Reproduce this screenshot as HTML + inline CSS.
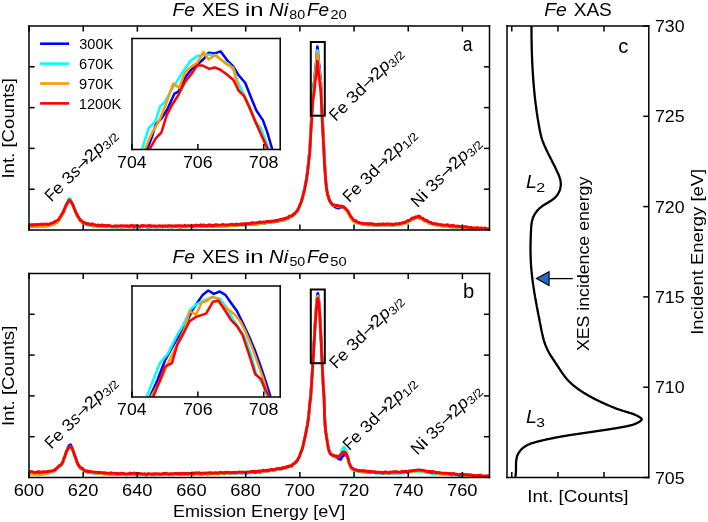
<!DOCTYPE html>
<html><head><meta charset="utf-8"><title>Fe XES / XAS</title>
<style>html,body{margin:0;padding:0;background:#fff;width:708px;height:522px;overflow:hidden}
svg{display:block;font-family:"Liberation Sans",sans-serif;will-change:transform}</style></head>
<body>
<svg width="708" height="522" viewBox="0 0 708 522"><rect width="708" height="522" fill="#fff"/><defs>
<clipPath id="ca"><rect x="29.00" y="26.00" width="460.50" height="204.00"/></clipPath>
<clipPath id="cb"><rect x="29.00" y="273.50" width="460.50" height="204.00"/></clipPath>
<clipPath id="cia"><rect x="132.00" y="38.50" width="148.20" height="111.00"/></clipPath>
<clipPath id="cib"><rect x="132.00" y="286.00" width="148.20" height="111.00"/></clipPath>
<clipPath id="cc"><rect x="507.00" y="26.00" width="141.80" height="451.50"/></clipPath>
</defs>
<polyline points="29.0,226.3 29.4,226.5 29.7,226.7 30.1,226.8 30.4,226.8 30.8,226.5 31.1,226.4 31.5,226.2 31.8,226.0 32.2,226.1 32.5,226.3 32.9,226.2 33.2,226.4 33.6,226.7 33.9,226.7 34.3,226.6 34.6,226.6 35.0,226.3 35.0,226.2 35.3,226.3 35.7,226.3 36.0,226.3 36.4,226.5 36.7,226.5 37.1,226.5 37.4,226.5 37.8,226.4 38.1,226.3 38.5,226.2 38.8,226.2 39.2,226.4 39.5,226.4 39.9,226.5 40.0,226.4 40.2,226.0 40.6,226.1 40.9,226.4 41.3,226.6 41.6,226.7 42.0,226.5 42.3,226.4 42.7,226.3 43.0,226.2 43.4,226.3 43.7,226.3 44.1,226.3 44.4,226.4 44.8,226.6 45.1,226.4 45.5,226.0 45.8,226.0 46.0,226.0 46.2,225.7 46.5,225.3 46.9,225.5 47.2,225.8 47.6,225.7 47.9,225.6 48.3,225.6 48.6,225.6 49.0,225.8 49.3,225.5 49.7,225.4 50.0,225.4 50.4,225.0 50.5,224.8 50.7,224.8 51.1,224.6 51.4,224.7 51.8,224.8 52.1,224.6 52.5,224.5 52.8,224.7 53.2,224.8 53.5,224.3 53.9,223.7 54.2,223.8 54.4,223.9 54.6,223.6 54.9,223.2 55.3,223.0 55.6,222.8 56.0,222.6 56.3,222.7 56.7,222.6 57.0,222.1 57.4,221.7 57.7,221.7 58.1,221.6 58.4,221.1 58.4,221.1 58.8,220.9 59.1,220.5 59.5,219.7 59.8,218.8 60.2,218.3 60.5,217.6 60.9,216.6 61.2,216.1 61.2,216.1 61.6,215.5 61.9,214.9 62.3,214.4 62.6,213.9 63.0,213.4 63.3,212.5 63.7,211.5 64.0,210.9 64.0,211.2 64.4,210.2 64.7,209.2 65.1,208.3 65.4,207.6 65.8,206.9 66.1,206.0 66.4,205.3 66.5,205.2 66.8,204.4 67.2,203.6 67.5,202.9 67.9,202.4 68.1,202.1 68.2,201.9 68.6,201.5 68.9,200.9 69.3,200.2 69.5,199.9 69.6,199.9 70.0,200.3 70.3,200.9 70.7,201.6 71.0,202.3 71.2,202.6 71.4,202.2 71.7,202.3 72.1,202.9 72.4,203.7 72.8,204.8 73.1,206.0 73.3,206.6 73.5,206.7 73.8,207.5 74.2,208.5 74.5,209.4 74.9,210.5 75.2,211.6 75.3,211.7 75.6,212.2 75.9,213.1 76.3,214.1 76.6,214.9 77.0,215.3 77.3,215.9 77.4,216.2 77.7,216.8 78.0,217.5 78.4,217.7 78.7,218.1 79.1,218.8 79.4,219.4 79.8,220.0 80.1,220.7 80.2,221.0 80.5,221.0 80.8,221.1 81.2,221.6 81.5,222.1 81.9,222.3 82.2,222.4 82.6,222.6 82.9,222.7 83.3,223.0 83.3,223.3 83.6,223.3 84.0,223.3 84.3,223.6 84.7,223.8 85.0,223.9 85.4,224.1 85.7,224.1 86.1,223.8 86.4,224.1 86.8,224.4 87.1,224.3 87.5,224.0 87.5,224.1 87.8,224.6 88.2,224.8 88.5,224.4 88.9,224.5 89.2,224.9 89.6,225.1 89.9,225.2 90.3,225.4 90.6,225.2 91.0,224.9 91.3,224.9 91.7,225.0 92.0,225.4 92.0,225.7 92.4,226.0 92.7,226.1 93.1,226.1 93.4,226.0 93.8,225.8 94.1,225.6 94.5,225.6 94.8,225.9 95.2,226.0 95.5,225.9 95.9,225.6 96.2,225.4 96.6,225.7 96.9,226.2 97.3,226.2 97.6,226.1 98.0,226.1 98.0,226.0 98.3,225.9 98.7,226.0 99.0,226.2 99.4,226.2 99.7,226.0 100.1,226.1 100.4,226.1 100.8,226.2 101.1,226.5 101.5,226.6 101.8,226.2 102.2,226.4 102.5,226.7 102.9,226.5 103.2,226.2 103.6,226.4 103.9,226.4 104.3,226.4 104.6,226.5 104.7,226.4 105.0,226.6 105.3,226.7 105.7,226.4 106.0,226.5 106.4,226.8 106.7,226.8 107.1,226.7 107.4,226.7 107.8,226.6 108.1,226.6 108.5,226.7 108.8,226.6 109.2,226.5 109.5,226.7 109.9,226.8 110.2,226.5 110.6,226.3 110.9,226.5 111.3,226.7 111.6,226.8 112.0,226.7 112.3,226.6 112.7,226.7 113.0,226.9 113.4,226.8 113.7,226.5 114.1,226.3 114.4,226.6 114.8,227.0 115.1,226.9 115.5,226.7 115.8,226.9 116.2,227.0 116.5,226.8 116.9,226.8 117.0,227.1 117.2,227.2 117.6,227.0 117.9,226.8 118.3,226.6 118.6,226.4 119.0,226.5 119.3,226.7 119.7,226.8 120.0,227.0 120.4,226.9 120.7,226.9 121.1,227.2 121.4,227.2 121.8,227.0 122.1,226.9 122.5,226.7 122.8,226.5 123.2,226.7 123.5,226.9 123.9,226.8 124.2,226.8 124.6,226.8 124.9,226.8 125.3,226.7 125.6,226.7 126.0,226.7 126.3,226.5 126.7,226.6 127.0,226.8 127.4,226.9 127.7,226.5 128.1,226.4 128.4,226.9 128.8,227.0 129.1,226.7 129.5,226.8 129.8,226.9 130.2,226.8 130.5,226.8 130.9,226.9 131.2,227.1 131.6,227.2 131.9,226.9 132.3,226.8 132.6,226.7 133.0,226.5 133.3,226.6 133.7,227.1 134.0,227.5 134.4,227.4 134.7,227.0 135.0,226.8 135.1,226.9 135.4,226.8 135.8,226.6 136.1,226.6 136.5,226.5 136.8,226.3 137.2,226.3 137.5,226.8 137.9,226.8 138.2,226.6 138.6,226.5 138.9,226.5 139.3,226.8 139.6,227.2 140.0,227.0 140.3,226.8 140.7,226.8 141.0,226.8 141.4,226.7 141.7,226.7 142.1,226.8 142.4,226.9 142.8,226.8 143.1,226.7 143.5,226.5 143.8,226.2 144.2,226.3 144.5,226.7 144.9,226.7 145.2,226.7 145.6,226.6 145.9,226.7 146.3,226.7 146.6,226.5 147.0,226.7 147.3,227.2 147.7,227.4 148.0,227.1 148.4,226.8 148.7,226.6 149.1,226.6 149.4,227.0 149.8,227.2 150.1,227.1 150.5,226.9 150.8,226.8 151.2,227.0 151.5,226.9 151.9,226.8 152.2,226.9 152.6,226.7 152.9,226.5 153.3,226.6 153.6,226.5 154.0,226.6 154.3,226.8 154.7,226.8 155.0,226.8 155.0,226.9 155.4,227.0 155.7,227.0 156.1,227.1 156.4,226.9 156.8,226.7 157.1,226.9 157.5,226.9 157.8,226.9 158.2,226.9 158.5,226.9 158.9,226.8 159.2,226.7 159.6,226.8 159.9,226.6 160.3,226.5 160.6,226.6 161.0,226.6 161.3,226.6 161.7,226.6 162.0,226.5 162.4,226.8 162.7,227.2 163.1,226.9 163.4,226.7 163.8,226.7 164.1,226.6 164.5,226.4 164.8,226.3 165.2,226.5 165.5,226.8 165.9,226.6 166.2,226.5 166.6,226.7 166.9,226.7 167.3,226.8 167.6,227.0 168.0,226.9 168.3,226.6 168.7,226.6 169.0,226.8 169.4,226.6 169.7,226.6 170.1,226.8 170.4,226.7 170.8,226.5 171.1,226.6 171.5,226.7 171.8,226.9 172.2,227.2 172.5,227.0 172.9,226.7 173.2,226.8 173.6,226.8 173.9,226.6 174.3,226.5 174.6,226.6 175.0,226.6 175.0,226.3 175.3,226.0 175.7,226.2 176.0,226.6 176.4,226.7 176.7,226.5 177.1,226.5 177.4,226.6 177.8,226.8 178.1,227.1 178.5,227.3 178.8,227.0 179.2,226.5 179.5,226.4 179.9,226.5 180.2,226.5 180.6,227.0 180.9,227.3 181.3,226.8 181.6,226.7 182.0,226.8 182.3,226.7 182.7,226.4 183.0,226.2 183.4,226.2 183.7,226.2 184.1,226.2 184.4,226.4 184.8,226.5 185.1,226.5 185.5,226.6 185.8,226.7 186.2,226.7 186.5,226.6 186.9,226.7 187.2,227.0 187.6,227.0 187.9,226.8 188.3,226.6 188.6,226.6 189.0,226.6 189.3,226.5 189.7,226.7 190.0,226.9 190.4,226.7 190.7,226.4 191.1,226.3 191.4,226.5 191.8,226.6 192.1,226.6 192.5,226.6 192.8,226.5 193.2,226.6 193.5,226.8 193.9,226.8 194.2,226.8 194.6,226.9 194.9,226.7 195.0,226.6 195.3,226.9 195.6,227.0 196.0,226.6 196.3,226.4 196.7,226.4 197.0,226.2 197.4,226.3 197.7,226.6 198.1,226.8 198.4,226.7 198.8,226.5 199.1,226.5 199.5,226.6 199.8,226.5 200.2,226.4 200.5,226.3 200.9,226.2 201.2,226.2 201.6,226.3 201.9,226.4 202.3,226.4 202.6,226.3 203.0,226.2 203.3,226.4 203.7,226.5 204.0,226.4 204.4,226.2 204.7,226.2 205.1,226.3 205.4,226.3 205.8,226.1 206.1,225.9 206.5,225.9 206.8,226.0 207.2,226.1 207.5,226.4 207.9,226.5 208.2,226.3 208.6,226.2 208.9,226.2 209.3,226.2 209.6,226.1 210.0,226.3 210.3,226.4 210.7,226.2 211.0,226.2 211.4,226.4 211.7,226.5 212.1,226.4 212.4,225.8 212.8,225.7 213.1,226.4 213.5,226.5 213.8,226.0 214.2,225.8 214.5,225.8 214.9,226.0 215.0,226.4 215.2,226.3 215.6,225.9 215.9,226.0 216.3,226.1 216.6,226.1 217.0,225.8 217.3,225.5 217.7,225.6 218.0,226.0 218.4,226.4 218.7,226.6 219.1,226.5 219.4,226.2 219.8,226.1 220.1,226.1 220.5,226.2 220.8,226.2 221.2,226.0 221.5,226.0 221.9,226.0 222.2,226.2 222.6,226.3 222.9,226.2 223.3,226.1 223.6,226.0 224.0,226.1 224.3,226.1 224.7,225.9 225.0,225.8 225.4,226.0 225.7,226.0 226.1,225.8 226.4,225.6 226.8,225.5 227.1,225.6 227.5,225.7 227.8,225.9 228.2,225.6 228.5,225.3 228.9,225.5 229.2,225.8 229.6,225.7 229.9,225.6 230.3,225.7 230.6,225.6 231.0,225.4 231.3,225.6 231.7,225.6 232.0,225.4 232.4,225.2 232.7,225.0 233.1,225.4 233.4,225.7 233.8,225.5 234.1,225.3 234.5,225.6 234.8,225.7 235.2,225.4 235.5,225.1 235.9,224.9 236.2,225.0 236.6,225.2 236.9,225.1 237.3,224.9 237.6,225.1 237.6,225.4 238.0,225.3 238.3,225.0 238.7,225.0 239.0,225.3 239.4,225.2 239.7,224.9 240.1,224.9 240.4,224.9 240.8,224.8 241.1,224.8 241.5,224.9 241.8,224.8 242.2,224.6 242.5,224.6 242.9,224.7 243.2,224.9 243.6,224.8 243.9,224.7 244.3,224.9 244.6,224.9 245.0,224.6 245.3,224.4 245.7,224.4 246.0,224.6 246.4,224.7 246.7,224.6 247.1,224.4 247.4,224.2 247.8,224.0 248.1,224.1 248.5,224.1 248.8,224.0 249.2,224.2 249.5,224.5 249.9,224.3 250.2,223.9 250.6,223.8 250.9,223.9 251.3,224.1 251.6,224.2 252.0,224.0 252.3,223.8 252.7,223.8 253.0,223.8 253.4,224.0 253.7,224.2 254.1,224.3 254.4,224.0 254.8,224.0 255.1,224.4 255.5,224.5 255.8,224.0 256.2,223.6 256.5,223.6 256.9,223.7 257.2,223.8 257.6,223.9 257.9,223.8 258.3,223.5 258.6,223.4 259.0,223.4 259.3,223.6 259.7,223.8 260.0,223.6 260.2,223.5 260.4,223.6 260.7,223.4 261.1,223.2 261.4,223.2 261.8,223.1 262.1,223.0 262.5,222.9 262.8,223.0 263.2,223.3 263.5,223.2 263.9,223.1 264.2,223.1 264.6,223.1 264.9,223.3 265.3,223.3 265.6,222.9 266.0,222.6 266.3,222.7 266.7,222.5 267.0,222.4 267.4,222.5 267.7,222.5 268.1,222.3 268.4,222.3 268.8,222.3 269.1,222.0 269.5,222.0 269.8,222.1 270.0,222.1 270.2,222.2 270.5,222.4 270.9,222.1 271.2,221.8 271.6,221.8 271.9,222.0 272.3,221.8 272.6,221.5 273.0,221.6 273.3,221.6 273.7,221.5 274.0,221.6 274.4,221.5 274.7,221.5 275.1,221.5 275.4,221.4 275.8,221.3 276.1,221.0 276.5,220.7 276.8,220.9 277.1,221.2 277.2,221.1 277.5,220.9 277.9,221.3 278.2,221.3 278.6,221.0 278.9,221.0 279.3,220.9 279.6,220.9 280.0,221.1 280.3,220.6 280.7,220.1 281.0,220.0 281.4,220.0 281.7,220.0 282.1,220.0 282.4,220.0 282.8,220.1 283.0,219.9 283.1,219.8 283.5,219.7 283.8,219.8 284.2,220.1 284.5,220.1 284.9,219.5 285.2,219.1 285.6,218.9 285.9,218.8 286.3,218.8 286.6,218.5 287.0,218.4 287.3,218.6 287.7,218.7 288.0,218.4 288.4,218.2 288.4,218.1 288.7,217.8 289.1,217.8 289.4,217.6 289.8,217.4 290.1,217.5 290.5,217.4 290.8,217.2 291.2,216.9 291.5,216.4 291.5,216.4 291.9,216.3 292.2,216.1 292.6,215.7 292.9,215.5 293.3,215.1 293.6,214.9 294.0,214.5 294.1,213.9 294.3,213.7 294.7,213.9 295.0,213.8 295.4,213.5 295.7,213.0 296.1,212.5 296.2,212.2 296.4,212.0 296.8,211.8 297.1,211.5 297.5,210.6 297.8,209.9 298.2,209.4 298.5,208.3 298.9,207.4 299.2,206.9 299.4,206.5 299.6,205.8 299.9,204.9 300.3,204.1 300.6,203.2 301.0,202.1 301.3,200.8 301.7,199.8 302.0,199.0 302.4,197.8 302.5,197.2 302.7,196.5 303.1,194.8 303.4,193.4 303.8,192.5 304.1,191.0 304.5,188.9 304.8,187.1 305.0,186.0 305.2,185.1 305.5,183.2 305.9,181.6 306.2,179.9 306.6,177.7 306.9,175.0 307.2,172.7 307.3,172.4 307.6,169.7 308.0,166.8 308.3,163.6 308.7,159.8 308.7,159.2 309.0,156.4 309.4,152.5 309.7,148.4 309.8,147.3 310.1,143.2 310.4,135.7 310.6,131.5 310.8,128.8 311.1,122.7 311.5,116.8 311.5,116.3 311.8,110.4 312.2,103.0 312.5,96.8 312.6,95.2 312.9,92.1 313.2,89.0 313.6,86.4 313.9,83.7 314.2,81.4 314.3,81.2 314.6,77.1 315.0,73.2 315.0,72.7 315.3,69.9 315.7,67.2 316.0,64.3 316.1,63.0 316.4,60.0 316.7,55.4 316.8,54.0 317.1,50.0 317.4,46.5 317.4,46.9 317.8,50.0 318.1,54.6 318.1,54.6 318.5,58.6 318.8,62.4 318.9,63.4 319.2,65.5 319.5,68.4 319.9,71.4 319.9,71.7 320.2,74.6 320.6,78.4 320.8,81.5 320.9,82.8 321.3,91.0 321.4,95.0 321.6,99.9 322.0,108.2 322.3,116.1 322.3,115.9 322.7,122.6 323.0,129.1 323.1,131.0 323.4,136.4 323.7,143.9 323.8,145.8 324.1,151.2 324.4,158.5 324.4,158.4 324.8,164.6 325.1,170.3 325.2,172.1 325.5,176.1 325.8,180.5 326.2,184.2 326.3,185.7 326.5,187.3 326.9,189.9 327.2,191.9 327.3,192.2 327.6,193.3 327.9,194.6 328.3,195.8 328.4,196.5 328.6,197.2 329.0,198.4 329.3,199.6 329.7,200.5 330.0,201.2 330.0,201.1 330.4,201.8 330.7,202.5 331.1,203.2 331.4,203.7 331.8,204.2 332.1,204.7 332.4,205.0 332.5,205.3 332.8,205.7 333.2,205.8 333.5,205.8 333.9,206.0 334.2,206.3 334.6,206.6 334.9,206.7 335.3,207.0 335.6,207.1 335.7,207.3 336.0,207.6 336.3,207.6 336.7,207.6 337.0,207.8 337.4,207.9 337.7,207.5 338.1,207.5 338.4,207.9 338.8,208.2 339.1,208.2 339.1,208.1 339.5,207.8 339.8,207.8 340.2,207.9 340.5,207.6 340.9,207.1 341.2,207.3 341.6,207.6 341.9,207.7 342.3,207.8 342.4,207.7 342.6,207.4 343.0,207.3 343.3,207.5 343.7,207.8 344.0,208.0 344.4,208.1 344.7,208.2 345.1,208.5 345.1,208.8 345.4,209.2 345.8,209.6 346.1,210.1 346.5,210.3 346.8,210.2 347.1,210.4 347.2,210.8 347.5,211.4 347.9,211.8 348.2,212.5 348.6,213.2 348.9,213.9 349.2,214.5 349.3,214.3 349.6,214.8 350.0,215.4 350.3,215.9 350.7,216.6 351.0,217.4 351.2,217.9 351.4,217.9 351.7,218.4 352.1,219.1 352.4,219.7 352.8,220.1 353.1,220.6 353.2,220.7 353.5,220.8 353.8,220.8 354.2,221.3 354.5,221.6 354.9,221.5 355.2,221.6 355.6,221.9 355.9,222.3 356.3,222.4 356.5,222.3 356.6,222.4 357.0,222.6 357.3,222.6 357.7,222.7 358.0,222.8 358.4,223.1 358.7,223.4 359.1,223.4 359.4,223.2 359.8,223.2 360.0,223.4 360.1,223.5 360.5,223.5 360.8,223.5 361.2,223.6 361.5,223.8 361.9,224.1 362.2,224.2 362.6,224.0 362.9,224.1 363.3,224.2 363.6,224.6 364.0,224.6 364.3,224.0 364.7,223.6 365.0,223.9 365.4,224.6 365.7,224.8 366.1,224.5 366.4,224.4 366.8,224.4 367.1,224.2 367.5,224.0 367.6,224.2 367.8,224.5 368.2,224.7 368.5,224.6 368.9,224.6 369.2,224.8 369.6,224.7 369.9,224.7 370.3,224.8 370.6,224.7 371.0,224.7 371.3,224.7 371.7,224.5 372.0,224.6 372.4,224.8 372.7,224.9 373.1,225.3 373.4,225.4 373.8,225.2 374.1,225.0 374.5,225.1 374.8,225.2 375.2,225.2 375.5,225.2 375.9,225.0 376.2,224.7 376.6,224.8 376.9,224.9 377.3,224.7 377.6,224.6 378.0,224.7 378.3,224.8 378.7,224.8 378.9,224.7 379.0,225.2 379.4,225.5 379.7,225.5 380.1,225.2 380.4,225.0 380.8,225.2 381.1,225.3 381.5,225.1 381.8,225.0 382.2,224.6 382.5,224.5 382.9,224.7 383.2,224.5 383.6,224.5 383.9,225.1 384.3,225.4 384.6,225.2 385.0,224.8 385.3,224.7 385.7,225.1 386.0,225.6 386.4,225.6 386.7,225.2 387.1,224.9 387.4,224.9 387.8,225.2 388.1,225.2 388.5,225.1 388.8,224.8 389.2,224.6 389.5,224.8 389.9,225.1 390.2,225.5 390.2,225.5 390.6,225.2 390.9,224.8 391.3,224.6 391.6,224.8 392.0,225.3 392.3,225.4 392.7,225.2 393.0,225.2 393.4,225.3 393.7,225.3 394.1,225.1 394.4,224.7 394.8,224.5 395.1,224.7 395.5,224.8 395.8,224.9 396.0,225.0 396.2,224.9 396.5,224.5 396.9,224.6 397.2,224.7 397.6,224.6 397.9,224.5 398.3,224.4 398.6,224.2 399.0,224.4 399.3,224.9 399.7,224.9 400.0,224.7 400.4,224.3 400.7,224.2 401.1,224.3 401.4,224.0 401.5,223.9 401.8,223.7 402.1,223.4 402.5,223.3 402.8,223.3 403.2,223.3 403.5,223.5 403.9,223.7 404.2,223.2 404.6,223.0 404.9,223.2 405.3,223.2 405.5,223.2 405.6,223.1 406.0,222.6 406.3,222.3 406.7,222.3 407.0,222.2 407.4,221.7 407.7,221.4 408.1,221.6 408.4,221.8 408.5,221.7 408.8,221.5 409.1,221.0 409.5,220.7 409.8,220.8 410.2,220.7 410.5,220.4 410.9,219.8 411.2,219.7 411.6,219.7 411.9,219.3 412.3,219.1 412.6,219.3 412.8,219.5 413.0,219.5 413.3,219.1 413.7,218.8 414.0,218.5 414.4,218.1 414.7,218.0 415.1,217.9 415.4,217.8 415.5,217.7 415.8,217.6 416.1,217.9 416.5,217.8 416.8,217.3 417.2,217.1 417.5,217.1 417.5,217.2 417.9,217.3 418.2,217.4 418.6,217.4 418.9,217.6 419.3,218.1 419.6,218.5 420.0,218.4 420.0,218.0 420.3,218.0 420.7,218.2 421.0,218.2 421.4,218.3 421.7,218.5 422.1,218.8 422.4,219.0 422.5,219.0 422.8,219.5 423.1,219.8 423.5,220.1 423.8,220.5 424.2,220.8 424.5,220.8 424.9,220.7 425.2,221.0 425.6,221.2 425.6,221.1 425.9,221.1 426.3,221.3 426.6,221.6 427.0,221.9 427.3,221.9 427.7,221.6 428.0,221.8 428.4,222.3 428.7,222.8 429.1,223.1 429.4,223.2 429.8,223.4 430.1,223.5 430.5,223.6 430.5,223.3 430.8,223.5 431.2,224.0 431.5,224.0 431.9,224.0 432.2,224.2 432.6,224.2 432.9,224.1 433.3,224.3 433.6,224.7 434.0,224.7 434.3,224.4 434.7,224.1 435.0,224.3 435.4,224.9 435.7,225.0 436.1,224.9 436.2,225.1 436.4,225.0 436.8,224.8 437.1,225.0 437.5,225.1 437.8,225.1 438.2,225.4 438.5,225.7 438.9,225.5 439.2,225.5 439.6,225.5 439.9,225.4 440.3,225.3 440.6,225.2 441.0,225.3 441.3,225.7 441.7,225.9 442.0,225.8 442.4,225.9 442.7,226.0 443.1,225.9 443.4,225.8 443.8,226.0 444.1,225.9 444.5,225.9 444.8,226.1 445.2,226.1 445.5,226.0 445.9,226.2 446.2,226.1 446.6,225.8 446.8,226.0 446.9,226.1 447.3,226.1 447.6,226.3 448.0,226.5 448.3,226.5 448.7,226.4 449.0,226.6 449.4,226.5 449.7,226.4 450.1,226.4 450.4,226.3 450.8,226.2 451.1,226.4 451.5,226.8 451.8,226.9 452.2,226.6 452.5,226.4 452.9,226.7 453.2,226.9 453.6,226.8 453.9,226.7 454.3,226.8 454.6,226.9 455.0,226.6 455.3,226.5 455.7,226.7 456.0,226.9 456.4,227.3 456.7,227.3 457.1,226.8 457.4,226.7 457.8,226.7 458.1,226.8 458.5,226.8 458.8,226.8 459.2,227.0 459.5,227.4 459.5,227.5 459.9,227.5 460.2,227.4 460.6,227.2 460.9,227.2 461.3,227.5 461.6,227.4 462.0,227.3 462.3,227.6 462.7,227.7 463.0,227.5 463.4,227.6 463.7,227.8 464.1,227.6 464.4,227.5 464.8,227.7 465.1,227.9 465.5,227.9 465.8,227.7 466.2,228.1 466.5,228.5 466.9,228.3 467.2,228.2 467.6,228.2 467.9,228.0 468.0,228.1 468.3,228.0 468.6,227.7 469.0,227.9 469.3,228.3 469.7,228.4 470.0,228.2 470.4,228.1 470.7,228.4 471.1,228.4 471.4,228.6 471.8,228.6 472.1,228.4 472.5,228.3 472.8,228.3 473.2,228.4 473.5,228.5 473.9,228.4 474.2,228.7 474.6,229.1 474.9,229.2 475.3,229.1 475.6,229.0 476.0,228.9 476.3,228.8 476.7,228.8 477.0,228.9 477.4,229.0 477.7,229.2 478.1,229.0 478.4,228.6 478.6,228.9 478.8,229.3 479.1,229.0 479.5,228.9 479.8,229.1 480.2,229.5 480.5,229.6 480.9,229.5 481.2,229.4 481.6,229.1 481.9,228.8 482.3,229.2 482.6,229.6 483.0,229.8 483.3,229.9 483.7,229.6 484.0,229.1 484.4,229.0 484.7,229.5 485.1,229.7 485.4,229.7 485.8,229.8 486.1,229.7 486.5,229.5 486.8,229.8 487.2,229.9 487.5,229.7 487.9,229.4 488.2,229.1 488.6,229.5 488.9,229.8 489.3,229.7 489.5,229.7" fill="none" stroke="#0000ff" stroke-width="2.70" stroke-linejoin="round" stroke-linecap="butt" clip-path="url(#ca)"/>
<polyline points="29.0,226.8 29.4,226.9 29.7,226.7 30.1,226.5 30.4,226.6 30.8,226.6 31.1,226.6 31.5,226.7 31.8,226.5 32.2,226.2 32.5,226.3 32.9,226.1 33.2,226.1 33.6,226.4 33.9,226.5 34.3,226.2 34.6,226.5 35.0,226.7 35.0,226.6 35.3,226.4 35.7,226.4 36.0,226.6 36.4,226.6 36.7,226.5 37.1,226.7 37.4,226.6 37.8,226.3 38.1,226.3 38.5,226.3 38.8,226.3 39.2,226.5 39.5,226.7 39.9,226.7 40.0,226.6 40.2,226.4 40.6,226.6 40.9,226.7 41.3,226.5 41.6,226.5 42.0,226.6 42.3,226.3 42.7,226.1 43.0,226.3 43.4,226.4 43.7,226.5 44.1,226.7 44.4,226.6 44.8,226.3 45.1,226.4 45.5,226.4 45.8,226.3 46.0,226.3 46.2,226.3 46.5,226.3 46.9,226.1 47.2,225.9 47.6,225.9 47.9,225.9 48.3,225.6 48.6,225.6 49.0,225.9 49.3,225.6 49.7,225.3 50.0,225.3 50.4,225.5 50.5,225.3 50.7,224.9 51.1,224.9 51.4,224.8 51.8,224.6 52.1,224.4 52.5,224.3 52.8,224.2 53.2,224.1 53.5,224.5 53.9,224.7 54.2,224.2 54.4,223.7 54.6,223.4 54.9,223.3 55.3,223.0 55.6,222.8 56.0,222.8 56.3,222.7 56.7,222.2 57.0,221.9 57.4,222.0 57.7,222.0 58.1,221.5 58.4,221.0 58.4,221.0 58.8,220.3 59.1,219.8 59.5,220.0 59.8,219.6 60.2,218.7 60.5,218.1 60.9,217.6 61.2,216.7 61.2,216.7 61.6,216.5 61.9,215.8 62.3,214.7 62.6,213.8 63.0,213.2 63.3,212.6 63.7,212.0 64.0,211.0 64.0,211.0 64.4,210.2 64.7,209.0 65.1,208.0 65.4,207.3 65.8,206.4 66.1,205.4 66.4,204.5 66.5,204.1 66.8,203.1 67.2,202.4 67.5,201.7 67.9,200.6 68.1,199.7 68.2,199.7 68.6,199.3 68.9,198.9 69.3,198.5 69.5,198.4 69.6,198.5 70.0,198.6 70.3,198.9 70.7,199.5 71.0,200.3 71.2,200.9 71.4,201.0 71.7,201.6 72.1,202.7 72.4,204.0 72.8,205.0 73.1,205.7 73.3,206.3 73.5,207.0 73.8,207.8 74.2,208.5 74.5,209.8 74.9,210.8 75.2,211.4 75.3,211.4 75.6,211.9 75.9,212.7 76.3,213.6 76.6,214.2 77.0,215.1 77.3,216.5 77.4,216.9 77.7,217.1 78.0,217.5 78.4,217.9 78.7,218.5 79.1,219.0 79.4,219.5 79.8,220.1 80.1,220.5 80.2,220.6 80.5,220.9 80.8,221.4 81.2,221.8 81.5,221.9 81.9,222.0 82.2,222.6 82.6,223.2 82.9,223.6 83.3,223.4 83.3,223.0 83.6,222.9 84.0,223.1 84.3,223.5 84.7,223.7 85.0,223.9 85.4,224.3 85.7,224.4 86.1,224.4 86.4,224.3 86.8,224.2 87.1,224.4 87.5,224.9 87.5,225.2 87.8,225.3 88.2,225.0 88.5,224.8 88.9,224.9 89.2,225.0 89.6,225.0 89.9,225.1 90.3,225.3 90.6,225.1 91.0,224.9 91.3,225.2 91.7,225.3 92.0,225.5 92.0,225.5 92.4,225.1 92.7,224.9 93.1,225.3 93.4,225.8 93.8,226.2 94.1,226.1 94.5,225.8 94.8,225.8 95.2,225.8 95.5,225.7 95.9,225.8 96.2,226.0 96.6,226.1 96.9,226.2 97.3,226.5 97.6,226.4 98.0,226.1 98.0,225.8 98.3,226.0 98.7,226.3 99.0,226.5 99.4,226.7 99.7,226.7 100.1,226.3 100.4,226.0 100.8,226.2 101.1,226.2 101.5,226.2 101.8,226.4 102.2,226.5 102.5,226.5 102.9,226.4 103.2,226.4 103.6,226.5 103.9,226.5 104.3,226.6 104.6,226.8 104.7,226.6 105.0,226.7 105.3,226.9 105.7,226.8 106.0,226.8 106.4,227.0 106.7,226.9 107.1,226.8 107.4,226.6 107.8,226.1 108.1,225.9 108.5,226.4 108.8,226.7 109.2,226.6 109.5,226.7 109.9,226.9 110.2,227.1 110.6,227.0 110.9,226.9 111.3,226.9 111.6,226.9 112.0,227.0 112.3,227.4 112.7,227.4 113.0,226.8 113.4,226.5 113.7,226.5 114.1,226.7 114.4,227.4 114.8,227.8 115.1,227.4 115.5,226.8 115.8,226.4 116.2,226.6 116.5,227.2 116.9,227.3 117.0,227.2 117.2,227.3 117.6,227.4 117.9,227.3 118.3,227.2 118.6,227.1 119.0,226.9 119.3,227.1 119.7,227.3 120.0,227.1 120.4,227.1 120.7,227.1 121.1,226.9 121.4,226.7 121.8,226.7 122.1,227.1 122.5,227.5 122.8,227.1 123.2,227.0 123.5,227.0 123.9,226.5 124.2,226.5 124.6,226.8 124.9,226.9 125.3,226.9 125.6,226.8 126.0,226.8 126.3,226.8 126.7,226.8 127.0,226.9 127.4,227.0 127.7,226.9 128.1,227.1 128.4,227.3 128.8,227.2 129.1,227.0 129.5,226.9 129.8,227.1 130.2,227.2 130.5,227.2 130.9,227.3 131.2,227.4 131.6,227.4 131.9,227.4 132.3,227.2 132.6,227.1 133.0,226.9 133.3,226.7 133.7,226.4 134.0,226.3 134.4,226.9 134.7,227.1 135.0,226.7 135.1,226.6 135.4,226.7 135.8,226.9 136.1,227.1 136.5,227.1 136.8,227.5 137.2,227.5 137.5,227.2 137.9,227.3 138.2,227.2 138.6,226.9 138.9,227.1 139.3,227.2 139.6,227.1 140.0,226.9 140.3,226.8 140.7,226.9 141.0,227.0 141.4,227.0 141.7,226.8 142.1,226.8 142.4,226.8 142.8,226.7 143.1,226.8 143.5,226.9 143.8,226.9 144.2,226.9 144.5,226.9 144.9,227.0 145.2,227.0 145.6,227.1 145.9,227.3 146.3,227.2 146.6,226.9 147.0,226.9 147.3,227.2 147.7,227.0 148.0,226.7 148.4,226.6 148.7,226.5 149.1,226.5 149.4,226.7 149.8,226.9 150.1,227.1 150.5,227.4 150.8,227.4 151.2,227.2 151.5,226.8 151.9,226.4 152.2,226.6 152.6,226.8 152.9,226.7 153.3,226.8 153.6,227.0 154.0,227.0 154.3,226.8 154.7,226.8 155.0,226.9 155.0,226.7 155.4,226.8 155.7,226.9 156.1,226.8 156.4,226.9 156.8,227.2 157.1,227.3 157.5,227.4 157.8,227.2 158.2,227.0 158.5,227.0 158.9,227.2 159.2,227.4 159.6,227.3 159.9,226.9 160.3,226.8 160.6,226.9 161.0,227.0 161.3,226.7 161.7,226.5 162.0,226.9 162.4,227.2 162.7,227.0 163.1,226.9 163.4,227.1 163.8,227.1 164.1,227.0 164.5,226.7 164.8,226.3 165.2,226.3 165.5,226.6 165.9,226.8 166.2,226.9 166.6,226.7 166.9,226.2 167.3,226.2 167.6,226.7 168.0,227.1 168.3,227.3 168.7,227.1 169.0,226.6 169.4,226.3 169.7,226.5 170.1,227.0 170.4,227.1 170.8,227.0 171.1,227.1 171.5,226.9 171.8,226.8 172.2,226.9 172.5,226.7 172.9,226.8 173.2,226.8 173.6,226.7 173.9,226.7 174.3,226.8 174.6,227.0 175.0,226.8 175.0,226.3 175.3,226.5 175.7,226.7 176.0,226.6 176.4,226.5 176.7,226.7 177.1,226.9 177.4,227.1 177.8,227.0 178.1,227.0 178.5,227.0 178.8,227.1 179.2,226.9 179.5,226.8 179.9,227.0 180.2,226.9 180.6,226.8 180.9,227.0 181.3,227.0 181.6,226.6 182.0,226.5 182.3,226.6 182.7,226.7 183.0,226.6 183.4,226.6 183.7,226.7 184.1,226.8 184.4,226.9 184.8,226.7 185.1,226.4 185.5,226.5 185.8,226.6 186.2,226.6 186.5,226.7 186.9,226.9 187.2,226.6 187.6,226.1 187.9,226.3 188.3,226.4 188.6,226.4 189.0,226.6 189.3,226.6 189.7,226.5 190.0,226.6 190.4,226.7 190.7,226.7 191.1,226.5 191.4,226.4 191.8,226.5 192.1,226.4 192.5,226.8 192.8,227.1 193.2,226.9 193.5,226.7 193.9,226.5 194.2,226.4 194.6,226.4 194.9,226.5 195.0,226.6 195.3,226.6 195.6,226.7 196.0,226.7 196.3,226.7 196.7,226.6 197.0,226.7 197.4,227.0 197.7,226.9 198.1,226.7 198.4,226.6 198.8,226.5 199.1,226.5 199.5,226.4 199.8,226.5 200.2,226.6 200.5,226.7 200.9,226.9 201.2,226.7 201.6,226.6 201.9,226.8 202.3,226.6 202.6,226.3 203.0,226.3 203.3,226.4 203.7,226.4 204.0,226.5 204.4,226.6 204.7,226.5 205.1,226.2 205.4,226.0 205.8,226.1 206.1,226.3 206.5,226.3 206.8,226.4 207.2,226.3 207.5,226.3 207.9,226.3 208.2,226.3 208.6,226.3 208.9,226.4 209.3,226.3 209.6,226.4 210.0,226.6 210.3,226.7 210.7,226.5 211.0,226.3 211.4,226.3 211.7,226.3 212.1,226.4 212.4,226.3 212.8,226.3 213.1,226.2 213.5,226.0 213.8,226.0 214.2,226.5 214.5,226.5 214.9,226.1 215.0,226.2 215.2,226.5 215.6,226.3 215.9,226.3 216.3,226.5 216.6,226.5 217.0,226.2 217.3,226.0 217.7,226.2 218.0,226.3 218.4,226.2 218.7,226.1 219.1,226.1 219.4,226.0 219.8,226.1 220.1,226.2 220.5,226.3 220.8,226.2 221.2,225.8 221.5,225.7 221.9,225.9 222.2,226.0 222.6,226.1 222.9,226.2 223.3,225.9 223.6,225.6 224.0,225.9 224.3,226.2 224.7,226.4 225.0,226.2 225.4,225.8 225.7,225.7 226.1,225.8 226.4,225.7 226.8,225.6 227.1,225.8 227.5,225.9 227.8,225.9 228.2,225.9 228.5,226.0 228.9,225.8 229.2,225.4 229.6,225.3 229.9,225.6 230.3,226.0 230.6,225.9 231.0,225.5 231.3,225.4 231.7,225.7 232.0,225.7 232.4,225.6 232.7,225.5 233.1,225.6 233.4,225.5 233.8,225.4 234.1,225.4 234.5,225.5 234.8,225.7 235.2,225.7 235.5,225.8 235.9,225.9 236.2,225.6 236.6,225.1 236.9,224.6 237.3,224.6 237.6,225.0 237.6,224.9 238.0,224.9 238.3,225.0 238.7,225.1 239.0,225.1 239.4,225.3 239.7,225.7 240.1,225.6 240.4,225.1 240.8,224.8 241.1,225.0 241.5,225.1 241.8,224.7 242.2,224.3 242.5,224.8 242.9,225.4 243.2,225.2 243.6,224.7 243.9,224.8 244.3,224.9 244.6,224.6 245.0,224.4 245.3,224.5 245.7,224.5 246.0,224.7 246.4,225.1 246.7,225.2 247.1,224.8 247.4,224.3 247.8,224.2 248.1,224.4 248.5,224.4 248.8,224.4 249.2,224.4 249.5,224.1 249.9,224.0 250.2,224.0 250.6,224.1 250.9,224.3 251.3,224.6 251.6,224.8 252.0,224.8 252.3,224.5 252.7,224.3 253.0,224.2 253.4,224.3 253.7,224.2 254.1,224.2 254.4,224.6 254.8,224.6 255.1,224.4 255.5,224.1 255.8,224.0 256.2,224.0 256.5,224.0 256.9,224.0 257.2,224.0 257.6,223.8 257.9,223.7 258.3,223.8 258.6,223.7 259.0,223.7 259.3,223.8 259.7,223.8 260.0,223.8 260.2,223.8 260.4,223.8 260.7,223.5 261.1,223.1 261.4,223.2 261.8,223.7 262.1,223.5 262.5,223.0 262.8,223.1 263.2,223.2 263.5,223.1 263.9,223.4 264.2,223.5 264.6,223.5 264.9,223.2 265.3,222.8 265.6,222.7 266.0,222.6 266.3,222.5 266.7,222.8 267.0,222.7 267.4,222.6 267.7,222.8 268.1,222.7 268.4,222.5 268.8,222.5 269.1,222.1 269.5,222.1 269.8,222.4 270.0,222.6 270.2,222.6 270.5,222.4 270.9,222.4 271.2,222.5 271.6,222.1 271.9,221.8 272.3,222.1 272.6,222.1 273.0,221.9 273.3,222.0 273.7,222.1 274.0,222.1 274.4,222.1 274.7,222.1 275.1,222.1 275.4,222.0 275.8,221.8 276.1,221.6 276.5,221.5 276.8,221.3 277.1,221.2 277.2,221.3 277.5,221.2 277.9,220.9 278.2,220.8 278.6,220.8 278.9,220.7 279.3,221.0 279.6,221.0 280.0,220.8 280.3,220.6 280.7,220.6 281.0,220.4 281.4,220.2 281.7,220.2 282.1,220.2 282.4,219.9 282.8,219.8 283.0,219.8 283.1,219.6 283.5,219.7 283.8,219.7 284.2,219.5 284.5,219.4 284.9,219.5 285.2,219.3 285.6,219.0 285.9,218.9 286.3,218.8 286.6,218.5 287.0,218.5 287.3,218.4 287.7,218.1 288.0,218.0 288.4,218.0 288.4,218.0 288.7,217.8 289.1,217.9 289.4,217.9 289.8,217.7 290.1,217.7 290.5,217.5 290.8,217.3 291.2,217.0 291.5,216.7 291.5,216.8 291.9,216.8 292.2,216.4 292.6,216.0 292.9,215.6 293.3,215.1 293.6,214.8 294.0,214.5 294.1,214.6 294.3,214.5 294.7,214.2 295.0,214.0 295.4,213.7 295.7,213.2 296.1,212.8 296.2,212.4 296.4,212.0 296.8,211.5 297.1,211.1 297.5,210.7 297.8,210.0 298.2,209.1 298.5,208.4 298.9,207.9 299.2,207.0 299.4,206.2 299.6,205.8 299.9,205.1 300.3,204.2 300.6,203.2 301.0,202.4 301.3,201.4 301.7,200.2 302.0,199.1 302.4,197.9 302.5,197.3 302.7,196.6 303.1,195.4 303.4,194.1 303.8,192.4 304.1,190.6 304.5,189.1 304.8,187.5 305.0,186.7 305.2,186.2 305.5,184.2 305.9,182.1 306.2,180.3 306.6,178.1 306.9,175.4 307.2,173.2 307.3,173.0 307.6,170.0 308.0,166.9 308.3,163.9 308.7,160.7 308.7,160.3 309.0,157.4 309.4,153.7 309.7,149.7 309.8,148.7 310.1,144.8 310.4,137.5 310.6,133.2 310.8,130.3 311.1,124.6 311.5,118.9 311.5,118.0 311.8,112.0 312.2,104.7 312.5,98.9 312.6,97.8 312.9,94.8 313.2,91.4 313.6,88.8 313.9,86.5 314.2,83.8 314.3,83.3 314.6,79.5 315.0,75.4 315.0,74.8 315.3,72.5 315.7,69.8 316.0,67.0 316.1,66.1 316.4,62.8 316.7,58.3 316.8,57.7 317.1,54.2 317.4,50.5 317.4,50.3 317.8,52.9 318.1,57.0 318.1,57.0 318.5,61.4 318.8,65.5 318.9,66.3 319.2,68.7 319.5,71.8 319.9,74.7 319.9,75.2 320.2,77.7 320.6,80.5 320.8,83.6 320.9,85.7 321.3,93.7 321.4,97.0 321.6,101.4 322.0,109.5 322.3,117.7 322.3,117.6 322.7,124.1 323.0,130.7 323.1,132.7 323.4,138.1 323.7,145.3 323.8,146.9 324.1,152.1 324.4,159.3 324.4,159.6 324.8,166.1 325.1,171.4 325.2,172.6 325.5,176.3 325.8,181.0 326.2,184.7 326.3,186.0 326.5,187.4 326.9,189.7 327.2,191.9 327.3,192.7 327.6,193.9 327.9,195.3 328.3,196.4 328.4,197.0 328.6,197.8 329.0,199.0 329.3,199.6 329.7,200.0 330.0,200.8 330.0,201.2 330.4,201.9 330.7,202.2 331.1,202.6 331.4,203.1 331.8,203.7 332.1,204.2 332.4,204.6 332.5,204.6 332.8,204.8 333.2,205.2 333.5,205.5 333.9,205.6 334.2,205.5 334.6,205.2 334.9,205.0 335.3,205.1 335.6,205.1 335.7,205.0 336.0,205.4 336.3,206.1 336.7,206.2 337.0,206.1 337.4,206.3 337.7,206.5 338.1,206.6 338.4,206.5 338.8,206.4 339.1,206.5 339.1,206.6 339.5,206.7 339.8,206.4 340.2,206.5 340.5,206.9 340.9,207.1 341.2,207.0 341.6,206.7 341.9,206.4 342.3,206.8 342.4,207.1 342.6,207.1 343.0,207.4 343.3,207.7 343.7,207.8 344.0,208.1 344.4,208.4 344.7,208.6 345.1,209.1 345.1,209.3 345.4,209.2 345.8,209.2 346.1,209.5 346.5,209.8 346.8,210.7 347.1,211.2 347.2,211.0 347.5,211.5 347.9,212.1 348.2,212.7 348.6,213.2 348.9,213.9 349.2,214.6 349.3,214.6 349.6,215.1 350.0,215.9 350.3,216.6 350.7,217.2 351.0,217.8 351.2,218.1 351.4,218.1 351.7,218.5 352.1,219.0 352.4,219.5 352.8,220.0 353.1,220.4 353.2,220.4 353.5,220.6 353.8,220.8 354.2,221.1 354.5,221.3 354.9,221.6 355.2,222.0 355.6,222.5 355.9,223.0 356.3,223.0 356.5,222.8 356.6,223.0 357.0,223.1 357.3,222.8 357.7,222.5 358.0,222.7 358.4,223.1 358.7,223.2 359.1,223.3 359.4,223.4 359.8,223.4 360.0,223.5 360.1,223.4 360.5,223.7 360.8,224.2 361.2,224.3 361.5,224.0 361.9,223.7 362.2,223.6 362.6,223.8 362.9,224.2 363.3,224.4 363.6,224.6 364.0,224.7 364.3,224.5 364.7,224.3 365.0,224.4 365.4,224.4 365.7,224.3 366.1,224.4 366.4,224.8 366.8,225.1 367.1,224.9 367.5,224.7 367.6,224.6 367.8,224.8 368.2,225.0 368.5,225.0 368.9,225.0 369.2,225.1 369.6,225.0 369.9,224.9 370.3,225.0 370.6,225.1 371.0,225.2 371.3,225.1 371.7,224.9 372.0,225.0 372.4,225.3 372.7,225.4 373.1,225.3 373.4,225.2 373.8,225.0 374.1,224.9 374.5,225.0 374.8,225.1 375.2,225.1 375.5,224.9 375.9,224.9 376.2,225.0 376.6,225.1 376.9,225.0 377.3,225.2 377.6,225.2 378.0,225.0 378.3,225.0 378.7,225.1 378.9,225.1 379.0,225.1 379.4,225.0 379.7,225.2 380.1,225.3 380.4,225.1 380.8,224.9 381.1,224.9 381.5,225.2 381.8,225.5 382.2,225.6 382.5,225.3 382.9,224.9 383.2,225.3 383.6,225.7 383.9,225.3 384.3,224.8 384.6,224.9 385.0,225.2 385.3,225.1 385.7,224.9 386.0,225.0 386.4,225.1 386.7,225.0 387.1,225.1 387.4,225.2 387.8,225.1 388.1,225.3 388.5,225.4 388.8,225.1 389.2,225.0 389.5,225.1 389.9,225.2 390.2,225.2 390.2,225.1 390.6,225.0 390.9,225.1 391.3,225.4 391.6,225.6 392.0,225.3 392.3,224.9 392.7,224.9 393.0,225.1 393.4,225.0 393.7,225.0 394.1,225.2 394.4,225.3 394.8,225.5 395.1,225.2 395.5,224.6 395.8,224.4 396.0,224.8 396.2,224.9 396.5,224.8 396.9,224.8 397.2,225.0 397.6,225.2 397.9,225.4 398.3,225.3 398.6,225.1 399.0,225.0 399.3,224.9 399.7,224.5 400.0,224.4 400.4,224.3 400.7,224.1 401.1,224.2 401.4,224.3 401.5,224.2 401.8,224.1 402.1,224.1 402.5,224.0 402.8,224.1 403.2,224.0 403.5,223.7 403.9,223.5 404.2,223.4 404.6,223.5 404.9,223.4 405.3,223.0 405.5,222.8 405.6,223.1 406.0,223.3 406.3,223.1 406.7,222.6 407.0,222.4 407.4,222.2 407.7,222.0 408.1,221.9 408.4,221.9 408.5,222.1 408.8,222.0 409.1,221.5 409.5,221.1 409.8,220.8 410.2,220.5 410.5,220.4 410.9,220.4 411.2,220.1 411.6,219.7 411.9,219.4 412.3,219.2 412.6,219.0 412.8,218.9 413.0,219.0 413.3,219.0 413.7,218.7 414.0,218.2 414.4,218.0 414.7,218.2 415.1,218.2 415.4,218.1 415.5,217.8 415.8,217.7 416.1,217.9 416.5,217.9 416.8,217.7 417.2,217.7 417.5,217.5 417.5,217.4 417.9,217.4 418.2,217.7 418.6,217.7 418.9,217.6 419.3,217.6 419.6,217.9 420.0,218.1 420.0,217.9 420.3,218.1 420.7,218.5 421.0,218.6 421.4,218.5 421.7,218.6 422.1,219.0 422.4,219.4 422.5,219.6 422.8,219.7 423.1,219.9 423.5,220.1 423.8,220.4 424.2,220.6 424.5,220.6 424.9,220.7 425.2,221.2 425.6,221.1 425.6,220.8 425.9,221.2 426.3,221.5 426.6,221.3 427.0,221.3 427.3,221.7 427.7,222.2 428.0,222.7 428.4,223.0 428.7,222.9 429.1,222.9 429.4,223.3 429.8,223.5 430.1,223.7 430.5,223.7 430.5,223.4 430.8,223.4 431.2,223.6 431.5,224.0 431.9,224.3 432.2,224.2 432.6,224.0 432.9,224.1 433.3,224.3 433.6,224.5 434.0,224.6 434.3,224.7 434.7,225.0 435.0,225.1 435.4,225.0 435.7,224.9 436.1,224.7 436.2,224.6 436.4,224.9 436.8,225.3 437.1,225.5 437.5,225.4 437.8,225.5 438.2,225.5 438.5,225.7 438.9,226.0 439.2,225.9 439.6,225.4 439.9,225.2 440.3,225.7 440.6,225.7 441.0,225.6 441.3,225.7 441.7,225.6 442.0,225.5 442.4,225.5 442.7,225.9 443.1,226.3 443.4,226.2 443.8,225.8 444.1,225.7 444.5,225.5 444.8,225.7 445.2,226.2 445.5,226.3 445.9,226.1 446.2,226.2 446.6,226.4 446.8,226.2 446.9,225.9 447.3,226.2 447.6,226.4 448.0,226.2 448.3,226.2 448.7,226.3 449.0,226.4 449.4,226.7 449.7,227.0 450.1,227.0 450.4,226.9 450.8,226.6 451.1,226.6 451.5,226.8 451.8,226.6 452.2,226.3 452.5,226.4 452.9,226.7 453.2,227.0 453.6,227.2 453.9,227.1 454.3,227.1 454.6,227.0 455.0,227.0 455.3,227.0 455.7,227.0 456.0,227.0 456.4,227.0 456.7,227.2 457.1,227.0 457.4,226.9 457.8,227.3 458.1,227.3 458.5,227.2 458.8,227.1 459.2,227.1 459.5,227.2 459.5,227.3 459.9,227.2 460.2,227.2 460.6,227.3 460.9,227.3 461.3,227.3 461.6,227.3 462.0,227.3 462.3,227.3 462.7,227.7 463.0,227.7 463.4,227.7 463.7,228.1 464.1,228.3 464.4,227.8 464.8,227.4 465.1,227.4 465.5,227.8 465.8,228.2 466.2,228.2 466.5,228.1 466.9,228.2 467.2,228.1 467.6,228.0 467.9,228.0 468.0,228.4 468.3,228.5 468.6,228.2 469.0,228.0 469.3,228.4 469.7,228.8 470.0,228.5 470.4,228.4 470.7,228.6 471.1,228.4 471.4,228.5 471.8,228.6 472.1,228.6 472.5,228.6 472.8,228.7 473.2,228.8 473.5,228.9 473.9,228.9 474.2,228.9 474.6,228.9 474.9,229.2 475.3,229.4 475.6,229.2 476.0,229.1 476.3,229.0 476.7,228.8 477.0,229.1 477.4,229.3 477.7,229.3 478.1,229.5 478.4,229.6 478.6,229.4 478.8,229.1 479.1,229.0 479.5,229.1 479.8,229.2 480.2,229.3 480.5,229.4 480.9,229.3 481.2,229.3 481.6,229.4 481.9,229.5 482.3,229.5 482.6,229.3 483.0,229.3 483.3,229.5 483.7,229.7 484.0,229.7 484.4,229.5 484.7,229.5 485.1,229.5 485.4,229.4 485.8,229.5 486.1,229.5 486.5,229.7 486.8,230.0 487.2,230.1 487.5,230.0 487.9,230.0 488.2,230.3 488.6,230.1 488.9,229.6 489.3,229.5 489.5,229.5" fill="none" stroke="#00ffff" stroke-width="2.70" stroke-linejoin="round" stroke-linecap="butt" clip-path="url(#ca)"/>
<polyline points="29.0,226.6 29.4,226.5 29.7,226.5 30.1,226.6 30.4,226.7 30.8,226.6 31.1,226.4 31.5,226.5 31.8,226.6 32.2,226.8 32.5,226.9 32.9,226.7 33.2,226.4 33.6,226.3 33.9,226.4 34.3,226.2 34.6,225.9 35.0,226.0 35.0,226.3 35.3,226.3 35.7,226.3 36.0,226.3 36.4,226.1 36.7,226.3 37.1,226.8 37.4,226.9 37.8,226.7 38.1,226.5 38.5,226.4 38.8,226.4 39.2,226.3 39.5,226.0 39.9,226.0 40.0,226.3 40.2,226.3 40.6,226.3 40.9,226.5 41.3,226.5 41.6,226.6 42.0,226.4 42.3,226.4 42.7,226.3 43.0,226.0 43.4,226.3 43.7,226.4 44.1,226.2 44.4,226.1 44.8,226.1 45.1,226.1 45.5,226.1 45.8,226.1 46.0,225.9 46.2,225.8 46.5,225.7 46.9,225.8 47.2,226.0 47.6,226.1 47.9,226.1 48.3,226.1 48.6,225.8 49.0,225.4 49.3,225.3 49.7,225.3 50.0,225.2 50.4,224.9 50.5,224.6 50.7,224.3 51.1,224.4 51.4,224.8 51.8,224.7 52.1,224.4 52.5,224.3 52.8,224.0 53.2,223.8 53.5,223.8 53.9,223.6 54.2,223.3 54.4,223.3 54.6,223.7 54.9,223.8 55.3,223.5 55.6,223.3 56.0,223.1 56.3,222.4 56.7,221.8 57.0,221.7 57.4,221.8 57.7,221.7 58.1,221.2 58.4,220.9 58.4,221.2 58.8,220.7 59.1,220.1 59.5,219.4 59.8,218.8 60.2,218.2 60.5,217.4 60.9,216.7 61.2,216.0 61.2,216.3 61.6,216.2 61.9,215.8 62.3,215.0 62.6,213.9 63.0,213.1 63.3,212.7 63.7,212.0 64.0,211.2 64.0,211.3 64.4,210.3 64.7,209.1 65.1,208.3 65.4,207.5 65.8,206.5 66.1,205.7 66.4,204.9 66.5,204.6 66.8,204.1 67.2,203.7 67.5,203.2 67.9,202.6 68.1,202.2 68.2,202.1 68.6,201.3 68.9,200.4 69.3,200.1 69.5,200.1 69.6,200.2 70.0,200.3 70.3,200.5 70.7,201.0 71.0,201.4 71.2,201.6 71.4,201.9 71.7,202.5 72.1,203.1 72.4,204.0 72.8,205.1 73.1,206.0 73.3,206.5 73.5,206.9 73.8,207.6 74.2,208.5 74.5,209.4 74.9,210.5 75.2,211.3 75.3,211.4 75.6,212.0 75.9,212.9 76.3,213.7 76.6,214.7 77.0,215.6 77.3,216.3 77.4,216.4 77.7,216.7 78.0,217.3 78.4,217.9 78.7,218.4 79.1,218.9 79.4,219.4 79.8,219.9 80.1,220.1 80.2,220.1 80.5,220.7 80.8,221.5 81.2,221.9 81.5,222.0 81.9,222.1 82.2,222.4 82.6,222.8 82.9,222.8 83.3,223.0 83.3,223.2 83.6,223.2 84.0,223.1 84.3,223.3 84.7,223.6 85.0,223.9 85.4,223.9 85.7,223.6 86.1,223.6 86.4,223.9 86.8,224.1 87.1,224.3 87.5,224.5 87.5,224.5 87.8,224.4 88.2,224.2 88.5,224.3 88.9,224.5 89.2,224.5 89.6,224.7 89.9,224.8 90.3,225.0 90.6,225.2 91.0,225.1 91.3,225.0 91.7,225.1 92.0,225.2 92.0,225.3 92.4,225.4 92.7,225.6 93.1,225.5 93.4,225.1 93.8,225.4 94.1,225.9 94.5,225.9 94.8,225.5 95.2,225.5 95.5,225.9 95.9,226.0 96.2,225.7 96.6,225.7 96.9,225.9 97.3,225.6 97.6,225.3 98.0,225.7 98.0,226.1 98.3,226.0 98.7,225.8 99.0,225.8 99.4,225.9 99.7,226.0 100.1,226.2 100.4,226.5 100.8,226.3 101.1,225.9 101.5,226.0 101.8,226.4 102.2,226.5 102.5,226.6 102.9,226.4 103.2,226.1 103.6,226.0 103.9,226.3 104.3,226.5 104.6,226.4 104.7,226.4 105.0,226.5 105.3,226.6 105.7,226.7 106.0,226.8 106.4,226.6 106.7,226.5 107.1,226.7 107.4,226.7 107.8,226.7 108.1,226.8 108.5,226.9 108.8,226.8 109.2,226.7 109.5,226.8 109.9,226.9 110.2,227.0 110.6,227.1 110.9,226.9 111.3,226.7 111.6,226.9 112.0,227.0 112.3,226.8 112.7,226.6 113.0,226.6 113.4,226.8 113.7,226.9 114.1,227.0 114.4,227.2 114.8,227.0 115.1,226.7 115.5,226.7 115.8,226.7 116.2,226.7 116.5,226.8 116.9,227.0 117.0,227.1 117.2,226.8 117.6,226.5 117.9,226.7 118.3,226.9 118.6,226.8 119.0,226.9 119.3,227.1 119.7,227.2 120.0,227.0 120.4,226.7 120.7,226.8 121.1,226.8 121.4,226.6 121.8,226.9 122.1,227.0 122.5,227.0 122.8,227.1 123.2,227.1 123.5,226.8 123.9,226.8 124.2,226.6 124.6,226.8 124.9,227.3 125.3,227.3 125.6,227.2 126.0,227.2 126.3,227.0 126.7,226.7 127.0,226.9 127.4,226.9 127.7,226.8 128.1,227.0 128.4,227.2 128.8,226.7 129.1,226.3 129.5,226.6 129.8,226.9 130.2,227.1 130.5,227.1 130.9,227.4 131.2,227.6 131.6,227.4 131.9,227.2 132.3,227.0 132.6,226.9 133.0,226.9 133.3,226.9 133.7,226.8 134.0,226.9 134.4,226.9 134.7,226.9 135.0,226.8 135.1,226.8 135.4,226.9 135.8,226.8 136.1,226.6 136.5,226.7 136.8,227.1 137.2,227.1 137.5,226.9 137.9,226.8 138.2,226.7 138.6,226.7 138.9,226.7 139.3,226.7 139.6,226.9 140.0,227.0 140.3,226.8 140.7,226.6 141.0,226.6 141.4,226.6 141.7,226.8 142.1,227.0 142.4,227.2 142.8,227.3 143.1,227.2 143.5,226.7 143.8,226.6 144.2,226.7 144.5,226.8 144.9,226.7 145.2,226.6 145.6,226.5 145.9,226.7 146.3,226.9 146.6,226.9 147.0,226.6 147.3,226.5 147.7,226.6 148.0,226.7 148.4,226.7 148.7,226.7 149.1,226.7 149.4,226.8 149.8,226.6 150.1,226.4 150.5,226.5 150.8,226.5 151.2,226.2 151.5,226.4 151.9,226.7 152.2,226.7 152.6,226.8 152.9,226.8 153.3,226.8 153.6,227.1 154.0,226.9 154.3,226.4 154.7,226.7 155.0,227.0 155.0,226.7 155.4,226.6 155.7,226.6 156.1,226.5 156.4,226.6 156.8,226.7 157.1,226.8 157.5,227.1 157.8,227.1 158.2,226.7 158.5,226.7 158.9,226.9 159.2,226.9 159.6,226.7 159.9,226.8 160.3,227.2 160.6,227.2 161.0,226.9 161.3,226.9 161.7,226.9 162.0,226.7 162.4,226.5 162.7,226.4 163.1,226.5 163.4,226.7 163.8,226.9 164.1,226.7 164.5,226.5 164.8,226.5 165.2,226.6 165.5,226.9 165.9,226.7 166.2,226.6 166.6,226.8 166.9,226.9 167.3,226.7 167.6,226.6 168.0,226.8 168.3,226.9 168.7,226.7 169.0,226.7 169.4,226.8 169.7,226.9 170.1,226.8 170.4,226.8 170.8,226.6 171.1,226.5 171.5,226.8 171.8,227.0 172.2,227.1 172.5,227.3 172.9,227.1 173.2,226.5 173.6,226.3 173.9,226.6 174.3,226.7 174.6,226.7 175.0,226.5 175.0,226.4 175.3,226.4 175.7,226.6 176.0,226.8 176.4,227.0 176.7,226.9 177.1,226.8 177.4,226.6 177.8,226.8 178.1,227.3 178.5,227.3 178.8,227.0 179.2,226.6 179.5,226.4 179.9,226.4 180.2,226.5 180.6,226.7 180.9,226.9 181.3,227.1 181.6,227.1 182.0,227.0 182.3,226.7 182.7,226.3 183.0,226.3 183.4,226.6 183.7,226.8 184.1,226.8 184.4,226.8 184.8,226.9 185.1,227.1 185.5,226.9 185.8,226.7 186.2,226.8 186.5,226.8 186.9,226.6 187.2,226.7 187.6,226.7 187.9,226.3 188.3,226.3 188.6,226.4 189.0,226.3 189.3,226.6 189.7,226.9 190.0,226.8 190.4,226.5 190.7,226.4 191.1,226.6 191.4,226.5 191.8,226.3 192.1,226.4 192.5,226.2 192.8,226.0 193.2,226.3 193.5,226.6 193.9,226.4 194.2,226.5 194.6,226.6 194.9,226.6 195.0,226.6 195.3,226.6 195.6,226.5 196.0,226.5 196.3,226.5 196.7,226.6 197.0,226.8 197.4,226.8 197.7,226.3 198.1,226.1 198.4,226.3 198.8,226.5 199.1,226.5 199.5,226.5 199.8,226.5 200.2,226.3 200.5,226.1 200.9,226.1 201.2,226.3 201.6,226.6 201.9,226.7 202.3,226.5 202.6,226.3 203.0,226.4 203.3,226.8 203.7,226.6 204.0,226.5 204.4,226.6 204.7,226.5 205.1,226.5 205.4,226.7 205.8,226.4 206.1,226.2 206.5,226.3 206.8,226.3 207.2,226.0 207.5,225.9 207.9,226.2 208.2,226.3 208.6,226.4 208.9,226.6 209.3,226.5 209.6,226.2 210.0,226.0 210.3,226.1 210.7,226.3 211.0,226.4 211.4,226.3 211.7,226.3 212.1,226.5 212.4,226.6 212.8,226.5 213.1,226.4 213.5,226.3 213.8,226.4 214.2,226.3 214.5,225.9 214.9,226.0 215.0,226.2 215.2,226.1 215.6,226.0 215.9,226.2 216.3,226.0 216.6,225.8 217.0,225.7 217.3,225.9 217.7,226.4 218.0,226.4 218.4,225.8 218.7,225.8 219.1,226.1 219.4,225.9 219.8,225.7 220.1,225.7 220.5,225.9 220.8,226.0 221.2,226.0 221.5,225.8 221.9,225.7 222.2,225.7 222.6,225.8 222.9,225.9 223.3,225.9 223.6,225.8 224.0,225.9 224.3,226.2 224.7,226.2 225.0,226.3 225.4,226.5 225.7,226.3 226.1,225.9 226.4,225.7 226.8,225.7 227.1,225.8 227.5,225.8 227.8,225.7 228.2,225.7 228.5,225.9 228.9,225.7 229.2,225.4 229.6,225.4 229.9,225.5 230.3,225.6 230.6,225.6 231.0,225.5 231.3,225.4 231.7,225.3 232.0,225.1 232.4,225.3 232.7,225.6 233.1,225.7 233.4,225.3 233.8,225.1 234.1,225.3 234.5,225.5 234.8,225.4 235.2,225.3 235.5,225.1 235.9,225.1 236.2,225.2 236.6,225.3 236.9,225.1 237.3,224.9 237.6,224.9 237.6,225.1 238.0,225.1 238.3,225.2 238.7,225.4 239.0,225.2 239.4,224.8 239.7,224.7 240.1,224.9 240.4,225.0 240.8,224.9 241.1,224.7 241.5,224.7 241.8,225.0 242.2,225.1 242.5,225.0 242.9,224.8 243.2,224.5 243.6,224.4 243.9,224.5 244.3,224.7 244.6,224.8 245.0,224.7 245.3,224.7 245.7,224.8 246.0,224.5 246.4,224.3 246.7,224.3 247.1,224.4 247.4,224.7 247.8,224.7 248.1,224.6 248.5,224.4 248.8,223.9 249.2,223.9 249.5,224.3 249.9,224.3 250.2,224.1 250.6,224.0 250.9,223.7 251.3,223.9 251.6,224.1 252.0,224.0 252.3,224.0 252.7,224.0 253.0,224.0 253.4,224.1 253.7,223.7 254.1,223.3 254.4,223.5 254.8,223.8 255.1,223.7 255.5,223.7 255.8,223.6 256.2,223.6 256.5,223.9 256.9,224.0 257.2,223.9 257.6,223.9 257.9,223.8 258.3,223.7 258.6,223.7 259.0,223.7 259.3,223.7 259.7,223.6 260.0,223.6 260.2,223.5 260.4,223.5 260.7,223.3 261.1,223.0 261.4,223.0 261.8,223.0 262.1,223.0 262.5,223.2 262.8,223.1 263.2,223.3 263.5,223.3 263.9,222.8 264.2,222.4 264.6,222.5 264.9,222.8 265.3,222.8 265.6,222.5 266.0,222.8 266.3,223.1 266.7,223.0 267.0,222.5 267.4,222.3 267.7,222.6 268.1,222.7 268.4,222.4 268.8,222.4 269.1,222.4 269.5,222.5 269.8,222.4 270.0,222.1 270.2,221.8 270.5,221.9 270.9,222.0 271.2,222.1 271.6,222.2 271.9,222.1 272.3,221.9 272.6,221.9 273.0,221.6 273.3,221.7 273.7,221.9 274.0,221.8 274.4,221.6 274.7,221.4 275.1,221.4 275.4,221.6 275.8,221.4 276.1,221.2 276.5,221.3 276.8,221.5 277.1,221.3 277.2,221.1 277.5,221.1 277.9,221.3 278.2,221.2 278.6,220.6 278.9,220.4 279.3,220.3 279.6,220.4 280.0,220.5 280.3,220.6 280.7,220.6 281.0,220.5 281.4,220.4 281.7,220.1 282.1,220.1 282.4,220.4 282.8,220.5 283.0,220.1 283.1,219.9 283.5,219.6 283.8,219.2 284.2,219.2 284.5,219.3 284.9,219.3 285.2,219.3 285.6,218.9 285.9,218.6 286.3,218.7 286.6,218.9 287.0,218.9 287.3,218.6 287.7,218.1 288.0,217.7 288.4,217.8 288.4,218.2 288.7,218.2 289.1,217.7 289.4,217.3 289.8,217.4 290.1,217.2 290.5,217.0 290.8,217.0 291.2,216.9 291.5,216.5 291.5,216.4 291.9,216.7 292.2,216.7 292.6,216.0 292.9,215.5 293.3,215.3 293.6,215.1 294.0,214.8 294.1,214.4 294.3,214.0 294.7,214.0 295.0,214.0 295.4,213.4 295.7,212.7 296.1,212.3 296.2,212.4 296.4,212.3 296.8,211.9 297.1,211.3 297.5,210.7 297.8,210.0 298.2,208.8 298.5,207.8 298.9,207.3 299.2,206.7 299.4,206.3 299.6,206.0 299.9,205.1 300.3,204.1 300.6,203.3 301.0,202.2 301.3,201.1 301.7,200.2 302.0,199.1 302.4,198.0 302.5,197.4 302.7,196.8 303.1,195.5 303.4,193.9 303.8,192.7 304.1,191.3 304.5,189.7 304.8,188.1 305.0,187.1 305.2,186.3 305.5,184.6 305.9,182.7 306.2,180.7 306.6,178.5 306.9,176.1 307.2,173.9 307.3,173.5 307.6,170.5 308.0,167.4 308.3,164.4 308.7,161.2 308.7,160.8 309.0,158.1 309.4,154.8 309.7,150.6 309.8,149.1 310.1,144.9 310.4,138.0 310.6,134.5 310.8,132.0 311.1,126.1 311.5,120.2 311.5,119.4 311.8,113.5 312.2,106.3 312.5,100.5 312.6,99.5 312.9,97.0 313.2,93.7 313.6,90.9 313.9,88.1 314.2,85.7 314.3,85.5 314.6,81.7 315.0,77.8 315.0,77.3 315.3,75.0 315.7,72.8 316.0,70.3 316.1,69.3 316.4,66.6 316.7,62.2 316.8,60.6 317.1,56.4 317.4,52.9 317.4,52.9 317.8,55.8 318.1,60.4 318.1,60.5 318.5,64.3 318.8,67.8 318.9,68.4 319.2,70.4 319.5,73.9 319.9,77.4 319.9,77.7 320.2,80.0 320.6,83.3 320.8,86.0 320.9,87.5 321.3,95.7 321.4,99.1 321.6,103.4 322.0,111.8 322.3,119.6 322.3,119.7 322.7,126.1 323.0,132.0 323.1,133.8 323.4,139.1 323.7,146.5 323.8,148.7 324.1,153.8 324.4,160.4 324.4,160.2 324.8,166.5 325.1,172.1 325.2,173.5 325.5,177.1 325.8,181.5 326.2,185.2 326.3,186.6 326.5,188.3 326.9,190.9 327.2,192.6 327.3,192.8 327.6,193.8 327.9,195.5 328.3,196.8 328.4,197.0 328.6,197.7 329.0,199.0 329.3,199.8 329.7,200.6 330.0,201.3 330.0,201.1 330.4,201.6 330.7,202.6 331.1,203.4 331.4,203.8 331.8,203.9 332.1,204.2 332.4,204.8 332.5,204.8 332.8,204.6 333.2,204.9 333.5,205.3 333.9,205.5 334.2,205.5 334.6,205.4 334.9,205.3 335.3,205.5 335.6,205.7 335.7,205.7 336.0,205.8 336.3,205.7 336.7,205.6 337.0,206.0 337.4,206.1 337.7,205.8 338.1,206.0 338.4,206.4 338.8,206.4 339.1,206.3 339.1,206.6 339.5,207.0 339.8,206.8 340.2,206.7 340.5,206.8 340.9,206.8 341.2,206.7 341.6,206.9 341.9,207.0 342.3,206.8 342.4,206.8 342.6,206.9 343.0,207.2 343.3,207.4 343.7,207.4 344.0,207.8 344.4,208.3 344.7,208.5 345.1,209.0 345.1,208.8 345.4,208.7 345.8,209.1 346.1,209.7 346.5,210.3 346.8,211.1 347.1,211.5 347.2,211.5 347.5,212.3 347.9,213.0 348.2,213.1 348.6,213.5 348.9,214.3 349.2,215.0 349.3,215.2 349.6,216.1 350.0,216.7 350.3,217.1 350.7,217.3 351.0,217.7 351.2,218.1 351.4,218.4 351.7,218.9 352.1,219.5 352.4,220.3 352.8,220.8 353.1,220.7 353.2,220.2 353.5,220.5 353.8,220.9 354.2,220.9 354.5,221.5 354.9,222.1 355.2,222.2 355.6,222.2 355.9,222.5 356.3,222.8 356.5,222.8 356.6,222.7 357.0,222.6 357.3,222.6 357.7,222.8 358.0,222.7 358.4,222.6 358.7,223.1 359.1,223.5 359.4,223.5 359.8,223.3 360.0,223.3 360.1,223.3 360.5,223.5 360.8,223.9 361.2,224.2 361.5,224.2 361.9,223.9 362.2,223.9 362.6,224.0 362.9,224.2 363.3,224.4 363.6,224.4 364.0,224.2 364.3,224.1 364.7,224.1 365.0,224.1 365.4,224.4 365.7,224.7 366.1,224.7 366.4,224.7 366.8,224.7 367.1,224.6 367.5,224.5 367.6,224.7 367.8,225.0 368.2,225.0 368.5,224.8 368.9,224.7 369.2,224.7 369.6,224.6 369.9,224.6 370.3,225.1 370.6,225.4 371.0,225.2 371.3,224.9 371.7,224.9 372.0,224.9 372.4,224.8 372.7,224.8 373.1,225.0 373.4,225.0 373.8,224.8 374.1,224.8 374.5,225.0 374.8,225.2 375.2,225.1 375.5,224.8 375.9,224.6 376.2,225.0 376.6,225.2 376.9,225.3 377.3,225.3 377.6,224.7 378.0,224.4 378.3,224.7 378.7,224.9 378.9,224.9 379.0,225.1 379.4,225.2 379.7,224.9 380.1,224.8 380.4,225.4 380.8,225.6 381.1,225.4 381.5,225.3 381.8,225.1 382.2,225.0 382.5,224.8 382.9,224.8 383.2,224.9 383.6,225.1 383.9,225.1 384.3,225.0 384.6,225.1 385.0,225.1 385.3,225.2 385.7,225.2 386.0,224.9 386.4,225.0 386.7,225.0 387.1,225.2 387.4,225.3 387.8,224.9 388.1,224.6 388.5,225.0 388.8,225.3 389.2,225.3 389.5,225.2 389.9,225.2 390.2,225.2 390.2,225.0 390.6,224.9 390.9,225.1 391.3,225.2 391.6,225.0 392.0,225.0 392.3,225.4 392.7,225.3 393.0,224.8 393.4,224.5 393.7,224.8 394.1,225.1 394.4,224.8 394.8,224.4 395.1,224.5 395.5,224.8 395.8,225.0 396.0,224.8 396.2,224.4 396.5,224.5 396.9,224.6 397.2,224.4 397.6,224.5 397.9,224.4 398.3,224.3 398.6,224.8 399.0,224.6 399.3,224.4 399.7,224.5 400.0,224.3 400.4,224.2 400.7,224.3 401.1,224.3 401.4,224.0 401.5,223.7 401.8,224.0 402.1,224.0 402.5,223.9 402.8,223.8 403.2,223.8 403.5,223.7 403.9,223.4 404.2,223.2 404.6,223.3 404.9,223.1 405.3,222.8 405.5,222.8 405.6,222.8 406.0,222.4 406.3,222.4 406.7,222.7 407.0,222.7 407.4,222.3 407.7,221.7 408.1,221.6 408.4,221.6 408.5,221.3 408.8,220.8 409.1,220.8 409.5,221.1 409.8,221.0 410.2,220.5 410.5,220.3 410.9,220.3 411.2,220.1 411.6,219.8 411.9,219.5 412.3,219.5 412.6,219.5 412.8,219.1 413.0,218.4 413.3,218.2 413.7,218.1 414.0,218.0 414.4,218.1 414.7,218.0 415.1,217.7 415.4,217.7 415.5,217.8 415.8,217.7 416.1,217.7 416.5,217.7 416.8,217.5 417.2,217.2 417.5,217.3 417.5,217.5 417.9,217.3 418.2,217.3 418.6,217.9 418.9,218.0 419.3,217.7 419.6,218.0 420.0,218.2 420.0,218.0 420.3,217.9 420.7,218.1 421.0,218.3 421.4,218.5 421.7,218.5 422.1,218.9 422.4,219.2 422.5,219.2 422.8,219.4 423.1,219.6 423.5,219.7 423.8,220.0 424.2,220.5 424.5,220.7 424.9,220.7 425.2,220.7 425.6,220.9 425.6,221.2 425.9,221.4 426.3,221.2 426.6,221.5 427.0,222.1 427.3,222.2 427.7,222.4 428.0,222.8 428.4,222.8 428.7,222.7 429.1,222.8 429.4,222.8 429.8,222.9 430.1,223.3 430.5,223.6 430.5,223.4 430.8,223.1 431.2,223.2 431.5,223.4 431.9,223.5 432.2,223.8 432.6,224.0 432.9,223.9 433.3,224.0 433.6,224.3 434.0,224.5 434.3,224.5 434.7,224.1 435.0,223.9 435.4,224.4 435.7,224.9 436.1,225.1 436.2,225.2 436.4,225.3 436.8,225.1 437.1,224.9 437.5,224.9 437.8,225.0 438.2,225.0 438.5,225.0 438.9,225.2 439.2,225.5 439.6,225.7 439.9,225.7 440.3,225.6 440.6,225.7 441.0,225.9 441.3,226.1 441.7,226.1 442.0,225.9 442.4,225.6 442.7,225.6 443.1,225.9 443.4,226.3 443.8,226.4 444.1,225.9 444.5,225.7 444.8,226.1 445.2,226.3 445.5,226.1 445.9,226.0 446.2,226.0 446.6,226.1 446.8,225.9 446.9,226.1 447.3,226.5 447.6,226.6 448.0,226.4 448.3,226.1 448.7,226.2 449.0,226.4 449.4,226.4 449.7,226.5 450.1,226.2 450.4,226.2 450.8,226.8 451.1,227.2 451.5,227.5 451.8,227.2 452.2,226.7 452.5,226.3 452.9,226.3 453.2,226.4 453.6,226.6 453.9,226.8 454.3,226.8 454.6,226.6 455.0,226.5 455.3,226.5 455.7,226.5 456.0,226.8 456.4,227.3 456.7,227.2 457.1,226.9 457.4,226.9 457.8,227.0 458.1,227.2 458.5,227.3 458.8,227.2 459.2,227.2 459.5,227.3 459.5,227.5 459.9,227.7 460.2,227.7 460.6,227.4 460.9,227.5 461.3,227.5 461.6,227.0 462.0,226.8 462.3,226.9 462.7,227.0 463.0,227.3 463.4,227.8 463.7,228.1 464.1,228.0 464.4,227.7 464.8,227.4 465.1,227.6 465.5,227.7 465.8,227.7 466.2,227.8 466.5,227.6 466.9,227.5 467.2,227.9 467.6,228.2 467.9,228.3 468.0,228.3 468.3,228.2 468.6,228.2 469.0,228.1 469.3,228.0 469.7,228.2 470.0,228.6 470.4,228.7 470.7,228.5 471.1,228.6 471.4,228.6 471.8,228.5 472.1,228.6 472.5,229.0 472.8,229.0 473.2,228.5 473.5,228.4 473.9,228.7 474.2,228.8 474.6,228.9 474.9,228.7 475.3,228.6 475.6,228.9 476.0,229.1 476.3,229.1 476.7,229.3 477.0,229.4 477.4,229.3 477.7,229.2 478.1,229.4 478.4,229.4 478.6,229.2 478.8,229.4 479.1,229.2 479.5,228.8 479.8,229.3 480.2,229.7 480.5,229.5 480.9,229.3 481.2,229.4 481.6,229.5 481.9,229.5 482.3,229.6 482.6,229.8 483.0,229.6 483.3,229.2 483.7,229.1 484.0,229.2 484.4,229.5 484.7,229.5 485.1,229.6 485.4,229.7 485.8,229.6 486.1,229.4 486.5,229.7 486.8,229.9 487.2,229.4 487.5,229.1 487.9,229.7 488.2,229.9 488.6,229.6 488.9,229.7 489.3,229.8 489.5,229.6" fill="none" stroke="#ff9900" stroke-width="2.70" stroke-linejoin="round" stroke-linecap="butt" clip-path="url(#ca)"/>
<polyline points="29.0,224.4 29.4,224.3 29.7,224.6 30.1,225.0 30.4,225.2 30.8,224.9 31.1,224.6 31.5,224.6 31.8,225.1 32.2,225.3 32.5,224.9 32.9,224.4 33.2,224.6 33.6,225.1 33.9,224.8 34.3,224.4 34.6,224.4 35.0,224.4 35.0,224.4 35.3,224.5 35.7,224.6 36.0,224.8 36.4,224.8 36.7,224.7 37.1,224.9 37.4,224.8 37.8,224.4 38.1,224.3 38.5,224.4 38.8,224.3 39.2,224.3 39.5,224.5 39.9,224.6 40.0,224.4 40.2,224.2 40.6,224.2 40.9,224.1 41.3,224.1 41.6,224.3 42.0,224.4 42.3,224.7 42.7,224.6 43.0,224.1 43.4,224.1 43.7,224.2 44.1,224.3 44.4,224.2 44.8,223.9 45.1,224.0 45.5,224.4 45.8,224.4 46.0,224.2 46.2,224.2 46.5,224.0 46.9,223.9 47.2,224.1 47.6,224.4 47.9,224.7 48.3,224.7 48.6,224.5 49.0,224.2 49.3,224.0 49.7,223.6 50.0,223.7 50.4,223.8 50.5,223.6 50.7,223.4 51.1,223.5 51.4,223.4 51.8,223.1 52.1,223.0 52.5,223.0 52.8,222.8 53.2,222.6 53.5,222.5 53.9,222.1 54.2,221.7 54.4,221.9 54.6,222.2 54.9,221.9 55.3,221.4 55.6,221.3 56.0,221.2 56.3,220.8 56.7,220.6 57.0,220.6 57.4,220.2 57.7,220.0 58.1,219.8 58.4,219.5 58.4,219.7 58.8,219.5 59.1,218.7 59.5,217.7 59.8,217.1 60.2,216.9 60.5,216.5 60.9,216.0 61.2,215.3 61.2,215.1 61.6,214.5 61.9,213.9 62.3,213.4 62.6,212.7 63.0,212.3 63.3,211.9 63.7,210.8 64.0,209.8 64.0,210.2 64.4,209.3 64.7,208.2 65.1,207.5 65.4,206.6 65.8,205.5 66.1,204.6 66.4,204.1 66.5,204.3 66.8,203.9 67.2,203.2 67.5,202.8 67.9,202.4 68.1,201.7 68.2,201.4 68.6,200.9 68.9,200.2 69.3,200.0 69.5,200.2 69.6,200.3 70.0,200.4 70.3,200.7 70.7,201.3 71.0,201.7 71.2,202.0 71.4,202.2 71.7,202.8 72.1,203.7 72.4,204.2 72.8,204.8 73.1,205.4 73.3,205.6 73.5,206.0 73.8,207.2 74.2,208.2 74.5,209.1 74.9,209.5 75.2,210.2 75.3,211.0 75.6,211.6 75.9,212.1 76.3,213.1 76.6,213.7 77.0,214.0 77.3,214.8 77.4,215.4 77.7,216.1 78.0,216.4 78.4,216.9 78.7,217.5 79.1,217.9 79.4,218.4 79.8,219.2 80.1,219.9 80.2,219.8 80.5,219.6 80.8,219.8 81.2,220.4 81.5,220.7 81.9,220.8 82.2,221.2 82.6,222.1 82.9,222.3 83.3,222.2 83.3,222.5 83.6,222.5 84.0,222.0 84.3,222.2 84.7,222.7 85.0,223.0 85.4,223.0 85.7,223.0 86.1,223.4 86.4,224.1 86.8,224.1 87.1,223.5 87.5,223.6 87.5,224.0 87.8,223.7 88.2,223.5 88.5,223.8 88.9,224.1 89.2,224.3 89.6,224.1 89.9,224.0 90.3,224.2 90.6,224.6 91.0,224.7 91.3,224.4 91.7,223.9 92.0,224.2 92.0,224.6 92.4,224.2 92.7,223.8 93.1,224.1 93.4,224.7 93.8,224.8 94.1,224.7 94.5,224.9 94.8,225.0 95.2,224.7 95.5,224.9 95.9,225.5 96.2,225.7 96.6,225.4 96.9,225.3 97.3,225.3 97.6,225.2 98.0,224.9 98.0,224.9 98.3,225.0 98.7,225.5 99.0,225.8 99.4,225.7 99.7,225.7 100.1,225.7 100.4,225.6 100.8,225.3 101.1,225.0 101.5,225.3 101.8,225.3 102.2,224.8 102.5,225.0 102.9,225.6 103.2,225.4 103.6,225.2 103.9,225.3 104.3,225.5 104.6,225.8 104.7,225.8 105.0,225.5 105.3,225.4 105.7,225.7 106.0,226.0 106.4,226.0 106.7,225.9 107.1,225.6 107.4,225.3 107.8,225.5 108.1,225.8 108.5,225.8 108.8,225.4 109.2,225.3 109.5,225.6 109.9,225.7 110.2,225.7 110.6,225.8 110.9,225.9 111.3,226.1 111.6,226.3 112.0,226.4 112.3,226.5 112.7,226.3 113.0,226.0 113.4,226.0 113.7,226.0 114.1,226.0 114.4,226.2 114.8,226.2 115.1,225.7 115.5,225.6 115.8,226.1 116.2,226.2 116.5,226.0 116.9,226.0 117.0,226.4 117.2,226.4 117.6,226.0 117.9,225.9 118.3,226.0 118.6,225.9 119.0,225.8 119.3,225.8 119.7,226.2 120.0,226.2 120.4,226.0 120.7,225.7 121.1,225.5 121.4,225.8 121.8,225.9 122.1,225.9 122.5,225.9 122.8,225.9 123.2,226.0 123.5,225.8 123.9,225.6 124.2,225.7 124.6,226.0 124.9,226.1 125.3,225.8 125.6,225.7 126.0,225.9 126.3,226.0 126.7,226.2 127.0,226.0 127.4,225.7 127.7,225.8 128.1,226.1 128.4,226.3 128.8,226.2 129.1,226.5 129.5,226.6 129.8,226.1 130.2,225.6 130.5,225.4 130.9,225.4 131.2,225.6 131.6,225.6 131.9,225.6 132.3,225.6 132.6,225.2 133.0,225.6 133.3,226.5 133.7,226.6 134.0,226.3 134.4,226.4 134.7,226.6 135.0,226.4 135.1,225.9 135.4,225.7 135.8,225.7 136.1,225.7 136.5,225.6 136.8,225.7 137.2,225.9 137.5,226.0 137.9,226.0 138.2,225.8 138.6,226.0 138.9,226.4 139.3,226.4 139.6,226.4 140.0,226.6 140.3,226.6 140.7,226.2 141.0,225.7 141.4,225.7 141.7,225.7 142.1,225.5 142.4,225.5 142.8,225.4 143.1,225.4 143.5,225.8 143.8,225.9 144.2,225.7 144.5,225.6 144.9,225.7 145.2,225.7 145.6,225.8 145.9,225.8 146.3,225.9 146.6,226.1 147.0,226.2 147.3,226.0 147.7,225.7 148.0,225.8 148.4,225.9 148.7,225.9 149.1,225.6 149.4,225.0 149.8,225.0 150.1,225.7 150.5,226.2 150.8,226.4 151.2,226.3 151.5,226.1 151.9,225.8 152.2,225.7 152.6,225.9 152.9,225.9 153.3,226.0 153.6,226.1 154.0,226.1 154.3,226.1 154.7,225.8 155.0,225.6 155.0,225.6 155.4,225.9 155.7,226.2 156.1,226.2 156.4,226.2 156.8,226.3 157.1,226.3 157.5,226.1 157.8,225.8 158.2,226.1 158.5,226.2 158.9,225.9 159.2,225.7 159.6,225.7 159.9,225.7 160.3,225.8 160.6,226.1 161.0,225.8 161.3,225.7 161.7,226.2 162.0,226.4 162.4,226.2 162.7,226.0 163.1,225.8 163.4,225.9 163.8,226.1 164.1,226.3 164.5,226.2 164.8,226.0 165.2,225.7 165.5,225.9 165.9,226.3 166.2,226.3 166.6,225.9 166.9,225.8 167.3,226.2 167.6,226.3 168.0,225.9 168.3,225.6 168.7,225.5 169.0,225.7 169.4,225.6 169.7,225.6 170.1,226.0 170.4,226.1 170.8,225.8 171.1,225.6 171.5,225.8 171.8,226.0 172.2,225.6 172.5,225.8 172.9,225.9 173.2,225.8 173.6,225.9 173.9,226.0 174.3,226.1 174.6,226.1 175.0,226.2 175.0,226.4 175.3,226.4 175.7,226.1 176.0,225.6 176.4,225.6 176.7,226.0 177.1,226.1 177.4,226.0 177.8,225.8 178.1,225.6 178.5,225.6 178.8,225.6 179.2,225.6 179.5,225.6 179.9,225.5 180.2,225.9 180.6,226.1 180.9,225.7 181.3,225.6 181.6,225.9 182.0,226.0 182.3,226.2 182.7,226.0 183.0,225.8 183.4,226.0 183.7,226.3 184.1,226.2 184.4,226.0 184.8,225.6 185.1,225.2 185.5,225.5 185.8,226.1 186.2,226.2 186.5,226.0 186.9,225.8 187.2,225.7 187.6,225.6 187.9,225.5 188.3,225.6 188.6,225.5 189.0,225.6 189.3,225.7 189.7,225.7 190.0,225.8 190.4,225.9 190.7,226.0 191.1,225.8 191.4,225.2 191.8,225.1 192.1,225.7 192.5,226.2 192.8,226.3 193.2,226.2 193.5,225.8 193.9,225.6 194.2,225.8 194.6,225.7 194.9,225.3 195.0,225.2 195.3,225.5 195.6,225.3 196.0,224.9 196.3,225.3 196.7,225.6 197.0,225.6 197.4,225.7 197.7,225.6 198.1,225.4 198.4,225.5 198.8,225.4 199.1,225.3 199.5,225.7 199.8,225.8 200.2,225.2 200.5,224.7 200.9,225.2 201.2,225.8 201.6,225.7 201.9,225.4 202.3,225.2 202.6,224.9 203.0,224.9 203.3,225.3 203.7,225.3 204.0,224.9 204.4,224.9 204.7,225.2 205.1,225.4 205.4,225.7 205.8,225.9 206.1,226.1 206.5,226.1 206.8,225.8 207.2,225.3 207.5,225.3 207.9,225.7 208.2,225.6 208.6,225.2 208.9,224.7 209.3,224.8 209.6,225.4 210.0,225.5 210.3,225.3 210.7,225.0 211.0,224.9 211.4,225.4 211.7,225.9 212.1,225.9 212.4,225.5 212.8,225.2 213.1,225.2 213.5,225.7 213.8,225.8 214.2,225.4 214.5,225.3 214.9,225.3 215.0,224.9 215.2,224.6 215.6,225.0 215.9,225.2 216.3,224.9 216.6,224.5 217.0,224.5 217.3,225.2 217.7,225.5 218.0,225.3 218.4,225.1 218.7,225.0 219.1,225.0 219.4,225.0 219.8,225.0 220.1,225.1 220.5,225.3 220.8,225.3 221.2,225.0 221.5,224.9 221.9,224.8 222.2,224.4 222.6,224.4 222.9,224.8 223.3,224.7 223.6,224.7 224.0,224.9 224.3,224.7 224.7,224.8 225.0,225.0 225.4,225.2 225.7,225.1 226.1,224.9 226.4,225.0 226.8,224.9 227.1,224.8 227.5,224.8 227.8,224.8 228.2,224.6 228.5,224.8 228.9,225.0 229.2,225.0 229.6,225.0 229.9,224.7 230.3,224.5 230.6,224.4 231.0,224.2 231.3,224.1 231.7,224.3 232.0,224.3 232.4,224.4 232.7,224.8 233.1,224.8 233.4,224.4 233.8,224.5 234.1,224.6 234.5,224.8 234.8,225.2 235.2,225.0 235.5,224.6 235.9,224.1 236.2,223.9 236.6,224.1 236.9,224.2 237.3,224.2 237.6,224.4 237.6,224.7 238.0,224.9 238.3,224.8 238.7,224.5 239.0,224.3 239.4,224.3 239.7,224.1 240.1,224.0 240.4,224.3 240.8,223.9 241.1,223.8 241.5,224.5 241.8,224.6 242.2,223.9 242.5,224.0 242.9,224.6 243.2,224.0 243.6,223.3 243.9,223.7 244.3,224.3 244.6,224.3 245.0,224.2 245.3,224.2 245.7,224.0 246.0,223.5 246.4,223.3 246.7,223.4 247.1,223.4 247.4,223.6 247.8,224.0 248.1,223.9 248.5,223.6 248.8,223.6 249.2,223.7 249.5,223.6 249.9,223.2 250.2,223.5 250.6,223.9 250.9,223.6 251.3,223.1 251.6,222.7 252.0,222.5 252.3,222.9 252.7,223.5 253.0,223.2 253.4,222.8 253.7,222.8 254.1,222.9 254.4,222.9 254.8,222.8 255.1,222.8 255.5,223.2 255.8,223.3 256.2,222.9 256.5,222.8 256.9,222.9 257.2,222.5 257.6,222.4 257.9,222.6 258.3,222.6 258.6,222.5 259.0,222.4 259.3,222.4 259.7,222.1 260.0,221.7 260.2,221.9 260.4,222.2 260.7,222.2 261.1,222.4 261.4,222.7 261.8,222.6 262.1,222.3 262.5,222.1 262.8,222.1 263.2,221.9 263.5,221.9 263.9,222.1 264.2,222.2 264.6,222.4 264.9,222.3 265.3,221.9 265.6,222.1 266.0,222.0 266.3,221.5 266.7,221.2 267.0,221.3 267.4,221.6 267.7,221.7 268.1,221.5 268.4,221.3 268.8,221.4 269.1,221.8 269.5,221.8 269.8,221.3 270.0,221.1 270.2,221.3 270.5,221.4 270.9,221.5 271.2,221.7 271.6,221.4 271.9,220.8 272.3,220.8 272.6,221.2 273.0,221.3 273.3,221.1 273.7,220.8 274.0,220.6 274.4,220.9 274.7,221.2 275.1,220.8 275.4,220.3 275.8,220.3 276.1,220.4 276.5,220.6 276.8,220.9 277.1,221.0 277.2,220.6 277.5,220.2 277.9,220.2 278.2,220.1 278.6,220.0 278.9,220.0 279.3,219.8 279.6,219.6 280.0,219.7 280.3,219.6 280.7,219.4 281.0,219.5 281.4,219.6 281.7,219.8 282.1,219.6 282.4,219.2 282.8,218.9 283.0,219.0 283.1,219.1 283.5,218.9 283.8,218.7 284.2,218.3 284.5,218.5 284.9,218.8 285.2,218.6 285.6,218.4 285.9,218.3 286.3,217.8 286.6,217.6 287.0,217.8 287.3,218.0 287.7,217.8 288.0,217.4 288.4,217.4 288.4,217.2 288.7,216.5 289.1,216.0 289.4,216.0 289.8,216.1 290.1,216.1 290.5,215.9 290.8,215.9 291.2,216.0 291.5,215.9 291.5,216.1 291.9,216.0 292.2,215.4 292.6,215.1 292.9,215.0 293.3,214.2 293.6,213.9 294.0,214.1 294.1,214.2 294.3,213.9 294.7,213.7 295.0,213.3 295.4,212.7 295.7,212.2 296.1,211.8 296.2,211.8 296.4,211.6 296.8,211.1 297.1,211.0 297.5,210.7 297.8,209.5 298.2,208.9 298.5,208.5 298.9,207.5 299.2,206.6 299.4,206.3 299.6,206.0 299.9,204.9 300.3,204.0 300.6,203.3 301.0,202.5 301.3,201.8 301.7,200.7 302.0,199.3 302.4,197.9 302.5,197.4 302.7,196.9 303.1,195.5 303.4,193.9 303.8,192.3 304.1,191.0 304.5,190.0 304.8,188.8 305.0,187.6 305.2,186.4 305.5,184.7 305.9,183.1 306.2,181.2 306.6,179.2 306.9,177.2 307.2,175.0 307.3,174.2 307.6,171.4 308.0,168.6 308.3,165.5 308.7,162.7 308.7,162.3 309.0,159.5 309.4,156.5 309.7,153.2 309.8,152.3 310.1,148.0 310.4,140.8 310.6,137.4 310.8,135.1 311.1,129.4 311.5,123.9 311.5,123.3 311.8,117.9 312.2,111.0 312.5,105.1 312.6,103.8 312.9,101.1 313.2,98.4 313.6,96.2 313.9,93.9 314.2,92.0 314.3,92.1 314.6,88.2 315.0,84.0 315.0,83.2 315.3,81.0 315.7,78.6 316.0,76.2 316.1,75.8 316.4,73.4 316.7,69.5 316.8,68.8 317.1,64.9 317.4,61.2 317.4,61.2 317.8,63.5 318.1,67.7 318.1,67.9 318.5,71.7 318.8,74.9 318.9,75.4 319.2,77.4 319.5,80.4 319.9,83.5 319.9,84.1 320.2,86.6 320.6,89.5 320.8,92.2 320.9,93.7 321.3,101.1 321.4,104.1 321.6,108.2 322.0,115.8 322.3,122.7 322.3,122.7 322.7,129.5 323.0,135.9 323.1,137.9 323.4,142.4 323.7,148.8 323.8,150.8 324.1,156.0 324.4,162.9 324.4,163.1 324.8,168.6 325.1,173.5 325.2,175.0 325.5,178.3 325.8,182.2 326.2,185.8 326.3,187.5 326.5,189.1 326.9,191.1 327.2,192.7 327.3,193.1 327.6,194.6 327.9,195.8 328.3,196.5 328.4,196.9 328.6,197.9 329.0,199.5 329.3,200.2 329.7,200.7 330.0,201.9 330.0,201.8 330.4,201.6 330.7,201.9 331.1,202.9 331.4,203.5 331.8,203.8 332.1,204.2 332.4,204.8 332.5,205.0 332.8,204.9 333.2,204.7 333.5,204.8 333.9,204.8 334.2,204.7 334.6,205.0 334.9,205.1 335.3,205.1 335.6,205.3 335.7,205.5 336.0,205.8 336.3,205.9 336.7,205.4 337.0,205.1 337.4,205.3 337.7,205.5 338.1,205.6 338.4,205.6 338.8,205.8 339.1,206.2 339.1,206.2 339.5,206.2 339.8,206.5 340.2,206.3 340.5,205.8 340.9,206.0 341.2,206.2 341.6,206.1 341.9,206.1 342.3,206.4 342.4,206.6 342.6,206.8 343.0,207.1 343.3,207.1 343.7,206.8 344.0,206.9 344.4,207.3 344.7,207.5 345.1,207.8 345.1,208.1 345.4,208.4 345.8,208.9 346.1,209.2 346.5,209.4 346.8,209.7 347.1,210.1 347.2,210.2 347.5,210.6 347.9,210.7 348.2,211.2 348.6,212.4 348.9,213.2 349.2,213.5 349.3,213.4 349.6,214.1 350.0,214.9 350.3,215.6 350.7,216.3 351.0,216.6 351.2,216.7 351.4,217.0 351.7,217.5 352.1,217.9 352.4,218.1 352.8,218.8 353.1,219.4 353.2,219.4 353.5,219.7 353.8,220.2 354.2,220.6 354.5,220.9 354.9,220.8 355.2,220.8 355.6,220.8 355.9,220.5 356.3,220.8 356.5,221.4 356.6,221.7 357.0,222.0 357.3,222.0 357.7,222.0 358.0,222.3 358.4,222.6 358.7,222.6 359.1,222.4 359.4,222.5 359.8,222.9 360.0,223.0 360.1,223.1 360.5,223.1 360.8,222.9 361.2,222.9 361.5,223.1 361.9,223.3 362.2,223.5 362.6,223.6 362.9,223.3 363.3,223.1 363.6,223.3 364.0,223.5 364.3,223.7 364.7,223.8 365.0,223.7 365.4,223.6 365.7,223.5 366.1,223.7 366.4,224.0 366.8,223.8 367.1,223.6 367.5,223.7 367.6,223.8 367.8,223.5 368.2,223.6 368.5,224.2 368.9,224.4 369.2,224.2 369.6,223.9 369.9,223.7 370.3,224.0 370.6,224.0 371.0,223.5 371.3,223.4 371.7,223.7 372.0,224.1 372.4,224.2 372.7,224.3 373.1,224.4 373.4,224.2 373.8,223.8 374.1,223.8 374.5,224.1 374.8,224.3 375.2,224.3 375.5,224.4 375.9,224.6 376.2,224.8 376.6,224.5 376.9,224.2 377.3,224.2 377.6,224.5 378.0,224.8 378.3,224.3 378.7,223.9 378.9,224.2 379.0,224.2 379.4,224.2 379.7,224.4 380.1,224.5 380.4,224.2 380.8,224.0 381.1,224.0 381.5,224.0 381.8,224.1 382.2,224.6 382.5,224.7 382.9,224.3 383.2,223.9 383.6,223.7 383.9,223.9 384.3,224.3 384.6,224.3 385.0,224.4 385.3,224.5 385.7,224.3 386.0,224.3 386.4,224.3 386.7,223.8 387.1,223.6 387.4,223.8 387.8,223.8 388.1,223.9 388.5,224.0 388.8,224.0 389.2,224.2 389.5,224.4 389.9,224.3 390.2,224.1 390.2,223.8 390.6,223.8 390.9,224.1 391.3,224.4 391.6,224.5 392.0,224.6 392.3,224.7 392.7,224.4 393.0,224.2 393.4,224.4 393.7,224.7 394.1,224.7 394.4,224.5 394.8,224.1 395.1,224.0 395.5,223.8 395.8,223.5 396.0,223.6 396.2,224.0 396.5,224.0 396.9,223.8 397.2,224.0 397.6,224.2 397.9,223.9 398.3,223.7 398.6,223.6 399.0,223.5 399.3,223.7 399.7,223.7 400.0,223.2 400.4,223.2 400.7,223.5 401.1,223.5 401.4,223.5 401.5,223.5 401.8,223.3 402.1,223.0 402.5,222.6 402.8,222.4 403.2,222.5 403.5,222.5 403.9,222.6 404.2,222.9 404.6,222.6 404.9,222.0 405.3,221.8 405.5,222.1 405.6,222.2 406.0,221.8 406.3,221.5 406.7,221.4 407.0,221.2 407.4,220.8 407.7,220.5 408.1,220.3 408.4,220.4 408.5,220.9 408.8,220.9 409.1,220.5 409.5,220.2 409.8,220.0 410.2,219.8 410.5,219.5 410.9,219.2 411.2,218.8 411.6,218.3 411.9,218.1 412.3,218.2 412.6,218.1 412.8,218.3 413.0,218.4 413.3,218.0 413.7,217.6 414.0,217.6 414.4,217.8 414.7,217.8 415.1,217.4 415.4,216.8 415.5,216.8 415.8,217.0 416.1,216.9 416.5,216.8 416.8,216.8 417.2,217.0 417.5,217.1 417.5,216.9 417.9,216.4 418.2,215.9 418.6,216.1 418.9,216.6 419.3,216.6 419.6,216.2 420.0,216.7 420.0,217.4 420.3,217.4 420.7,217.4 421.0,217.6 421.4,217.8 421.7,218.0 422.1,218.5 422.4,218.7 422.5,218.3 422.8,218.1 423.1,218.2 423.5,218.6 423.8,219.6 424.2,220.0 424.5,220.0 424.9,220.0 425.2,220.0 425.6,220.2 425.6,220.5 425.9,220.6 426.3,220.4 426.6,220.2 427.0,220.3 427.3,220.8 427.7,221.1 428.0,221.3 428.4,221.4 428.7,221.7 429.1,222.0 429.4,222.2 429.8,222.3 430.1,222.2 430.5,222.5 430.5,222.7 430.8,222.6 431.2,222.4 431.5,222.5 431.9,223.0 432.2,223.4 432.6,223.5 432.9,223.5 433.3,223.6 433.6,223.5 434.0,223.4 434.3,223.5 434.7,223.9 435.0,224.1 435.4,223.9 435.7,223.6 436.1,223.6 436.2,223.8 436.4,224.0 436.8,223.9 437.1,223.9 437.5,223.9 437.8,224.1 438.2,224.5 438.5,224.7 438.9,224.6 439.2,224.5 439.6,224.5 439.9,224.3 440.3,224.4 440.6,224.8 441.0,225.1 441.3,225.1 441.7,224.8 442.0,224.7 442.4,224.7 442.7,224.8 443.1,225.0 443.4,225.1 443.8,225.1 444.1,225.1 444.5,225.1 444.8,225.2 445.2,225.1 445.5,225.1 445.9,225.2 446.2,225.2 446.6,224.8 446.8,224.8 446.9,225.2 447.3,225.1 447.6,224.7 448.0,224.7 448.3,225.1 448.7,225.5 449.0,225.7 449.4,225.9 449.7,226.3 450.1,226.1 450.4,225.6 450.8,225.6 451.1,225.8 451.5,225.4 451.8,225.3 452.2,225.8 452.5,226.2 452.9,226.0 453.2,225.4 453.6,225.3 453.9,225.6 454.3,225.8 454.6,226.0 455.0,226.2 455.3,226.4 455.7,226.2 456.0,226.1 456.4,226.2 456.7,226.2 457.1,226.0 457.4,226.0 457.8,225.9 458.1,225.9 458.5,226.4 458.8,226.7 459.2,226.7 459.5,226.6 459.5,226.5 459.9,226.5 460.2,226.5 460.6,226.6 460.9,226.7 461.3,226.7 461.6,226.8 462.0,226.8 462.3,226.8 462.7,226.8 463.0,227.0 463.4,227.2 463.7,226.9 464.1,226.6 464.4,226.9 464.8,226.8 465.1,226.5 465.5,227.0 465.8,227.2 466.2,226.7 466.5,226.9 466.9,227.1 467.2,226.9 467.6,226.9 467.9,227.2 468.0,227.5 468.3,227.6 468.6,227.4 469.0,227.4 469.3,227.7 469.7,227.6 470.0,227.6 470.4,227.6 470.7,227.3 471.1,227.4 471.4,227.4 471.8,227.5 472.1,227.6 472.5,228.0 472.8,228.4 473.2,228.3 473.5,228.2 473.9,228.4 474.2,228.1 474.6,227.6 474.9,227.8 475.3,228.1 475.6,228.0 476.0,228.0 476.3,228.0 476.7,227.9 477.0,227.5 477.4,227.4 477.7,227.8 478.1,228.3 478.4,228.5 478.6,228.2 478.8,228.1 479.1,228.4 479.5,228.6 479.8,228.7 480.2,228.3 480.5,227.8 480.9,227.8 481.2,227.9 481.6,227.9 481.9,228.0 482.3,228.2 482.6,228.3 483.0,228.4 483.3,228.6 483.7,228.7 484.0,228.7 484.4,228.4 484.7,227.9 485.1,227.9 485.4,228.2 485.8,228.4 486.1,228.3 486.5,228.4 486.8,229.0 487.2,229.3 487.5,229.0 487.9,228.8 488.2,229.0 488.6,228.9 488.9,228.9 489.3,228.9 489.5,228.7" fill="none" stroke="#ff0000" stroke-width="2.70" stroke-linejoin="round" stroke-linecap="butt" clip-path="url(#ca)"/>
<polyline points="29.0,472.5 29.4,472.6 29.7,472.7 30.1,472.7 30.4,473.0 30.8,473.1 31.1,472.9 31.5,472.8 31.8,472.9 32.2,473.0 32.5,473.1 32.9,473.1 33.2,473.1 33.5,473.1 33.6,473.2 33.9,473.0 34.3,472.9 34.6,473.4 35.0,473.6 35.3,473.4 35.7,473.0 36.0,472.8 36.4,473.1 36.7,473.3 37.1,473.5 37.4,473.4 37.5,473.0 37.8,473.1 38.1,473.5 38.5,473.6 38.8,473.3 39.2,472.9 39.5,472.8 39.9,472.9 40.2,473.2 40.6,473.3 40.9,473.2 41.3,473.2 41.5,473.1 41.6,473.0 42.0,472.8 42.3,472.6 42.7,472.7 43.0,473.1 43.4,473.3 43.7,473.1 44.1,472.8 44.4,472.8 44.8,472.8 45.1,472.7 45.5,472.4 45.8,472.4 45.9,472.5 46.2,472.3 46.5,472.5 46.9,473.1 47.2,473.1 47.6,472.7 47.9,472.4 48.3,472.3 48.6,472.5 49.0,472.9 49.3,472.7 49.5,472.4 49.7,472.2 50.0,472.2 50.4,472.2 50.7,472.0 51.1,471.9 51.4,471.8 51.8,471.6 52.1,471.5 52.5,471.6 52.7,471.6 52.8,471.6 53.2,471.3 53.5,471.0 53.9,471.0 54.2,471.0 54.6,470.9 54.9,470.6 55.0,470.5 55.3,470.5 55.6,470.2 56.0,469.7 56.3,469.4 56.7,468.9 57.0,468.5 57.0,468.7 57.4,468.1 57.7,467.5 58.1,467.4 58.4,467.4 58.8,467.2 59.1,466.6 59.2,466.4 59.5,466.5 59.8,466.3 60.2,466.0 60.5,465.6 60.9,465.2 61.2,464.9 61.6,464.4 61.8,464.1 61.9,464.0 62.3,463.1 62.6,462.3 63.0,461.8 63.3,460.9 63.7,459.4 64.0,458.2 64.0,458.4 64.4,457.7 64.7,456.7 65.1,455.5 65.4,454.6 65.8,453.7 66.1,453.0 66.5,452.0 66.5,451.6 66.8,450.7 67.2,449.9 67.5,448.8 67.9,447.6 68.2,446.9 68.4,446.5 68.6,446.3 68.9,445.8 69.3,445.4 69.6,445.0 70.0,444.9 70.0,444.9 70.3,444.7 70.7,444.8 71.0,445.3 71.3,445.9 71.4,446.1 71.7,446.6 72.1,447.3 72.4,448.3 72.6,448.9 72.8,449.4 73.1,450.7 73.5,451.9 73.8,452.6 74.0,452.9 74.2,453.6 74.5,455.0 74.9,456.2 75.2,457.1 75.6,458.0 75.9,459.1 76.1,459.7 76.3,460.0 76.6,460.9 77.0,462.0 77.3,463.3 77.7,464.3 78.0,465.1 78.4,465.8 78.5,465.9 78.7,465.8 79.1,466.2 79.4,467.0 79.8,467.8 80.1,468.2 80.5,468.3 80.8,468.3 81.2,468.7 81.5,469.1 81.9,469.2 82.2,469.1 82.4,468.7 82.6,469.2 82.9,470.1 83.3,470.2 83.6,470.1 84.0,470.3 84.3,470.6 84.7,470.6 85.0,470.7 85.4,470.9 85.7,471.3 86.1,471.7 86.4,471.7 86.6,471.7 86.8,471.8 87.1,472.1 87.5,472.2 87.8,472.0 88.2,471.8 88.5,471.9 88.9,472.2 89.2,472.6 89.6,472.7 89.9,472.6 90.3,472.5 90.6,472.5 91.0,472.5 91.0,472.5 91.3,472.6 91.7,472.5 92.0,472.3 92.4,472.4 92.7,472.7 93.1,473.0 93.4,472.9 93.8,472.8 94.1,473.1 94.5,473.0 94.8,472.9 95.2,472.9 95.5,472.7 95.9,472.9 96.2,473.2 96.3,473.0 96.6,473.1 96.9,473.4 97.3,473.3 97.6,473.2 98.0,473.5 98.3,473.5 98.7,473.0 99.0,473.0 99.4,473.5 99.7,473.4 100.1,473.1 100.4,473.3 100.8,473.5 101.1,473.6 101.5,473.5 101.8,473.4 102.2,473.2 102.5,473.0 102.9,473.1 103.2,473.4 103.6,473.8 103.9,473.9 104.3,473.8 104.6,473.6 105.0,473.4 105.3,473.3 105.7,473.4 106.0,473.5 106.4,473.7 106.7,473.9 107.0,473.6 107.1,473.3 107.4,473.5 107.8,473.7 108.1,473.6 108.5,473.7 108.8,474.1 109.2,474.1 109.5,474.0 109.9,474.2 110.2,474.1 110.6,473.9 110.9,473.9 111.3,474.0 111.6,473.9 112.0,473.8 112.3,473.9 112.7,474.0 113.0,474.3 113.4,474.5 113.7,474.5 114.1,474.4 114.4,474.3 114.8,473.8 115.1,473.3 115.5,473.3 115.8,473.7 116.2,474.1 116.5,474.2 116.9,474.1 117.2,473.9 117.6,473.8 117.9,473.9 118.3,474.3 118.6,474.6 118.9,474.3 119.0,474.2 119.3,474.3 119.7,474.1 120.0,474.1 120.4,474.2 120.7,474.3 121.1,474.1 121.4,474.0 121.8,474.1 122.1,474.2 122.5,474.3 122.8,474.4 123.2,474.2 123.5,474.0 123.9,474.1 124.2,474.0 124.6,474.0 124.9,474.0 125.3,474.0 125.6,474.2 126.0,474.3 126.3,474.3 126.7,474.4 127.0,474.3 127.4,474.1 127.7,474.3 128.1,474.4 128.4,474.3 128.8,474.4 129.1,474.5 129.5,474.5 129.8,474.6 130.2,474.4 130.5,474.2 130.9,474.3 131.2,474.3 131.6,474.3 131.9,474.1 132.3,473.9 132.6,474.1 133.0,474.3 133.3,474.3 133.7,474.5 134.0,474.6 134.4,474.6 134.7,474.6 135.1,474.6 135.4,474.3 135.8,474.0 136.1,474.1 136.5,474.3 136.8,474.3 137.2,474.4 137.5,474.5 137.9,474.5 138.2,474.2 138.6,474.1 138.9,474.4 139.3,474.3 139.6,474.0 140.0,474.3 140.3,474.7 140.7,474.4 141.0,474.5 141.4,474.3 141.5,474.0 141.7,474.2 142.1,474.6 142.4,474.6 142.8,474.5 143.1,474.7 143.5,474.5 143.8,474.1 144.2,474.2 144.5,474.2 144.9,474.2 145.2,474.4 145.6,474.6 145.9,474.6 146.3,474.5 146.6,474.5 147.0,474.4 147.3,474.3 147.7,474.2 148.0,473.9 148.4,473.9 148.7,474.4 149.1,474.6 149.4,474.7 149.8,474.6 150.1,474.3 150.5,474.4 150.8,474.3 151.2,474.1 151.5,474.5 151.9,474.9 152.2,474.9 152.6,474.8 152.9,474.5 153.3,474.3 153.6,474.5 154.0,474.4 154.3,474.5 154.7,475.0 155.0,474.9 155.4,474.6 155.7,474.5 156.1,474.4 156.4,474.3 156.8,474.3 157.1,474.3 157.5,474.2 157.8,474.5 158.2,474.8 158.5,474.6 158.9,474.6 159.2,474.7 159.6,474.6 159.9,474.7 160.3,474.5 160.6,474.4 161.0,474.3 161.3,474.2 161.7,474.2 162.0,474.2 162.4,474.2 162.7,474.2 163.1,474.1 163.4,474.0 163.8,474.2 164.1,474.4 164.5,474.5 164.8,474.4 165.0,474.4 165.2,474.4 165.5,474.2 165.9,474.3 166.2,474.5 166.6,474.4 166.9,474.4 167.3,474.4 167.6,474.3 168.0,474.2 168.3,474.3 168.7,474.5 169.0,474.3 169.4,474.1 169.7,474.1 170.1,474.3 170.4,474.3 170.8,474.4 171.1,474.3 171.5,473.9 171.8,474.1 172.2,474.4 172.5,474.1 172.9,474.0 173.2,474.1 173.6,474.3 173.9,474.4 174.3,474.4 174.6,474.2 175.0,474.4 175.3,474.4 175.7,474.3 176.0,474.2 176.4,474.2 176.7,474.4 177.1,474.5 177.4,474.3 177.8,473.9 178.1,474.0 178.5,474.4 178.8,474.3 179.2,474.0 179.5,474.1 179.9,474.2 180.2,474.3 180.6,474.3 180.9,474.3 181.3,474.4 181.6,474.4 182.0,474.3 182.3,474.3 182.7,474.3 183.0,474.1 183.4,473.9 183.7,474.0 184.1,473.9 184.4,473.5 184.8,473.7 185.0,474.0 185.1,474.3 185.5,474.5 185.8,474.3 186.2,474.0 186.5,474.1 186.9,474.0 187.2,473.8 187.6,473.9 187.9,474.1 188.3,474.0 188.6,473.9 189.0,473.9 189.3,473.9 189.7,473.8 190.0,473.6 190.4,473.5 190.7,473.7 191.1,473.8 191.4,473.6 191.8,473.7 192.1,474.0 192.5,474.1 192.8,474.1 193.2,473.9 193.5,473.8 193.9,474.1 194.2,474.0 194.6,473.7 194.9,473.7 195.3,473.7 195.6,473.7 196.0,473.6 196.3,473.6 196.7,473.6 197.0,473.7 197.4,473.8 197.7,473.7 198.1,473.6 198.4,473.8 198.8,473.9 199.1,473.7 199.5,473.6 199.8,473.8 200.2,474.0 200.5,473.9 200.9,473.8 201.2,474.0 201.6,474.0 201.9,473.5 202.3,473.5 202.6,473.9 203.0,474.1 203.3,474.1 203.7,473.7 204.0,473.3 204.4,473.3 204.7,473.5 205.0,473.6 205.1,473.6 205.4,473.4 205.8,473.4 206.1,473.5 206.5,473.5 206.8,473.5 207.2,473.7 207.5,474.1 207.9,474.1 208.2,473.7 208.6,473.4 208.9,473.5 209.3,473.5 209.6,473.4 210.0,473.5 210.3,473.4 210.7,473.2 211.0,473.2 211.4,473.5 211.7,473.7 212.1,473.6 212.4,473.7 212.8,473.7 213.1,473.5 213.5,473.6 213.8,473.6 214.2,473.5 214.5,473.5 214.9,473.4 215.2,473.1 215.6,473.0 215.9,473.1 216.3,473.3 216.6,473.5 217.0,473.4 217.3,473.2 217.7,473.1 218.0,473.0 218.4,473.1 218.7,473.4 219.1,473.3 219.4,473.3 219.8,473.3 220.1,473.4 220.5,473.5 220.8,473.5 221.2,473.2 221.5,473.1 221.9,473.4 222.2,473.6 222.6,473.4 222.9,473.2 223.3,473.2 223.6,473.5 224.0,473.7 224.3,473.9 224.7,473.8 225.0,473.6 225.0,473.4 225.4,473.6 225.7,473.5 226.1,473.2 226.4,473.1 226.8,473.1 227.1,473.2 227.5,473.0 227.8,472.8 228.2,472.6 228.5,472.6 228.9,473.1 229.2,473.6 229.6,473.8 229.9,473.7 230.3,473.5 230.6,473.1 231.0,473.0 231.3,473.2 231.7,473.1 232.0,472.8 232.4,472.6 232.7,472.7 233.1,473.0 233.4,472.9 233.8,472.9 234.1,473.2 234.5,473.4 234.8,473.1 235.2,472.9 235.5,473.2 235.9,473.3 236.2,473.3 236.6,473.1 236.9,472.9 237.3,472.7 237.6,472.5 238.0,472.6 238.3,472.8 238.7,472.8 239.0,472.9 239.4,472.5 239.7,472.1 240.1,472.1 240.4,472.4 240.8,472.5 241.1,472.4 241.5,472.2 241.8,472.3 242.2,472.8 242.5,473.2 242.9,473.0 243.2,472.7 243.6,472.7 243.9,472.8 244.3,472.8 244.6,472.7 245.0,472.5 245.0,472.5 245.3,472.4 245.7,472.3 246.0,472.6 246.4,472.8 246.7,472.6 247.1,472.2 247.4,472.5 247.8,473.0 248.1,472.9 248.5,472.7 248.8,472.5 249.2,472.5 249.5,472.8 249.9,472.9 250.2,472.8 250.6,472.6 250.9,472.3 251.3,472.4 251.6,472.4 252.0,472.0 252.3,472.1 252.7,472.5 253.0,472.4 253.4,472.2 253.7,472.4 254.1,472.6 254.2,472.6 254.4,472.7 254.8,472.6 255.1,472.3 255.5,472.1 255.8,472.0 256.2,471.9 256.5,472.2 256.9,472.3 257.2,471.9 257.6,471.7 257.9,471.6 258.3,471.7 258.6,472.1 259.0,472.1 259.3,471.8 259.7,471.5 260.0,471.9 260.4,472.4 260.7,472.2 261.1,471.6 261.4,471.4 261.8,471.6 262.1,471.6 262.5,471.5 262.8,471.7 263.2,471.9 263.4,471.7 263.5,471.6 263.9,471.5 264.2,471.6 264.6,471.4 264.9,470.9 265.3,470.8 265.6,470.9 266.0,470.8 266.3,470.8 266.7,471.2 267.0,471.4 267.4,471.2 267.7,471.0 268.1,471.0 268.4,470.8 268.8,470.6 269.1,470.5 269.5,470.4 269.8,470.5 270.2,470.5 270.5,470.4 270.9,470.3 271.2,470.0 271.6,469.9 271.9,470.1 272.3,470.0 272.5,469.7 272.6,469.8 273.0,469.6 273.3,469.7 273.7,470.0 274.0,469.8 274.4,469.8 274.7,470.0 275.1,469.6 275.4,469.3 275.8,469.6 276.1,469.8 276.5,469.6 276.8,469.5 277.2,469.4 277.5,469.3 277.9,469.5 278.2,469.6 278.6,469.1 278.9,469.1 279.3,469.3 279.6,469.0 280.0,469.0 280.3,469.1 280.7,469.0 281.0,468.7 281.4,468.6 281.7,468.8 281.7,468.9 282.1,468.7 282.4,468.5 282.8,468.3 283.1,468.1 283.5,468.0 283.8,467.9 284.2,468.0 284.5,468.1 284.9,468.1 285.2,468.1 285.6,467.9 285.9,467.3 286.3,467.2 286.6,467.6 287.0,467.6 287.3,467.1 287.7,466.7 288.0,466.8 288.4,467.0 288.7,466.9 289.1,466.7 289.1,466.5 289.4,466.4 289.8,466.4 290.1,466.6 290.5,466.5 290.8,466.2 291.2,465.9 291.5,465.9 291.9,465.8 292.0,465.4 292.2,465.1 292.6,464.9 292.9,464.6 293.3,464.4 293.6,464.3 294.0,464.0 294.3,463.6 294.6,463.7 294.7,463.7 295.0,463.1 295.4,462.6 295.7,462.5 296.1,462.4 296.4,461.9 296.6,461.4 296.8,460.8 297.1,460.4 297.5,460.1 297.8,459.5 298.2,458.8 298.3,458.4 298.5,458.2 298.9,457.9 299.2,457.1 299.6,455.9 299.9,454.7 300.3,453.8 300.6,453.2 301.0,452.4 301.0,451.9 301.3,451.0 301.7,450.2 302.0,449.1 302.4,447.9 302.7,446.7 303.1,445.4 303.3,444.4 303.4,444.1 303.8,442.5 304.1,440.9 304.5,439.4 304.6,438.8 304.8,437.8 305.2,436.0 305.5,434.2 305.9,432.7 306.2,430.9 306.5,429.4 306.6,429.0 306.9,426.9 307.3,425.0 307.6,423.0 308.0,420.4 308.3,417.7 308.5,416.3 308.7,415.4 309.0,411.8 309.4,407.6 309.7,403.8 309.7,403.8 310.1,400.8 310.4,397.9 310.6,396.0 310.8,394.3 311.1,389.1 311.4,384.2 311.5,383.5 311.8,378.4 312.2,372.7 312.5,366.7 312.9,361.2 312.9,360.5 313.2,355.4 313.6,349.4 313.9,343.4 314.3,337.3 314.3,336.5 314.6,331.4 315.0,325.3 315.1,322.8 315.3,319.7 315.7,314.6 315.9,311.2 316.0,309.8 316.4,304.8 316.6,302.0 316.7,301.0 317.1,297.4 317.4,294.5 317.8,293.3 317.8,293.6 318.1,294.5 318.5,296.8 318.8,299.9 319.0,301.7 319.2,303.4 319.5,307.9 319.7,310.9 319.9,313.7 320.2,321.0 320.3,322.7 320.6,327.3 320.9,334.5 321.0,336.6 321.3,342.4 321.5,348.4 321.6,350.6 322.0,357.5 322.1,360.5 322.3,365.3 322.6,372.5 322.7,373.4 323.0,380.4 323.2,383.9 323.4,386.2 323.7,390.9 324.0,396.0 324.1,397.3 324.4,410.5 324.6,416.7 324.8,419.4 325.1,424.5 325.5,428.4 325.5,429.0 325.8,431.8 326.2,434.5 326.2,434.8 326.5,436.6 326.9,438.7 327.2,441.0 327.4,442.5 327.6,443.6 327.9,445.5 328.3,447.3 328.6,449.0 328.9,450.1 329.0,450.4 329.3,451.4 329.7,452.1 330.0,452.6 330.4,453.2 330.7,453.9 331.1,454.4 331.2,454.3 331.4,454.4 331.8,454.8 332.1,455.3 332.5,455.6 332.8,455.9 333.2,456.1 333.5,456.2 333.9,456.1 334.2,456.0 334.3,456.0 334.6,456.4 334.9,456.5 335.3,456.7 335.6,457.0 336.0,457.1 336.3,457.2 336.7,457.5 337.0,457.7 337.3,457.9 337.4,458.1 337.7,458.3 338.1,458.4 338.4,458.6 338.8,458.9 339.1,459.1 339.2,459.0 339.5,459.2 339.8,459.2 340.2,459.0 340.4,459.1 340.5,459.5 340.9,459.2 341.2,458.4 341.6,457.7 341.9,457.1 341.9,457.1 342.3,456.8 342.6,456.4 343.0,456.2 343.3,456.0 343.7,455.5 343.8,455.2 344.0,454.9 344.4,454.5 344.7,454.5 345.1,454.9 345.4,455.0 345.8,454.8 345.8,454.8 346.1,455.0 346.5,455.4 346.8,456.2 347.2,457.2 347.5,457.9 347.7,458.1 347.9,458.4 348.2,459.6 348.6,461.1 348.9,462.4 349.2,463.3 349.3,463.5 349.6,464.4 350.0,465.3 350.3,466.3 350.7,467.1 351.0,467.7 351.1,467.8 351.4,468.3 351.7,468.7 352.1,468.8 352.4,469.2 352.8,469.4 353.1,469.3 353.5,469.7 353.8,470.4 354.2,470.5 354.5,470.4 354.9,470.2 355.0,469.9 355.2,470.0 355.6,470.5 355.9,470.3 356.3,469.9 356.6,470.0 357.0,470.2 357.3,470.2 357.7,470.6 358.0,470.8 358.4,470.9 358.7,471.1 359.1,471.2 359.4,471.4 359.5,471.7 359.8,471.6 360.1,471.2 360.5,471.1 360.8,471.4 361.2,471.7 361.5,471.7 361.9,471.7 362.2,471.9 362.6,472.0 362.9,471.9 363.3,471.8 363.6,471.7 364.0,472.0 364.3,472.2 364.7,472.1 364.9,471.9 365.0,472.2 365.4,472.3 365.7,472.1 366.1,471.7 366.4,471.7 366.8,471.6 367.1,471.6 367.5,471.9 367.8,472.3 368.2,472.2 368.5,472.3 368.9,472.5 369.2,472.5 369.6,472.3 369.9,472.3 370.3,472.6 370.6,472.6 371.0,472.7 371.3,472.7 371.7,472.6 372.0,472.3 372.4,472.1 372.7,472.3 373.1,472.5 373.4,472.5 373.8,472.5 374.1,472.5 374.5,472.4 374.8,472.4 374.8,472.4 375.2,472.6 375.5,472.7 375.9,472.7 376.2,472.8 376.6,472.8 376.9,473.0 377.3,472.9 377.6,472.6 378.0,472.5 378.3,472.3 378.7,472.3 379.0,472.6 379.4,472.9 379.7,473.0 380.1,472.9 380.4,472.5 380.8,472.6 381.1,472.6 381.5,472.5 381.8,472.8 382.2,472.8 382.5,472.9 382.9,473.2 383.2,473.4 383.6,473.3 383.9,473.0 384.3,473.1 384.6,473.1 384.7,472.8 385.0,472.7 385.3,472.7 385.7,472.5 386.0,472.6 386.4,472.9 386.7,473.1 387.1,473.1 387.4,472.9 387.8,472.9 388.1,472.8 388.5,472.9 388.8,473.2 389.2,473.5 389.5,473.3 389.9,473.1 390.2,473.0 390.6,472.8 390.9,472.7 391.3,472.7 391.6,472.8 392.0,473.1 392.3,473.2 392.7,473.0 393.0,472.6 393.4,472.4 393.7,472.4 394.1,472.7 394.4,473.2 394.6,473.2 394.8,473.0 395.1,473.1 395.5,472.8 395.8,472.4 396.2,472.5 396.5,472.9 396.9,472.9 397.2,472.9 397.6,473.0 397.9,472.9 398.3,472.7 398.6,472.7 399.0,472.8 399.3,472.8 399.7,472.5 400.0,472.5 400.4,472.8 400.7,472.8 401.1,472.4 401.4,472.4 401.8,472.4 402.1,472.3 402.5,472.6 402.8,472.8 403.2,472.7 403.5,472.9 403.9,473.0 404.2,472.6 404.5,472.3 404.6,472.4 404.9,472.2 405.3,471.8 405.6,471.7 406.0,471.8 406.3,471.9 406.7,472.0 407.0,472.1 407.4,472.0 407.7,471.9 408.1,472.2 408.4,472.3 408.8,471.9 409.1,471.8 409.5,471.8 409.8,471.7 410.2,471.4 410.5,471.2 410.9,471.1 411.0,471.1 411.2,471.3 411.6,471.4 411.9,471.3 412.3,471.4 412.6,471.5 413.0,471.3 413.3,471.3 413.7,471.3 414.0,471.0 414.4,470.9 414.7,470.8 415.1,470.7 415.4,470.8 415.8,470.6 416.1,470.5 416.5,470.5 416.8,470.7 417.2,470.9 417.3,470.8 417.5,470.5 417.9,470.2 418.2,470.2 418.6,470.3 418.9,470.2 419.3,470.3 419.6,470.3 420.0,470.6 420.3,470.7 420.7,470.6 421.0,470.3 421.0,470.0 421.4,470.3 421.7,470.8 422.1,470.8 422.4,471.0 422.8,471.3 423.1,471.2 423.5,471.0 423.8,471.1 424.2,471.4 424.5,471.7 424.9,471.5 425.0,471.3 425.2,471.2 425.6,471.2 425.9,471.4 426.3,471.6 426.6,471.8 427.0,471.9 427.3,471.8 427.7,471.7 428.0,471.7 428.4,471.9 428.7,472.0 429.1,471.9 429.4,472.0 429.8,472.1 430.1,472.2 430.5,472.1 430.8,472.0 431.2,472.2 431.5,472.5 431.9,472.6 432.0,472.6 432.2,472.8 432.6,472.8 432.9,472.9 433.3,472.6 433.6,472.5 434.0,472.5 434.3,472.6 434.7,472.7 435.0,472.6 435.4,472.4 435.7,472.4 436.1,472.5 436.4,472.6 436.8,473.0 437.1,473.4 437.5,473.3 437.8,473.2 438.2,473.2 438.5,473.4 438.9,473.4 439.2,473.4 439.6,473.4 439.8,473.4 439.9,473.3 440.3,473.2 440.6,473.3 441.0,473.3 441.3,473.3 441.7,473.5 442.0,473.6 442.4,473.7 442.7,473.8 443.1,473.9 443.4,473.7 443.8,473.6 444.1,473.7 444.5,473.6 444.8,473.6 445.2,473.8 445.5,473.8 445.9,473.7 446.2,473.7 446.6,474.0 446.9,474.3 447.3,474.3 447.6,474.4 448.0,474.5 448.3,474.0 448.7,473.8 449.0,474.1 449.4,474.4 449.7,474.3 449.7,474.1 450.1,474.4 450.4,474.5 450.8,474.6 451.1,474.8 451.5,474.8 451.8,474.4 452.2,474.1 452.5,474.2 452.9,474.5 453.2,474.5 453.6,474.2 453.9,474.2 454.3,474.2 454.6,474.0 455.0,474.0 455.3,474.4 455.7,474.9 456.0,474.8 456.4,474.5 456.7,474.4 457.1,474.6 457.4,474.9 457.8,475.0 458.1,474.8 458.5,474.6 458.8,474.8 459.2,475.3 459.5,475.4 459.6,475.3 459.9,475.3 460.2,475.1 460.6,475.0 460.9,475.2 461.3,475.4 461.6,475.3 462.0,475.2 462.3,475.3 462.7,475.2 463.0,475.0 463.4,475.1 463.7,475.2 464.1,475.4 464.4,475.4 464.8,475.2 465.1,475.5 465.5,475.6 465.8,475.4 466.2,475.2 466.5,475.0 466.9,475.1 467.2,475.5 467.6,475.6 467.9,475.5 468.3,475.5 468.6,475.5 469.0,475.3 469.3,475.3 469.5,475.7 469.7,475.9 470.0,476.0 470.4,476.4 470.7,476.3 471.1,475.7 471.4,475.4 471.8,475.5 472.1,475.8 472.5,476.1 472.8,476.0 473.2,475.9 473.5,476.2 473.9,476.4 474.2,476.1 474.6,476.0 474.9,475.9 475.3,475.6 475.6,475.7 476.0,476.0 476.3,475.8 476.7,475.5 477.0,475.8 477.4,476.0 477.7,476.2 478.1,476.2 478.4,476.2 478.8,476.2 479.1,476.2 479.3,476.2 479.5,476.1 479.8,476.0 480.2,476.0 480.5,476.2 480.9,476.5 481.2,476.6 481.6,476.5 481.9,476.4 482.3,476.4 482.6,476.3 483.0,476.2 483.3,476.5 483.7,476.5 484.0,476.4 484.4,476.3 484.7,476.2 485.1,476.6 485.4,477.0 485.8,477.0 486.1,476.7 486.5,476.4 486.8,476.3 487.2,476.2 487.5,476.3 487.9,476.5 488.2,476.5 488.6,476.6 488.9,476.8 489.3,476.9 489.5,476.8" fill="none" stroke="#0000ff" stroke-width="2.70" stroke-linejoin="round" stroke-linecap="butt" clip-path="url(#cb)"/>
<polyline points="29.0,473.5 29.4,473.6 29.7,473.6 30.1,473.4 30.4,473.4 30.8,473.7 31.1,474.1 31.5,474.2 31.8,474.0 32.2,473.9 32.5,474.0 32.9,473.8 33.2,473.6 33.5,473.8 33.6,474.2 33.9,474.4 34.3,474.5 34.6,474.4 35.0,474.1 35.3,474.1 35.7,473.9 36.0,474.0 36.4,474.2 36.7,474.3 37.1,474.1 37.4,474.0 37.5,474.2 37.8,474.3 38.1,474.2 38.5,474.3 38.8,474.6 39.2,474.8 39.5,474.6 39.9,474.2 40.2,474.2 40.6,474.4 40.9,474.5 41.3,474.6 41.5,474.5 41.6,474.3 42.0,474.1 42.3,474.0 42.7,474.1 43.0,474.1 43.4,473.8 43.7,473.6 44.1,473.7 44.4,473.9 44.8,474.1 45.1,474.1 45.5,473.9 45.8,473.6 45.9,473.9 46.2,474.1 46.5,474.0 46.9,473.8 47.2,473.5 47.6,473.6 47.9,473.7 48.3,473.3 48.6,472.9 49.0,472.7 49.3,472.8 49.5,472.9 49.7,472.7 50.0,472.6 50.4,472.5 50.7,472.5 51.1,472.5 51.4,472.5 51.8,472.4 52.1,472.5 52.5,472.4 52.7,472.1 52.8,471.8 53.2,471.8 53.5,471.7 53.9,471.6 54.2,471.4 54.6,471.3 54.9,471.0 55.0,470.8 55.3,470.8 55.6,470.3 56.0,470.0 56.3,469.7 56.7,469.3 57.0,469.0 57.0,469.3 57.4,468.9 57.7,468.6 58.1,468.5 58.4,468.1 58.8,467.5 59.1,466.9 59.2,466.8 59.5,466.8 59.8,466.7 60.2,466.2 60.5,465.8 60.9,465.5 61.2,465.4 61.6,465.2 61.8,464.8 61.9,464.3 62.3,463.7 62.6,462.9 63.0,461.8 63.3,460.8 63.7,460.0 64.0,459.1 64.0,459.0 64.4,458.0 64.7,457.2 65.1,456.1 65.4,454.8 65.8,453.7 66.1,452.9 66.5,452.3 66.5,452.3 66.8,451.5 67.2,450.7 67.5,449.9 67.9,448.6 68.2,447.8 68.4,447.9 68.6,447.9 68.9,447.6 69.3,447.3 69.6,447.2 70.0,447.1 70.0,446.9 70.3,446.9 70.7,447.0 71.0,447.2 71.3,447.5 71.4,447.5 71.7,447.7 72.1,448.3 72.4,449.2 72.6,449.4 72.8,449.6 73.1,450.6 73.5,451.6 73.8,452.7 74.0,453.6 74.2,454.2 74.5,455.3 74.9,456.3 75.2,457.3 75.6,458.2 75.9,459.3 76.1,459.9 76.3,460.2 76.6,461.3 77.0,462.4 77.3,463.2 77.7,464.1 78.0,464.9 78.4,465.8 78.5,466.2 78.7,466.2 79.1,466.4 79.4,467.0 79.8,467.8 80.1,468.2 80.5,468.3 80.8,468.5 81.2,468.8 81.5,469.2 81.9,469.5 82.2,469.7 82.4,469.6 82.6,469.4 82.9,469.8 83.3,470.5 83.6,470.7 84.0,470.6 84.3,470.7 84.7,471.0 85.0,471.2 85.4,471.4 85.7,471.5 86.1,471.7 86.4,471.7 86.6,471.7 86.8,471.7 87.1,471.5 87.5,471.6 87.8,472.1 88.2,472.1 88.5,472.2 88.9,472.6 89.2,472.6 89.6,472.4 89.9,472.4 90.3,472.5 90.6,472.4 91.0,472.6 91.0,472.7 91.3,472.3 91.7,472.3 92.0,472.8 92.4,473.1 92.7,473.1 93.1,473.2 93.4,473.3 93.8,473.5 94.1,473.3 94.5,473.0 94.8,472.9 95.2,472.9 95.5,472.8 95.9,472.7 96.2,472.8 96.3,473.1 96.6,473.2 96.9,473.4 97.3,473.2 97.6,472.8 98.0,473.1 98.3,473.8 98.7,473.9 99.0,473.7 99.4,473.7 99.7,473.8 100.1,473.6 100.4,473.5 100.8,473.5 101.1,473.4 101.5,473.5 101.8,473.7 102.2,473.5 102.5,473.5 102.9,473.7 103.2,473.8 103.6,473.6 103.9,473.1 104.3,473.0 104.6,473.4 105.0,473.9 105.3,474.1 105.7,473.9 106.0,474.0 106.4,474.2 106.7,474.1 107.0,474.0 107.1,474.0 107.4,473.6 107.8,473.8 108.1,474.4 108.5,474.3 108.8,473.9 109.2,473.9 109.5,474.0 109.9,474.1 110.2,474.1 110.6,474.1 110.9,474.0 111.3,473.9 111.6,474.0 112.0,474.2 112.3,474.2 112.7,474.1 113.0,474.2 113.4,474.4 113.7,474.6 114.1,474.7 114.4,474.4 114.8,474.2 115.1,473.9 115.5,474.1 115.8,474.5 116.2,474.6 116.5,474.5 116.9,474.4 117.2,474.4 117.6,474.5 117.9,474.4 118.3,474.5 118.6,474.5 118.9,474.3 119.0,474.2 119.3,474.4 119.7,474.7 120.0,474.7 120.4,474.3 120.7,474.3 121.1,474.3 121.4,474.5 121.8,474.5 122.1,474.3 122.5,474.2 122.8,474.3 123.2,474.5 123.5,474.5 123.9,474.4 124.2,474.2 124.6,474.3 124.9,474.6 125.3,474.8 125.6,474.8 126.0,474.6 126.3,474.2 126.7,474.4 127.0,474.9 127.4,474.8 127.7,474.8 128.1,474.7 128.4,474.5 128.8,474.5 129.1,474.4 129.5,474.5 129.8,474.7 130.2,474.8 130.5,474.5 130.9,474.3 131.2,474.3 131.6,474.5 131.9,474.8 132.3,474.7 132.6,474.6 133.0,474.6 133.3,474.4 133.7,474.4 134.0,474.6 134.4,474.6 134.7,474.5 135.1,474.7 135.4,475.0 135.8,475.3 136.1,474.8 136.5,474.3 136.8,474.5 137.2,474.7 137.5,474.6 137.9,474.4 138.2,474.5 138.6,474.6 138.9,474.7 139.3,474.7 139.6,474.5 140.0,474.3 140.3,474.2 140.7,474.6 141.0,475.0 141.4,474.7 141.5,474.4 141.7,474.6 142.1,475.0 142.4,475.0 142.8,474.7 143.1,474.5 143.5,474.4 143.8,474.6 144.2,474.6 144.5,474.4 144.9,474.5 145.2,474.9 145.6,474.9 145.9,474.8 146.3,474.9 146.6,474.7 147.0,474.4 147.3,474.3 147.7,474.5 148.0,474.8 148.4,475.0 148.7,474.9 149.1,474.7 149.4,475.0 149.8,475.1 150.1,474.7 150.5,474.7 150.8,474.7 151.2,474.8 151.5,474.8 151.9,474.3 152.2,474.1 152.6,474.3 152.9,474.3 153.3,474.5 153.6,474.9 154.0,475.1 154.3,475.0 154.7,474.9 155.0,474.7 155.4,474.6 155.7,475.0 156.1,475.0 156.4,474.8 156.8,474.6 157.1,474.4 157.5,474.2 157.8,474.5 158.2,474.7 158.5,474.7 158.9,474.5 159.2,474.4 159.6,474.4 159.9,474.4 160.3,474.2 160.6,474.4 161.0,474.6 161.3,474.4 161.7,474.4 162.0,474.7 162.4,474.7 162.7,474.8 163.1,474.8 163.4,474.6 163.8,474.5 164.1,474.4 164.5,474.3 164.8,474.2 165.0,474.6 165.2,475.1 165.5,474.9 165.9,474.4 166.2,474.3 166.6,474.5 166.9,474.7 167.3,474.5 167.6,474.4 168.0,474.7 168.3,474.8 168.7,474.8 169.0,475.0 169.4,475.0 169.7,474.7 170.1,474.7 170.4,474.6 170.8,474.4 171.1,474.4 171.5,474.5 171.8,474.5 172.2,474.6 172.5,474.8 172.9,474.6 173.2,474.3 173.6,474.5 173.9,474.6 174.3,474.5 174.6,474.6 175.0,474.9 175.3,475.0 175.7,474.3 176.0,474.2 176.4,474.6 176.7,474.7 177.1,474.6 177.4,474.5 177.8,474.3 178.1,474.1 178.5,474.1 178.8,474.1 179.2,474.3 179.5,474.7 179.9,474.7 180.2,474.3 180.6,474.1 180.9,474.1 181.3,473.9 181.6,473.9 182.0,474.2 182.3,474.4 182.7,474.3 183.0,474.0 183.4,473.9 183.7,474.0 184.1,474.0 184.4,474.1 184.8,474.3 185.0,474.6 185.1,474.6 185.5,474.3 185.8,474.4 186.2,474.6 186.5,474.2 186.9,473.9 187.2,474.1 187.6,474.3 187.9,474.3 188.3,474.3 188.6,474.2 189.0,474.4 189.3,474.5 189.7,474.3 190.0,474.2 190.4,474.5 190.7,474.5 191.1,474.1 191.4,473.8 191.8,473.7 192.1,473.8 192.5,474.0 192.8,474.0 193.2,473.8 193.5,473.9 193.9,474.1 194.2,473.9 194.6,474.0 194.9,474.3 195.3,474.4 195.6,474.4 196.0,474.4 196.3,474.3 196.7,473.9 197.0,473.7 197.4,473.9 197.7,474.0 198.1,474.0 198.4,473.9 198.8,474.1 199.1,474.3 199.5,473.9 199.8,473.5 200.2,473.8 200.5,474.2 200.9,474.2 201.2,473.9 201.6,473.7 201.9,473.8 202.3,473.9 202.6,474.0 203.0,474.2 203.3,474.3 203.7,474.0 204.0,473.8 204.4,473.6 204.7,473.6 205.0,473.7 205.1,473.8 205.4,473.9 205.8,473.7 206.1,473.6 206.5,474.0 206.8,474.1 207.2,473.9 207.5,473.7 207.9,473.8 208.2,474.1 208.6,474.3 208.9,474.0 209.3,473.5 209.6,473.4 210.0,473.6 210.3,473.9 210.7,474.1 211.0,474.2 211.4,474.2 211.7,474.1 212.1,473.9 212.4,473.8 212.8,473.8 213.1,473.8 213.5,473.9 213.8,473.8 214.2,473.6 214.5,473.6 214.9,473.6 215.2,473.4 215.6,473.2 215.9,473.4 216.3,473.7 216.6,473.8 217.0,473.9 217.3,474.2 217.7,474.0 218.0,473.4 218.4,473.6 218.7,474.3 219.1,474.3 219.4,473.8 219.8,473.7 220.1,473.8 220.5,473.4 220.8,473.3 221.2,473.4 221.5,473.4 221.9,473.7 222.2,473.5 222.6,473.2 222.9,473.2 223.3,473.2 223.6,473.3 224.0,473.5 224.3,473.5 224.7,473.5 225.0,473.4 225.0,473.2 225.4,473.2 225.7,473.3 226.1,473.1 226.4,472.9 226.8,473.1 227.1,473.2 227.5,473.3 227.8,473.4 228.2,473.3 228.5,473.1 228.9,472.9 229.2,472.9 229.6,473.2 229.9,473.6 230.3,473.7 230.6,473.6 231.0,473.1 231.3,472.9 231.7,473.1 232.0,473.2 232.4,473.0 232.7,472.9 233.1,472.9 233.4,472.9 233.8,473.0 234.1,473.2 234.5,473.2 234.8,473.2 235.2,473.2 235.5,473.1 235.9,473.2 236.2,473.2 236.6,473.2 236.9,473.4 237.3,473.5 237.6,473.4 238.0,473.2 238.3,473.2 238.7,473.3 239.0,473.1 239.4,472.9 239.7,473.2 240.1,473.3 240.4,473.0 240.8,472.7 241.1,472.8 241.5,473.0 241.8,472.9 242.2,472.7 242.5,472.8 242.9,472.9 243.2,472.9 243.6,472.7 243.9,472.6 244.3,472.6 244.6,472.7 245.0,472.8 245.0,473.0 245.3,472.8 245.7,472.5 246.0,472.6 246.4,472.7 246.7,472.7 247.1,472.9 247.4,473.2 247.8,473.1 248.1,472.7 248.5,472.5 248.8,472.5 249.2,472.8 249.5,472.9 249.9,472.5 250.2,472.4 250.6,472.8 250.9,473.2 251.3,473.1 251.6,472.7 252.0,472.4 252.3,472.4 252.7,472.8 253.0,472.6 253.4,472.2 253.7,472.4 254.1,472.5 254.2,472.3 254.4,472.4 254.8,472.5 255.1,472.4 255.5,472.2 255.8,472.1 256.2,471.9 256.5,472.0 256.9,472.4 257.2,472.5 257.6,472.1 257.9,472.1 258.3,472.3 258.6,472.1 259.0,472.2 259.3,472.1 259.7,471.7 260.0,471.7 260.4,471.8 260.7,471.9 261.1,471.8 261.4,471.7 261.8,471.7 262.1,471.5 262.5,471.4 262.8,471.8 263.2,472.1 263.4,472.1 263.5,471.9 263.9,471.9 264.2,471.5 264.6,471.2 264.9,471.4 265.3,471.4 265.6,471.2 266.0,471.2 266.3,471.1 266.7,470.9 267.0,470.8 267.4,470.6 267.7,470.7 268.1,470.8 268.4,470.8 268.8,471.1 269.1,471.0 269.5,470.6 269.8,470.5 270.2,470.5 270.5,470.3 270.9,470.5 271.2,470.7 271.6,470.7 271.9,470.6 272.3,470.7 272.5,470.8 272.6,470.7 273.0,470.5 273.3,470.3 273.7,470.2 274.0,470.2 274.4,470.2 274.7,470.0 275.1,469.9 275.4,470.0 275.8,470.2 276.1,470.1 276.5,469.9 276.8,469.7 277.2,469.6 277.5,469.4 277.9,469.5 278.2,469.7 278.6,469.6 278.9,469.7 279.3,469.8 279.6,469.5 280.0,469.2 280.3,469.2 280.7,469.4 281.0,469.3 281.4,469.2 281.7,468.9 281.7,468.5 282.1,468.5 282.4,468.9 282.8,469.1 283.1,468.7 283.5,468.4 283.8,468.1 284.2,468.0 284.5,468.1 284.9,468.1 285.2,467.9 285.6,467.4 285.9,467.4 286.3,467.6 286.6,467.2 287.0,467.1 287.3,467.2 287.7,467.2 288.0,467.1 288.4,467.0 288.7,466.8 289.1,466.8 289.1,466.8 289.4,466.5 289.8,466.4 290.1,466.4 290.5,466.2 290.8,466.3 291.2,466.5 291.5,466.3 291.9,465.8 292.0,465.5 292.2,465.6 292.6,465.9 292.9,465.7 293.3,465.2 293.6,464.7 294.0,464.2 294.3,463.7 294.6,463.3 294.7,463.3 295.0,463.3 295.4,463.2 295.7,462.8 296.1,462.5 296.4,462.0 296.6,461.6 296.8,461.7 297.1,461.3 297.5,460.7 297.8,460.0 298.2,459.1 298.3,458.8 298.5,458.4 298.9,457.5 299.2,456.8 299.6,455.9 299.9,454.9 300.3,454.1 300.6,453.4 301.0,452.5 301.0,452.3 301.3,451.4 301.7,450.3 302.0,449.3 302.4,448.3 302.7,447.2 303.1,446.0 303.3,445.2 303.4,444.8 303.8,443.3 304.1,441.5 304.5,439.4 304.6,438.9 304.8,438.3 305.2,436.6 305.5,434.9 305.9,433.0 306.2,431.2 306.5,429.8 306.6,429.4 306.9,427.5 307.3,425.4 307.6,423.0 308.0,420.9 308.3,418.7 308.5,417.1 308.7,415.7 309.0,412.2 309.4,408.0 309.7,404.2 309.7,404.4 310.1,401.7 310.4,399.0 310.6,397.1 310.8,395.3 311.1,390.0 311.4,385.3 311.5,384.5 311.8,379.1 312.2,373.6 312.5,367.8 312.9,362.1 312.9,361.5 313.2,356.8 313.6,350.9 313.9,345.1 314.3,339.5 314.3,338.7 314.6,333.3 315.0,326.9 315.1,324.3 315.3,321.2 315.7,316.3 315.9,313.1 316.0,311.7 316.4,306.4 316.6,303.7 316.7,303.0 317.1,299.8 317.4,297.1 317.8,296.0 317.8,295.8 318.1,296.5 318.5,299.0 318.8,302.0 319.0,303.7 319.2,305.3 319.5,309.9 319.7,312.9 319.9,315.6 320.2,322.9 320.3,324.9 320.6,329.5 320.9,336.2 321.0,338.3 321.3,344.1 321.5,349.8 321.6,351.8 322.0,358.3 322.1,361.7 322.3,366.6 322.6,373.5 322.7,374.5 323.0,381.4 323.2,384.7 323.4,387.2 323.7,391.8 324.0,396.6 324.1,397.7 324.4,410.7 324.6,416.9 324.8,419.4 325.1,424.6 325.5,429.1 325.5,429.9 325.8,432.2 326.2,434.3 326.2,434.4 326.5,436.5 326.9,439.2 327.2,441.6 327.4,442.7 327.6,443.6 327.9,445.5 328.3,447.4 328.6,449.4 328.9,450.5 329.0,450.6 329.3,451.7 329.7,452.5 330.0,453.2 330.4,453.8 330.7,454.1 331.1,454.4 331.2,454.4 331.4,454.4 331.8,454.6 332.1,454.9 332.5,455.1 332.8,455.6 333.2,456.0 333.5,455.8 333.9,455.5 334.2,455.8 334.3,456.4 334.6,456.6 334.9,456.6 335.3,456.6 335.6,456.7 336.0,456.6 336.3,456.8 336.7,457.2 337.0,457.0 337.3,456.7 337.4,457.1 337.7,457.4 338.1,457.3 338.4,456.9 338.8,456.5 339.1,456.0 339.2,455.7 339.5,455.8 339.8,455.9 340.2,455.2 340.4,454.4 340.5,454.3 340.9,453.5 341.2,452.4 341.6,451.2 341.9,450.2 341.9,450.0 342.3,449.1 342.6,448.6 343.0,448.2 343.3,447.7 343.7,447.0 343.8,447.0 344.0,447.2 344.4,447.5 344.7,448.2 345.1,449.1 345.4,449.9 345.8,450.6 345.8,450.4 346.1,451.3 346.5,452.9 346.8,454.2 347.2,455.2 347.5,456.4 347.7,457.0 347.9,457.6 348.2,459.2 348.6,460.7 348.9,461.9 349.2,463.1 349.3,463.5 349.6,464.5 350.0,465.3 350.3,466.3 350.7,467.2 351.0,467.8 351.1,467.9 351.4,468.0 351.7,467.9 352.1,468.4 352.4,469.1 352.8,469.6 353.1,469.7 353.5,469.7 353.8,469.8 354.2,470.1 354.5,470.2 354.9,470.3 355.0,470.7 355.2,470.9 355.6,470.9 355.9,471.1 356.3,471.1 356.6,471.0 357.0,471.0 357.3,471.2 357.7,471.4 358.0,471.4 358.4,471.5 358.7,471.6 359.1,471.4 359.4,471.4 359.5,471.8 359.8,471.9 360.1,471.8 360.5,471.8 360.8,472.0 361.2,471.9 361.5,471.7 361.9,471.9 362.2,472.3 362.6,472.4 362.9,472.2 363.3,472.0 363.6,471.9 364.0,471.9 364.3,471.9 364.7,472.1 364.9,472.1 365.0,472.1 365.4,472.2 365.7,472.3 366.1,472.2 366.4,471.9 366.8,471.6 367.1,471.9 367.5,472.3 367.8,472.2 368.2,472.0 368.5,471.8 368.9,471.6 369.2,471.8 369.6,472.5 369.9,472.8 370.3,472.2 370.6,472.0 371.0,472.4 371.3,472.7 371.7,472.6 372.0,472.6 372.4,472.6 372.7,472.4 373.1,472.4 373.4,472.6 373.8,472.5 374.1,472.3 374.5,472.1 374.8,472.1 374.8,472.1 375.2,472.2 375.5,472.8 375.9,473.4 376.2,473.2 376.6,473.0 376.9,473.0 377.3,472.9 377.6,473.1 378.0,473.3 378.3,473.1 378.7,472.9 379.0,472.9 379.4,473.1 379.7,472.8 380.1,472.5 380.4,472.6 380.8,472.8 381.1,473.0 381.5,473.3 381.8,473.4 382.2,473.2 382.5,472.9 382.9,472.9 383.2,473.1 383.6,473.1 383.9,473.2 384.3,473.2 384.6,473.2 384.7,473.3 385.0,473.5 385.3,473.5 385.7,473.1 386.0,472.8 386.4,472.7 386.7,472.9 387.1,473.3 387.4,473.4 387.8,473.3 388.1,473.2 388.5,473.0 388.8,472.9 389.2,473.1 389.5,473.1 389.9,472.9 390.2,472.9 390.6,473.0 390.9,473.1 391.3,473.2 391.6,473.2 392.0,473.3 392.3,473.0 392.7,472.9 393.0,472.9 393.4,472.8 393.7,472.9 394.1,473.1 394.4,473.2 394.6,473.0 394.8,473.0 395.1,473.4 395.5,473.5 395.8,473.3 396.2,472.8 396.5,472.7 396.9,472.9 397.2,472.9 397.6,472.8 397.9,472.8 398.3,472.9 398.6,473.0 399.0,472.9 399.3,473.1 399.7,473.1 400.0,472.9 400.4,472.9 400.7,472.8 401.1,472.7 401.4,472.7 401.8,473.0 402.1,473.3 402.5,473.1 402.8,472.6 403.2,472.4 403.5,472.3 403.9,472.4 404.2,472.7 404.5,472.9 404.6,472.7 404.9,472.5 405.3,472.5 405.6,472.6 406.0,472.4 406.3,472.0 406.7,472.1 407.0,472.0 407.4,471.9 407.7,472.2 408.1,472.6 408.4,472.5 408.8,472.1 409.1,471.9 409.5,472.2 409.8,472.0 410.2,471.6 410.5,471.8 410.9,471.8 411.0,471.6 411.2,471.5 411.6,471.5 411.9,471.4 412.3,471.4 412.6,471.5 413.0,471.9 413.3,472.0 413.7,471.7 414.0,471.7 414.4,471.5 414.7,471.1 415.1,471.2 415.4,471.4 415.8,471.2 416.1,471.2 416.5,471.1 416.8,471.0 417.2,471.5 417.3,471.4 417.5,470.9 417.9,470.8 418.2,471.1 418.6,471.5 418.9,471.4 419.3,471.0 419.6,471.1 420.0,471.3 420.3,471.3 420.7,471.4 421.0,471.6 421.0,471.8 421.4,471.7 421.7,471.5 422.1,471.5 422.4,471.8 422.8,472.1 423.1,472.0 423.5,471.9 423.8,472.0 424.2,472.0 424.5,472.3 424.9,472.3 425.0,472.3 425.2,472.4 425.6,472.2 425.9,472.3 426.3,472.4 426.6,472.5 427.0,472.5 427.3,472.5 427.7,472.7 428.0,473.0 428.4,473.1 428.7,473.1 429.1,472.9 429.4,472.6 429.8,472.7 430.1,473.0 430.5,473.1 430.8,473.4 431.2,473.5 431.5,473.4 431.9,473.6 432.0,473.6 432.2,473.5 432.6,473.7 432.9,474.0 433.3,474.2 433.6,473.8 434.0,473.4 434.3,473.6 434.7,473.9 435.0,474.0 435.4,474.0 435.7,474.2 436.1,474.2 436.4,473.9 436.8,474.0 437.1,474.1 437.5,474.0 437.8,473.9 438.2,473.6 438.5,473.6 438.9,474.0 439.2,474.2 439.6,474.3 439.8,474.2 439.9,474.0 440.3,474.1 440.6,474.1 441.0,474.2 441.3,474.3 441.7,474.4 442.0,474.2 442.4,473.9 442.7,473.9 443.1,473.9 443.4,473.9 443.8,474.3 444.1,474.6 444.5,474.4 444.8,474.3 445.2,474.4 445.5,474.3 445.9,474.5 446.2,474.5 446.6,474.3 446.9,474.5 447.3,474.7 447.6,474.6 448.0,474.9 448.3,474.9 448.7,474.6 449.0,474.7 449.4,475.0 449.7,474.9 449.7,474.5 450.1,474.2 450.4,474.3 450.8,474.5 451.1,474.7 451.5,475.0 451.8,475.1 452.2,475.1 452.5,474.7 452.9,474.6 453.2,474.7 453.6,474.7 453.9,474.7 454.3,474.7 454.6,474.8 455.0,474.8 455.3,474.6 455.7,474.8 456.0,475.1 456.4,475.0 456.7,474.9 457.1,475.0 457.4,475.3 457.8,475.3 458.1,475.2 458.5,475.3 458.8,475.4 459.2,475.4 459.5,475.3 459.6,475.2 459.9,475.1 460.2,475.2 460.6,475.4 460.9,475.4 461.3,475.3 461.6,475.5 462.0,475.5 462.3,475.0 462.7,475.0 463.0,475.1 463.4,475.2 463.7,475.3 464.1,475.4 464.4,475.4 464.8,475.4 465.1,475.6 465.5,475.7 465.8,475.7 466.2,475.8 466.5,475.9 466.9,475.8 467.2,476.0 467.6,476.2 467.9,475.9 468.3,475.7 468.6,475.8 469.0,475.8 469.3,475.8 469.5,475.7 469.7,475.8 470.0,476.2 470.4,476.3 470.7,476.0 471.1,475.8 471.4,475.6 471.8,475.7 472.1,476.1 472.5,476.3 472.8,476.3 473.2,476.0 473.5,475.9 473.9,476.2 474.2,476.4 474.6,476.4 474.9,476.2 475.3,475.9 475.6,475.8 476.0,476.3 476.3,476.4 476.7,476.2 477.0,476.2 477.4,476.3 477.7,476.5 478.1,476.9 478.4,477.0 478.8,476.8 479.1,476.6 479.3,476.2 479.5,476.3 479.8,476.6 480.2,476.7 480.5,476.6 480.9,476.3 481.2,476.3 481.6,476.4 481.9,476.3 482.3,476.6 482.6,477.0 483.0,476.7 483.3,476.5 483.7,476.6 484.0,476.6 484.4,476.5 484.7,476.7 485.1,477.0 485.4,476.9 485.8,476.6 486.1,476.5 486.5,476.8 486.8,476.8 487.2,476.7 487.5,476.7 487.9,476.8 488.2,476.7 488.6,476.5 488.9,476.5 489.3,476.9 489.5,477.3" fill="none" stroke="#00ffff" stroke-width="2.70" stroke-linejoin="round" stroke-linecap="butt" clip-path="url(#cb)"/>
<polyline points="29.0,473.7 29.4,473.7 29.7,473.7 30.1,473.8 30.4,474.1 30.8,474.1 31.1,474.2 31.5,474.3 31.8,474.2 32.2,474.0 32.5,473.9 32.9,474.0 33.2,474.1 33.5,473.9 33.6,473.6 33.9,473.7 34.3,474.1 34.6,474.3 35.0,474.2 35.3,474.1 35.7,474.1 36.0,473.9 36.4,473.7 36.7,473.9 37.1,474.1 37.4,474.2 37.5,474.3 37.8,474.2 38.1,474.4 38.5,474.5 38.8,474.5 39.2,474.5 39.5,474.7 39.9,474.7 40.2,474.3 40.6,474.0 40.9,474.3 41.3,474.6 41.5,474.3 41.6,474.0 42.0,473.8 42.3,473.6 42.7,473.9 43.0,474.3 43.4,473.9 43.7,473.4 44.1,473.6 44.4,473.7 44.8,473.4 45.1,473.3 45.5,473.5 45.8,473.4 45.9,473.2 46.2,473.4 46.5,473.5 46.9,473.1 47.2,472.8 47.6,473.1 47.9,473.1 48.3,472.9 48.6,472.8 49.0,472.9 49.3,472.8 49.5,472.7 49.7,472.5 50.0,472.1 50.4,472.1 50.7,472.1 51.1,472.2 51.4,472.2 51.8,472.2 52.1,472.0 52.5,471.7 52.7,471.7 52.8,471.6 53.2,471.2 53.5,470.8 53.9,470.7 54.2,471.0 54.6,470.9 54.9,470.4 55.0,470.2 55.3,470.0 55.6,469.8 56.0,469.4 56.3,469.2 56.7,469.2 57.0,468.9 57.0,468.5 57.4,467.8 57.7,467.5 58.1,467.4 58.4,467.1 58.8,466.6 59.1,466.3 59.2,466.2 59.5,466.2 59.8,466.0 60.2,465.8 60.5,465.7 60.9,465.5 61.2,465.0 61.6,464.3 61.8,463.8 61.9,464.0 62.3,463.5 62.6,462.4 63.0,461.1 63.3,460.1 63.7,459.2 64.0,458.6 64.0,459.0 64.4,458.1 64.7,456.9 65.1,455.8 65.4,454.8 65.8,454.0 66.1,452.9 66.5,451.7 66.5,451.5 66.8,450.6 67.2,449.7 67.5,449.1 67.9,448.6 68.2,448.1 68.4,447.7 68.6,447.6 68.9,447.5 69.3,447.3 69.6,447.0 70.0,446.8 70.0,446.8 70.3,446.9 70.7,446.9 71.0,447.0 71.3,447.3 71.4,447.3 71.7,447.5 72.1,447.9 72.4,448.6 72.6,449.2 72.8,449.7 73.1,450.8 73.5,451.7 73.8,453.0 74.0,454.1 74.2,454.3 74.5,454.8 74.9,455.7 75.2,456.7 75.6,457.8 75.9,459.2 76.1,460.0 76.3,460.5 76.6,461.2 77.0,462.2 77.3,463.3 77.7,464.1 78.0,464.8 78.4,465.4 78.5,465.4 78.7,465.6 79.1,466.4 79.4,466.9 79.8,467.2 80.1,467.8 80.5,468.2 80.8,468.2 81.2,468.5 81.5,468.6 81.9,468.4 82.2,468.7 82.4,469.2 82.6,469.3 82.9,469.4 83.3,469.8 83.6,470.2 84.0,470.5 84.3,470.7 84.7,470.9 85.0,471.1 85.4,471.1 85.7,471.4 86.1,471.7 86.4,471.8 86.6,471.8 86.8,471.7 87.1,471.9 87.5,471.9 87.8,471.6 88.2,471.6 88.5,471.7 88.9,471.8 89.2,471.9 89.6,471.9 89.9,472.1 90.3,472.4 90.6,472.7 91.0,472.8 91.0,472.6 91.3,472.3 91.7,472.3 92.0,472.5 92.4,472.6 92.7,472.5 93.1,472.5 93.4,472.7 93.8,472.8 94.1,472.8 94.5,472.9 94.8,472.9 95.2,472.8 95.5,472.9 95.9,473.0 96.2,473.3 96.3,473.3 96.6,473.0 96.9,473.0 97.3,473.2 97.6,473.0 98.0,472.9 98.3,473.2 98.7,473.3 99.0,473.3 99.4,473.5 99.7,473.6 100.1,473.4 100.4,473.5 100.8,473.7 101.1,473.4 101.5,473.1 101.8,473.1 102.2,473.3 102.5,473.4 102.9,473.2 103.2,473.1 103.6,473.5 103.9,474.1 104.3,474.1 104.6,473.7 105.0,473.7 105.3,473.6 105.7,473.4 106.0,473.4 106.4,473.5 106.7,473.7 107.0,473.9 107.1,473.8 107.4,473.9 107.8,473.9 108.1,473.5 108.5,473.4 108.8,473.5 109.2,473.8 109.5,474.1 109.9,474.1 110.2,474.1 110.6,473.9 110.9,473.8 111.3,473.9 111.6,473.9 112.0,473.6 112.3,473.6 112.7,473.7 113.0,473.6 113.4,473.7 113.7,473.9 114.1,474.1 114.4,474.2 114.8,474.3 115.1,474.0 115.5,473.9 115.8,474.1 116.2,474.0 116.5,473.9 116.9,474.1 117.2,474.3 117.6,474.2 117.9,474.0 118.3,473.8 118.6,473.9 118.9,474.1 119.0,474.2 119.3,474.1 119.7,473.9 120.0,473.9 120.4,474.0 120.7,474.3 121.1,474.5 121.4,474.3 121.8,474.2 122.1,474.2 122.5,474.2 122.8,474.3 123.2,474.2 123.5,473.9 123.9,474.0 124.2,474.1 124.6,474.2 124.9,474.3 125.3,474.3 125.6,474.2 126.0,474.1 126.3,474.0 126.7,473.8 127.0,473.9 127.4,474.1 127.7,474.1 128.1,474.1 128.4,474.1 128.8,474.0 129.1,473.9 129.5,474.3 129.8,474.5 130.2,474.1 130.5,473.8 130.9,474.0 131.2,474.2 131.6,474.5 131.9,474.8 132.3,474.9 132.6,474.5 133.0,474.3 133.3,474.4 133.7,474.4 134.0,474.2 134.4,474.0 134.7,474.1 135.1,474.4 135.4,474.5 135.8,474.2 136.1,474.2 136.5,474.4 136.8,474.1 137.2,474.1 137.5,474.3 137.9,474.3 138.2,474.5 138.6,474.6 138.9,474.4 139.3,474.2 139.6,474.0 140.0,474.1 140.3,474.4 140.7,474.5 141.0,474.1 141.4,474.0 141.5,474.1 141.7,474.2 142.1,474.2 142.4,474.2 142.8,474.1 143.1,474.3 143.5,474.6 143.8,474.4 144.2,474.5 144.5,474.8 144.9,474.5 145.2,474.1 145.6,474.0 145.9,474.2 146.3,474.5 146.6,474.4 147.0,474.2 147.3,474.1 147.7,474.4 148.0,474.7 148.4,474.5 148.7,474.1 149.1,474.0 149.4,474.2 149.8,474.2 150.1,474.0 150.5,474.3 150.8,474.7 151.2,474.6 151.5,474.4 151.9,474.4 152.2,474.3 152.6,474.3 152.9,474.3 153.3,474.4 153.6,474.6 154.0,474.5 154.3,474.4 154.7,474.6 155.0,474.7 155.4,474.6 155.7,474.5 156.1,474.5 156.4,474.6 156.8,474.7 157.1,474.3 157.5,474.2 157.8,474.3 158.2,474.4 158.5,474.5 158.9,474.4 159.2,474.4 159.6,474.5 159.9,474.3 160.3,474.2 160.6,474.5 161.0,474.4 161.3,474.2 161.7,474.3 162.0,474.4 162.4,474.3 162.7,474.0 163.1,473.8 163.4,473.9 163.8,474.1 164.1,474.1 164.5,474.1 164.8,474.0 165.0,473.8 165.2,473.8 165.5,474.0 165.9,474.3 166.2,474.2 166.6,473.9 166.9,474.2 167.3,474.5 167.6,474.1 168.0,473.7 168.3,474.2 168.7,474.6 169.0,474.3 169.4,474.0 169.7,474.1 170.1,474.3 170.4,474.3 170.8,474.4 171.1,474.5 171.5,474.3 171.8,474.2 172.2,474.2 172.5,474.2 172.9,474.3 173.2,474.3 173.6,474.1 173.9,474.1 174.3,474.1 174.6,473.8 175.0,473.8 175.3,474.1 175.7,474.2 176.0,474.3 176.4,474.4 176.7,474.3 177.1,474.4 177.4,474.7 177.8,474.7 178.1,474.4 178.5,474.1 178.8,474.3 179.2,474.4 179.5,474.4 179.9,474.0 180.2,473.8 180.6,474.0 180.9,474.0 181.3,474.0 181.6,474.0 182.0,473.9 182.3,473.9 182.7,473.7 183.0,473.3 183.4,473.5 183.7,473.7 184.1,473.8 184.4,474.1 184.8,474.1 185.0,474.0 185.1,474.1 185.5,474.1 185.8,473.9 186.2,473.9 186.5,473.9 186.9,474.1 187.2,474.4 187.6,474.2 187.9,473.8 188.3,473.7 188.6,473.6 189.0,473.8 189.3,474.0 189.7,474.1 190.0,474.3 190.4,474.2 190.7,473.7 191.1,473.4 191.4,473.4 191.8,473.5 192.1,473.6 192.5,473.8 192.8,474.1 193.2,474.3 193.5,474.4 193.9,474.1 194.2,473.8 194.6,474.0 194.9,474.1 195.3,473.7 195.6,473.6 196.0,473.8 196.3,473.9 196.7,473.8 197.0,473.8 197.4,473.5 197.7,473.4 198.1,473.5 198.4,473.7 198.8,473.9 199.1,474.0 199.5,474.0 199.8,474.0 200.2,474.0 200.5,474.0 200.9,473.9 201.2,474.1 201.6,474.4 201.9,474.1 202.3,473.8 202.6,473.8 203.0,474.1 203.3,474.1 203.7,473.8 204.0,473.7 204.4,473.8 204.7,473.8 205.0,474.0 205.1,474.0 205.4,473.8 205.8,473.6 206.1,473.5 206.5,473.6 206.8,473.6 207.2,473.7 207.5,473.7 207.9,473.4 208.2,473.1 208.6,473.2 208.9,473.8 209.3,474.2 209.6,473.9 210.0,473.5 210.3,473.2 210.7,473.2 211.0,473.4 211.4,473.7 211.7,473.8 212.1,473.7 212.4,473.5 212.8,473.2 213.1,473.0 213.5,473.3 213.8,473.6 214.2,473.4 214.5,473.2 214.9,473.4 215.2,473.4 215.6,473.6 215.9,473.4 216.3,473.1 216.6,473.3 217.0,473.6 217.3,473.3 217.7,473.0 218.0,473.3 218.4,473.8 218.7,473.8 219.1,473.6 219.4,473.4 219.8,473.2 220.1,473.3 220.5,473.4 220.8,473.2 221.2,472.9 221.5,473.1 221.9,473.3 222.2,473.2 222.6,473.2 222.9,473.2 223.3,473.0 223.6,473.0 224.0,473.2 224.3,473.4 224.7,473.5 225.0,473.6 225.0,473.6 225.4,473.4 225.7,473.2 226.1,473.3 226.4,473.3 226.8,473.0 227.1,472.6 227.5,472.7 227.8,473.0 228.2,472.9 228.5,472.7 228.9,472.9 229.2,473.1 229.6,473.0 229.9,473.0 230.3,473.1 230.6,473.0 231.0,473.0 231.3,473.1 231.7,473.1 232.0,473.0 232.4,473.0 232.7,472.8 233.1,472.8 233.4,473.0 233.8,473.1 234.1,472.9 234.5,473.0 234.8,473.3 235.2,473.3 235.5,473.0 235.9,472.8 236.2,472.9 236.6,472.9 236.9,472.6 237.3,472.5 237.6,472.8 238.0,472.9 238.3,472.7 238.7,472.6 239.0,472.6 239.4,472.8 239.7,473.2 240.1,473.3 240.4,473.3 240.8,472.9 241.1,472.4 241.5,472.7 241.8,473.0 242.2,472.7 242.5,472.5 242.9,472.5 243.2,472.6 243.6,472.7 243.9,472.6 244.3,472.4 244.6,472.4 245.0,472.9 245.0,473.2 245.3,473.0 245.7,472.6 246.0,472.4 246.4,472.6 246.7,472.6 247.1,472.3 247.4,472.2 247.8,472.3 248.1,472.5 248.5,472.6 248.8,472.5 249.2,472.3 249.5,472.3 249.9,472.4 250.2,472.4 250.6,472.3 250.9,472.5 251.3,472.6 251.6,472.5 252.0,472.5 252.3,472.2 252.7,471.9 253.0,471.9 253.4,472.4 253.7,472.7 254.1,472.5 254.2,472.2 254.4,472.1 254.8,472.3 255.1,472.4 255.5,472.2 255.8,472.0 256.2,471.9 256.5,471.9 256.9,472.1 257.2,472.4 257.6,472.1 257.9,471.4 258.3,471.3 258.6,471.5 259.0,471.6 259.3,471.8 259.7,472.0 260.0,472.1 260.4,472.1 260.7,471.9 261.1,471.9 261.4,471.9 261.8,471.5 262.1,471.3 262.5,471.4 262.8,471.4 263.2,471.2 263.4,471.5 263.5,471.8 263.9,471.9 264.2,471.5 264.6,471.0 264.9,471.0 265.3,471.0 265.6,470.7 266.0,470.6 266.3,470.8 266.7,470.9 267.0,470.7 267.4,470.6 267.7,470.7 268.1,470.8 268.4,471.0 268.8,471.1 269.1,470.8 269.5,470.4 269.8,470.5 270.2,470.5 270.5,470.5 270.9,470.3 271.2,470.1 271.6,470.2 271.9,470.1 272.3,470.2 272.5,470.4 272.6,470.2 273.0,469.8 273.3,469.6 273.7,469.6 274.0,469.6 274.4,469.6 274.7,469.7 275.1,469.6 275.4,469.6 275.8,469.7 276.1,469.6 276.5,469.4 276.8,469.4 277.2,469.4 277.5,469.5 277.9,469.5 278.2,469.4 278.6,469.0 278.9,468.4 279.3,468.5 279.6,468.8 280.0,468.8 280.3,468.9 280.7,468.7 281.0,468.4 281.4,468.5 281.7,468.5 281.7,468.3 282.1,468.1 282.4,468.2 282.8,468.3 283.1,468.2 283.5,468.2 283.8,467.8 284.2,467.7 284.5,467.8 284.9,467.7 285.2,467.7 285.6,467.9 285.9,467.9 286.3,467.8 286.6,467.6 287.0,467.3 287.3,467.4 287.7,467.3 288.0,467.1 288.4,467.0 288.7,466.8 289.1,466.5 289.1,466.5 289.4,466.6 289.8,466.6 290.1,466.7 290.5,466.3 290.8,465.9 291.2,465.8 291.5,465.7 291.9,465.3 292.0,464.9 292.2,464.8 292.6,464.8 292.9,464.8 293.3,464.6 293.6,464.4 294.0,464.1 294.3,463.7 294.6,463.0 294.7,462.8 295.0,462.9 295.4,462.9 295.7,462.5 296.1,461.9 296.4,461.5 296.6,461.3 296.8,461.0 297.1,460.3 297.5,459.7 297.8,459.5 298.2,459.2 298.3,458.7 298.5,458.4 298.9,457.8 299.2,456.7 299.6,455.7 299.9,455.1 300.3,454.4 300.6,453.3 301.0,452.4 301.0,452.3 301.3,451.2 301.7,450.3 302.0,449.6 302.4,448.5 302.7,446.9 303.1,445.4 303.3,444.6 303.4,444.3 303.8,442.5 304.1,440.7 304.5,438.9 304.6,438.3 304.8,437.7 305.2,436.2 305.5,434.4 305.9,432.5 306.2,430.8 306.5,429.4 306.6,429.3 306.9,427.6 307.3,425.4 307.6,423.1 308.0,421.3 308.3,419.0 308.5,417.2 308.7,416.1 309.0,412.7 309.4,408.3 309.7,404.3 309.7,404.4 310.1,401.7 310.4,399.2 310.6,397.2 310.8,395.1 311.1,389.9 311.4,385.1 311.5,384.1 311.8,378.9 312.2,373.9 312.5,368.3 312.9,362.3 312.9,361.4 313.2,356.6 313.6,351.1 313.9,345.4 314.3,339.7 314.3,339.2 314.6,333.9 315.0,327.5 315.1,324.7 315.3,321.5 315.7,316.8 315.9,313.7 316.0,312.4 316.4,307.3 316.6,304.4 316.7,303.6 317.1,300.5 317.4,297.7 317.8,296.5 317.8,296.6 318.1,297.3 318.5,299.7 318.8,302.9 319.0,304.5 319.2,305.9 319.5,310.6 319.7,313.4 319.9,315.7 320.2,323.0 320.3,325.4 320.6,330.2 320.9,336.7 321.0,338.8 321.3,344.5 321.5,350.4 321.6,352.7 322.0,359.4 322.1,362.1 322.3,366.4 322.6,373.4 322.7,374.9 323.0,382.0 323.2,385.4 323.4,387.5 323.7,392.0 324.0,397.0 324.1,398.1 324.4,410.9 324.6,417.1 324.8,420.1 325.1,425.2 325.5,428.9 325.5,429.5 325.8,432.1 326.2,434.6 326.2,435.1 326.5,437.2 326.9,439.2 327.2,441.3 327.4,442.7 327.6,443.7 327.9,445.5 328.3,447.4 328.6,449.1 328.9,450.1 329.0,450.2 329.3,451.2 329.7,452.0 330.0,452.7 330.4,453.3 330.7,453.8 331.1,454.1 331.2,454.1 331.4,454.3 331.8,454.8 332.1,455.2 332.5,455.1 332.8,455.1 333.2,455.4 333.5,455.7 333.9,456.0 334.2,456.1 334.3,455.8 334.6,455.6 334.9,455.9 335.3,456.5 335.6,457.0 336.0,456.9 336.3,456.4 336.7,456.2 337.0,456.3 337.3,456.5 337.4,456.6 337.7,456.5 338.1,456.4 338.4,456.4 338.8,456.5 339.1,456.3 339.2,456.2 339.5,456.1 339.8,455.7 340.2,455.2 340.4,455.0 340.5,455.1 340.9,454.7 341.2,453.8 341.6,453.1 341.9,452.9 341.9,453.1 342.3,452.8 342.6,452.4 343.0,452.1 343.3,452.0 343.7,451.8 343.8,451.4 344.0,451.3 344.4,451.6 344.7,452.0 345.1,452.2 345.4,452.6 345.8,452.9 345.8,453.0 346.1,453.7 346.5,454.6 346.8,455.3 347.2,455.8 347.5,456.7 347.7,457.6 347.9,458.5 348.2,459.8 348.6,461.1 348.9,462.6 349.2,463.6 349.3,463.6 349.6,464.4 350.0,465.5 350.3,466.4 350.7,467.1 351.0,468.0 351.1,468.4 351.4,468.4 351.7,468.5 352.1,468.8 352.4,469.0 352.8,469.4 353.1,469.5 353.5,469.3 353.8,469.2 354.2,469.3 354.5,469.8 354.9,470.2 355.0,470.1 355.2,470.1 355.6,470.1 355.9,470.2 356.3,470.6 356.6,470.7 357.0,470.6 357.3,470.5 357.7,470.4 358.0,470.4 358.4,470.5 358.7,470.7 359.1,471.2 359.4,471.3 359.5,471.2 359.8,471.3 360.1,471.2 360.5,471.3 360.8,471.6 361.2,471.8 361.5,471.7 361.9,471.5 362.2,471.6 362.6,471.7 362.9,471.6 363.3,471.5 363.6,471.8 364.0,471.8 364.3,471.8 364.7,472.1 364.9,472.0 365.0,471.8 365.4,472.0 365.7,471.9 366.1,471.9 366.4,472.1 366.8,472.1 367.1,472.0 367.5,471.7 367.8,471.5 368.2,471.6 368.5,471.8 368.9,471.9 369.2,472.0 369.6,472.2 369.9,472.1 370.3,471.7 370.6,471.6 371.0,472.0 371.3,472.2 371.7,472.1 372.0,472.1 372.4,472.4 372.7,472.7 373.1,472.6 373.4,472.2 373.8,471.8 374.1,472.0 374.5,472.2 374.8,472.0 374.8,472.1 375.2,472.6 375.5,472.8 375.9,472.7 376.2,472.7 376.6,472.8 376.9,472.7 377.3,472.6 377.6,472.4 378.0,472.2 378.3,472.3 378.7,472.4 379.0,472.6 379.4,472.7 379.7,472.7 380.1,472.9 380.4,472.9 380.8,473.0 381.1,473.2 381.5,473.2 381.8,473.1 382.2,472.9 382.5,472.8 382.9,473.0 383.2,473.0 383.6,472.7 383.9,472.6 384.3,472.8 384.6,473.1 384.7,472.9 385.0,472.7 385.3,472.9 385.7,473.1 386.0,473.0 386.4,473.0 386.7,473.4 387.1,473.4 387.4,472.9 387.8,472.8 388.1,472.9 388.5,472.9 388.8,472.9 389.2,473.0 389.5,473.2 389.9,473.2 390.2,473.1 390.6,472.9 390.9,472.4 391.3,472.4 391.6,472.6 392.0,472.7 392.3,472.9 392.7,473.1 393.0,473.0 393.4,472.6 393.7,472.2 394.1,472.3 394.4,472.5 394.6,472.7 394.8,472.9 395.1,472.8 395.5,472.4 395.8,472.3 396.2,472.6 396.5,473.0 396.9,473.0 397.2,472.7 397.6,472.6 397.9,472.4 398.3,472.4 398.6,472.7 399.0,473.0 399.3,472.9 399.7,472.8 400.0,472.7 400.4,472.7 400.7,472.6 401.1,472.4 401.4,472.3 401.8,472.3 402.1,472.5 402.5,472.5 402.8,472.3 403.2,472.4 403.5,472.5 403.9,472.5 404.2,472.3 404.5,472.1 404.6,471.9 404.9,471.9 405.3,472.0 405.6,472.1 406.0,471.9 406.3,471.9 406.7,472.0 407.0,471.9 407.4,471.6 407.7,471.5 408.1,471.9 408.4,472.1 408.8,472.0 409.1,471.8 409.5,471.6 409.8,471.3 410.2,471.3 410.5,471.5 410.9,471.4 411.0,471.2 411.2,471.1 411.6,471.2 411.9,471.2 412.3,471.2 412.6,471.4 413.0,471.4 413.3,471.1 413.7,470.8 414.0,471.1 414.4,471.4 414.7,471.4 415.1,471.0 415.4,470.8 415.8,471.2 416.1,471.0 416.5,470.5 416.8,470.2 417.2,470.2 417.3,470.3 417.5,470.5 417.9,470.7 418.2,470.9 418.6,471.0 418.9,470.8 419.3,470.5 419.6,470.3 420.0,470.4 420.3,470.6 420.7,470.6 421.0,470.5 421.0,470.5 421.4,470.8 421.7,471.0 422.1,471.1 422.4,471.1 422.8,471.1 423.1,471.3 423.5,471.5 423.8,471.5 424.2,471.1 424.5,471.2 424.9,471.4 425.0,471.3 425.2,471.4 425.6,471.4 425.9,471.7 426.3,471.9 426.6,471.8 427.0,471.7 427.3,471.6 427.7,471.7 428.0,471.9 428.4,471.8 428.7,471.8 429.1,472.0 429.4,471.9 429.8,471.8 430.1,472.2 430.5,472.3 430.8,472.2 431.2,472.3 431.5,472.6 431.9,472.6 432.0,472.8 432.2,472.9 432.6,472.7 432.9,472.5 433.3,472.3 433.6,472.1 434.0,472.2 434.3,472.6 434.7,472.8 435.0,473.0 435.4,473.0 435.7,473.1 436.1,473.2 436.4,473.4 436.8,473.4 437.1,473.3 437.5,473.3 437.8,473.4 438.2,473.4 438.5,473.2 438.9,473.3 439.2,473.3 439.6,473.3 439.8,473.3 439.9,473.5 440.3,473.8 440.6,473.7 441.0,473.4 441.3,473.5 441.7,473.7 442.0,473.5 442.4,473.4 442.7,473.5 443.1,473.6 443.4,473.5 443.8,473.3 444.1,473.5 444.5,473.8 444.8,473.8 445.2,473.7 445.5,473.8 445.9,473.9 446.2,473.9 446.6,473.9 446.9,473.9 447.3,473.9 447.6,474.0 448.0,474.0 448.3,474.1 448.7,474.5 449.0,474.5 449.4,474.2 449.7,474.0 449.7,474.1 450.1,474.1 450.4,474.2 450.8,474.3 451.1,474.3 451.5,474.2 451.8,474.2 452.2,474.2 452.5,474.3 452.9,474.5 453.2,474.4 453.6,474.2 453.9,474.0 454.3,473.8 454.6,474.1 455.0,474.4 455.3,474.4 455.7,474.5 456.0,474.4 456.4,474.3 456.7,474.3 457.1,474.2 457.4,474.1 457.8,474.3 458.1,474.5 458.5,474.5 458.8,474.5 459.2,474.6 459.5,474.6 459.6,474.7 459.9,474.7 460.2,474.6 460.6,474.8 460.9,474.8 461.3,474.7 461.6,475.0 462.0,475.2 462.3,474.8 462.7,474.6 463.0,474.8 463.4,475.0 463.7,475.0 464.1,474.9 464.4,475.0 464.8,475.4 465.1,475.6 465.5,475.5 465.8,475.5 466.2,475.5 466.5,475.3 466.9,475.3 467.2,475.4 467.6,475.1 467.9,474.7 468.3,474.9 468.6,475.4 469.0,475.4 469.3,475.3 469.5,475.3 469.7,475.2 470.0,475.3 470.4,475.2 470.7,475.1 471.1,475.4 471.4,475.5 471.8,475.4 472.1,475.7 472.5,476.1 472.8,476.1 473.2,475.9 473.5,476.1 473.9,476.0 474.2,475.6 474.6,475.6 474.9,475.9 475.3,475.7 475.6,475.5 476.0,475.9 476.3,476.1 476.7,476.0 477.0,476.0 477.4,475.9 477.7,475.8 478.1,475.9 478.4,476.2 478.8,476.2 479.1,476.2 479.3,476.4 479.5,476.4 479.8,476.3 480.2,476.1 480.5,476.0 480.9,476.4 481.2,476.6 481.6,476.2 481.9,476.0 482.3,476.2 482.6,476.2 483.0,476.3 483.3,476.5 483.7,476.3 484.0,476.3 484.4,476.4 484.7,476.4 485.1,476.1 485.4,476.2 485.8,476.6 486.1,476.5 486.5,476.5 486.8,476.6 487.2,476.7 487.5,476.5 487.9,476.6 488.2,476.6 488.6,476.8 488.9,476.9 489.3,476.8 489.5,476.7" fill="none" stroke="#ff9900" stroke-width="2.70" stroke-linejoin="round" stroke-linecap="butt" clip-path="url(#cb)"/>
<polyline points="29.0,472.2 29.4,472.1 29.7,471.7 30.1,471.4 30.4,471.4 30.8,471.7 31.1,471.8 31.5,471.7 31.8,471.9 32.2,471.8 32.5,471.7 32.9,471.9 33.2,472.0 33.5,472.5 33.6,472.5 33.9,472.3 34.3,472.5 34.6,472.5 35.0,472.4 35.3,472.5 35.7,472.7 36.0,472.6 36.4,472.1 36.7,472.1 37.1,472.3 37.4,472.0 37.5,472.0 37.8,472.2 38.1,471.7 38.5,471.3 38.8,471.8 39.2,472.5 39.5,472.8 39.9,472.4 40.2,472.1 40.6,472.2 40.9,472.2 41.3,472.0 41.5,472.0 41.6,472.2 42.0,472.0 42.3,471.6 42.7,471.8 43.0,472.2 43.4,472.2 43.7,471.8 44.1,471.5 44.4,471.7 44.8,471.9 45.1,471.7 45.5,471.8 45.8,472.0 45.9,471.7 46.2,471.5 46.5,471.7 46.9,472.0 47.2,471.9 47.6,471.4 47.9,471.1 48.3,471.5 48.6,471.5 49.0,471.1 49.3,471.2 49.5,471.4 49.7,471.5 50.0,471.3 50.4,471.1 50.7,470.8 51.1,470.9 51.4,471.0 51.8,470.9 52.1,470.8 52.5,470.9 52.7,470.9 52.8,470.7 53.2,470.5 53.5,470.3 53.9,470.0 54.2,469.8 54.6,469.9 54.9,470.0 55.0,469.6 55.3,469.1 55.6,469.1 56.0,468.8 56.3,468.2 56.7,468.0 57.0,467.9 57.0,468.0 57.4,467.7 57.7,467.1 58.1,466.8 58.4,466.7 58.8,466.2 59.1,465.5 59.2,465.4 59.5,465.4 59.8,465.5 60.2,465.5 60.5,465.0 60.9,464.7 61.2,464.6 61.6,464.1 61.8,463.7 61.9,463.7 62.3,462.9 62.6,462.1 63.0,461.3 63.3,460.2 63.7,458.9 64.0,457.9 64.0,458.3 64.4,457.7 64.7,456.7 65.1,455.7 65.4,454.6 65.8,453.1 66.1,451.9 66.5,451.4 66.5,451.4 66.8,450.6 67.2,450.2 67.5,449.7 67.9,449.0 68.2,448.4 68.4,448.1 68.6,448.1 68.9,447.9 69.3,447.3 69.6,446.7 70.0,446.8 70.0,446.9 70.3,446.7 70.7,446.8 71.0,447.2 71.3,447.5 71.4,447.7 71.7,447.8 72.1,448.2 72.4,448.9 72.6,449.7 72.8,450.2 73.1,451.0 73.5,452.1 73.8,453.0 74.0,453.4 74.2,454.1 74.5,455.2 74.9,455.9 75.2,456.6 75.6,457.6 75.9,458.6 76.1,459.1 76.3,459.6 76.6,460.8 77.0,462.0 77.3,462.6 77.7,463.1 78.0,464.3 78.4,465.1 78.5,464.9 78.7,465.0 79.1,465.7 79.4,466.3 79.8,466.9 80.1,467.4 80.5,467.6 80.8,467.5 81.2,467.6 81.5,468.3 81.9,468.7 82.2,468.7 82.4,468.6 82.6,468.5 82.9,468.5 83.3,468.9 83.6,469.7 84.0,470.3 84.3,470.6 84.7,470.6 85.0,470.5 85.4,470.7 85.7,470.9 86.1,471.3 86.4,471.4 86.6,471.2 86.8,471.2 87.1,471.4 87.5,470.9 87.8,470.8 88.2,471.6 88.5,471.9 88.9,471.4 89.2,471.3 89.6,471.4 89.9,471.4 90.3,471.6 90.6,471.9 91.0,471.8 91.0,471.6 91.3,471.7 91.7,472.0 92.0,471.9 92.4,471.9 92.7,471.8 93.1,471.8 93.4,471.8 93.8,471.8 94.1,471.9 94.5,472.1 94.8,472.1 95.2,472.1 95.5,472.2 95.9,472.4 96.2,472.4 96.3,472.3 96.6,472.2 96.9,472.2 97.3,472.3 97.6,472.2 98.0,472.2 98.3,472.7 98.7,472.6 99.0,472.4 99.4,472.4 99.7,472.1 100.1,472.4 100.4,472.7 100.8,472.7 101.1,472.7 101.5,472.6 101.8,472.6 102.2,472.8 102.5,472.7 102.9,472.6 103.2,472.9 103.6,472.9 103.9,472.7 104.3,472.7 104.6,473.1 105.0,473.4 105.3,473.3 105.7,472.9 106.0,472.7 106.4,472.9 106.7,473.1 107.0,473.1 107.1,473.3 107.4,473.5 107.8,473.4 108.1,473.3 108.5,473.2 108.8,473.0 109.2,473.0 109.5,473.1 109.9,473.3 110.2,473.6 110.6,473.3 110.9,472.6 111.3,472.7 111.6,473.2 112.0,473.2 112.3,473.1 112.7,473.1 113.0,473.2 113.4,473.3 113.7,473.5 114.1,473.4 114.4,473.3 114.8,473.3 115.1,473.3 115.5,473.1 115.8,473.3 116.2,473.7 116.5,473.6 116.9,473.4 117.2,473.8 117.6,473.8 117.9,473.5 118.3,473.4 118.6,473.6 118.9,473.7 119.0,473.5 119.3,473.5 119.7,473.6 120.0,473.7 120.4,473.5 120.7,473.4 121.1,473.3 121.4,473.2 121.8,473.5 122.1,473.6 122.5,473.4 122.8,473.2 123.2,473.4 123.5,473.6 123.9,473.7 124.2,473.5 124.6,473.5 124.9,473.9 125.3,474.1 125.6,474.0 126.0,474.1 126.3,474.2 126.7,474.2 127.0,474.1 127.4,474.0 127.7,473.9 128.1,473.8 128.4,473.6 128.8,473.6 129.1,473.7 129.5,473.3 129.8,473.0 130.2,473.2 130.5,473.6 130.9,473.6 131.2,473.3 131.6,473.5 131.9,473.8 132.3,473.3 132.6,473.3 133.0,473.4 133.3,473.3 133.7,473.4 134.0,473.2 134.4,472.9 134.7,473.1 135.1,473.5 135.4,473.9 135.8,473.8 136.1,473.5 136.5,473.9 136.8,474.1 137.2,473.6 137.5,473.4 137.9,473.6 138.2,473.8 138.6,473.6 138.9,473.4 139.3,473.5 139.6,473.4 140.0,473.6 140.3,473.8 140.7,473.8 141.0,473.8 141.4,473.8 141.5,473.8 141.7,473.9 142.1,474.1 142.4,474.0 142.8,473.9 143.1,474.2 143.5,474.3 143.8,474.2 144.2,474.1 144.5,473.8 144.9,473.7 145.2,473.8 145.6,474.1 145.9,474.5 146.3,474.9 146.6,475.1 147.0,474.9 147.3,474.4 147.7,473.9 148.0,473.6 148.4,473.7 148.7,473.6 149.1,473.5 149.4,473.7 149.8,473.9 150.1,474.0 150.5,474.1 150.8,474.1 151.2,474.1 151.5,474.2 151.9,473.9 152.2,474.0 152.6,474.3 152.9,474.0 153.3,473.6 153.6,473.8 154.0,474.3 154.3,474.3 154.7,474.0 155.0,473.6 155.4,473.5 155.7,473.5 156.1,473.6 156.4,473.8 156.8,473.9 157.1,473.8 157.5,473.8 157.8,473.9 158.2,473.7 158.5,473.5 158.9,473.7 159.2,474.1 159.6,474.3 159.9,474.1 160.3,473.8 160.6,474.0 161.0,474.4 161.3,474.5 161.7,474.3 162.0,474.0 162.4,473.6 162.7,473.6 163.1,473.9 163.4,473.7 163.8,473.4 164.1,473.3 164.5,473.6 164.8,473.9 165.0,473.7 165.2,473.5 165.5,473.8 165.9,473.6 166.2,473.1 166.6,473.2 166.9,473.5 167.3,473.6 167.6,473.9 168.0,474.1 168.3,473.9 168.7,473.9 169.0,474.3 169.4,474.3 169.7,474.1 170.1,473.9 170.4,473.7 170.8,474.0 171.1,474.0 171.5,473.5 171.8,473.5 172.2,473.9 172.5,474.2 172.9,474.2 173.2,473.9 173.6,473.7 173.9,473.5 174.3,473.4 174.6,473.3 175.0,473.4 175.3,473.5 175.7,473.7 176.0,473.4 176.4,473.3 176.7,473.7 177.1,473.8 177.4,473.7 177.8,473.5 178.1,473.4 178.5,473.7 178.8,473.8 179.2,473.6 179.5,473.6 179.9,473.8 180.2,473.7 180.6,473.3 180.9,473.2 181.3,473.5 181.6,473.6 182.0,473.7 182.3,473.5 182.7,473.1 183.0,473.1 183.4,473.5 183.7,473.7 184.1,473.8 184.4,473.7 184.8,473.7 185.0,473.8 185.1,473.7 185.5,473.4 185.8,473.2 186.2,473.1 186.5,473.4 186.9,473.6 187.2,473.8 187.6,474.1 187.9,473.8 188.3,473.4 188.6,473.1 189.0,473.2 189.3,473.5 189.7,473.5 190.0,473.5 190.4,473.3 190.7,473.3 191.1,473.7 191.4,473.6 191.8,473.0 192.1,472.8 192.5,473.0 192.8,473.2 193.2,473.2 193.5,473.4 193.9,473.7 194.2,473.8 194.6,473.5 194.9,472.8 195.3,472.7 195.6,473.1 196.0,473.0 196.3,472.8 196.7,472.8 197.0,473.0 197.4,473.1 197.7,472.8 198.1,472.8 198.4,473.4 198.8,473.3 199.1,472.6 199.5,472.6 199.8,473.1 200.2,473.7 200.5,473.8 200.9,473.6 201.2,473.3 201.6,473.1 201.9,473.0 202.3,473.1 202.6,473.4 203.0,473.5 203.3,473.4 203.7,473.2 204.0,472.9 204.4,473.1 204.7,473.3 205.0,473.0 205.1,472.8 205.4,473.0 205.8,473.2 206.1,473.3 206.5,473.0 206.8,472.8 207.2,472.9 207.5,472.9 207.9,473.1 208.2,473.1 208.6,472.9 208.9,472.7 209.3,472.7 209.6,473.0 210.0,473.2 210.3,472.9 210.7,472.7 211.0,472.7 211.4,472.8 211.7,473.1 212.1,473.3 212.4,473.0 212.8,472.8 213.1,473.2 213.5,473.3 213.8,473.1 214.2,473.0 214.5,473.0 214.9,472.9 215.2,472.7 215.6,472.6 215.9,472.6 216.3,472.9 216.6,473.0 217.0,473.2 217.3,473.3 217.7,473.2 218.0,473.1 218.4,473.1 218.7,473.0 219.1,473.0 219.4,472.6 219.8,472.2 220.1,472.2 220.5,472.3 220.8,472.5 221.2,472.6 221.5,472.8 221.9,472.7 222.2,472.4 222.6,472.5 222.9,472.8 223.3,473.0 223.6,473.0 224.0,473.0 224.3,473.1 224.7,472.5 225.0,472.1 225.0,472.2 225.4,472.3 225.7,472.6 226.1,472.4 226.4,472.2 226.8,472.5 227.1,472.7 227.5,472.5 227.8,472.3 228.2,472.2 228.5,472.1 228.9,472.0 229.2,472.1 229.6,472.2 229.9,472.5 230.3,472.8 230.6,472.8 231.0,472.7 231.3,472.8 231.7,472.6 232.0,472.4 232.4,472.5 232.7,472.6 233.1,472.5 233.4,472.4 233.8,472.3 234.1,472.4 234.5,472.6 234.8,472.4 235.2,472.3 235.5,472.3 235.9,472.1 236.2,472.1 236.6,472.5 236.9,472.7 237.3,472.6 237.6,472.4 238.0,472.3 238.3,472.2 238.7,472.2 239.0,472.0 239.4,471.9 239.7,472.1 240.1,472.2 240.4,472.0 240.8,472.2 241.1,472.5 241.5,472.4 241.8,472.1 242.2,472.2 242.5,472.2 242.9,471.9 243.2,472.0 243.6,472.2 243.9,472.2 244.3,472.1 244.6,472.1 245.0,472.2 245.0,472.3 245.3,472.3 245.7,472.4 246.0,472.5 246.4,472.3 246.7,472.2 247.1,472.3 247.4,472.0 247.8,471.8 248.1,472.0 248.5,472.2 248.8,472.1 249.2,471.7 249.5,471.8 249.9,472.1 250.2,472.1 250.6,471.8 250.9,471.5 251.3,471.7 251.6,471.8 252.0,471.4 252.3,471.2 252.7,471.7 253.0,471.8 253.4,471.5 253.7,471.7 254.1,472.2 254.2,472.3 254.4,471.6 254.8,471.1 255.1,471.5 255.5,472.2 255.8,472.5 256.2,472.2 256.5,471.8 256.9,471.4 257.2,471.0 257.6,471.0 257.9,471.0 258.3,471.2 258.6,471.5 259.0,471.2 259.3,470.7 259.7,471.0 260.0,471.5 260.4,471.7 260.7,471.5 261.1,471.0 261.4,471.0 261.8,470.8 262.1,470.6 262.5,470.4 262.8,470.1 263.2,470.2 263.4,470.6 263.5,470.7 263.9,470.8 264.2,470.9 264.6,470.8 264.9,470.6 265.3,470.2 265.6,470.1 266.0,470.2 266.3,470.2 266.7,470.3 267.0,470.5 267.4,470.6 267.7,470.1 268.1,469.9 268.4,470.3 268.8,470.7 269.1,470.5 269.5,470.1 269.8,469.8 270.2,469.6 270.5,469.5 270.9,469.5 271.2,469.3 271.6,469.5 271.9,469.9 272.3,470.1 272.5,469.7 272.6,469.6 273.0,470.0 273.3,469.9 273.7,469.6 274.0,469.7 274.4,469.7 274.7,469.6 275.1,469.6 275.4,469.4 275.8,469.0 276.1,468.6 276.5,468.6 276.8,468.8 277.2,468.9 277.5,468.6 277.9,468.3 278.2,468.3 278.6,468.6 278.9,468.8 279.3,468.5 279.6,468.2 280.0,468.4 280.3,468.9 280.7,468.8 281.0,468.3 281.4,468.1 281.7,467.9 281.7,468.3 282.1,468.6 282.4,468.0 282.8,467.3 283.1,467.4 283.5,468.0 283.8,468.0 284.2,467.8 284.5,467.6 284.9,467.5 285.2,467.3 285.6,467.2 285.9,467.5 286.3,467.6 286.6,466.8 287.0,466.3 287.3,466.3 287.7,466.3 288.0,466.5 288.4,466.6 288.7,466.6 289.1,466.2 289.1,465.9 289.4,465.8 289.8,465.7 290.1,465.8 290.5,465.8 290.8,465.8 291.2,465.8 291.5,465.6 291.9,465.7 292.0,466.0 292.2,465.3 292.6,464.2 292.9,463.9 293.3,464.1 293.6,464.0 294.0,463.7 294.3,463.3 294.6,462.9 294.7,462.8 295.0,462.8 295.4,462.9 295.7,462.3 296.1,461.4 296.4,461.2 296.6,461.4 296.8,461.3 297.1,461.0 297.5,460.2 297.8,459.3 298.2,458.6 298.3,458.3 298.5,458.0 298.9,457.6 299.2,456.9 299.6,455.9 299.9,454.8 300.3,453.7 300.6,452.9 301.0,452.2 301.0,451.9 301.3,451.0 301.7,450.3 302.0,449.5 302.4,448.5 302.7,447.3 303.1,446.0 303.3,444.8 303.4,444.1 303.8,442.3 304.1,440.8 304.5,439.5 304.6,439.2 304.8,438.3 305.2,436.4 305.5,434.4 305.9,432.8 306.2,431.2 306.5,429.5 306.6,429.4 306.9,427.8 307.3,425.7 307.6,423.7 308.0,421.9 308.3,419.3 308.5,417.3 308.7,415.9 309.0,412.5 309.4,408.5 309.7,404.7 309.7,404.8 310.1,402.1 310.4,399.0 310.6,397.1 310.8,395.9 311.1,390.9 311.4,386.1 311.5,385.3 311.8,380.0 312.2,374.5 312.5,369.0 312.9,363.6 312.9,362.9 313.2,358.2 313.6,352.5 313.9,346.4 314.3,340.7 314.3,340.2 314.6,334.8 315.0,328.5 315.1,325.9 315.3,322.9 315.7,318.5 315.9,315.6 316.0,314.2 316.4,308.7 316.6,305.8 316.7,305.4 317.1,302.4 317.4,299.4 317.8,298.2 317.8,298.5 318.1,299.1 318.5,301.2 318.8,304.2 319.0,305.9 319.2,307.3 319.5,311.8 319.7,314.7 319.9,317.0 320.2,324.3 320.3,326.7 320.6,331.4 320.9,338.1 321.0,340.1 321.3,345.9 321.5,351.5 321.6,353.6 322.0,360.4 322.1,363.4 322.3,367.4 322.6,374.0 322.7,375.3 323.0,382.6 323.2,386.0 323.4,388.3 323.7,392.9 324.0,397.7 324.1,398.7 324.4,411.6 324.6,417.9 324.8,420.4 325.1,425.5 325.5,429.9 325.5,430.5 325.8,432.5 326.2,434.5 326.2,434.9 326.5,437.1 326.9,439.6 327.2,441.5 327.4,442.5 327.6,443.5 327.9,445.7 328.3,447.7 328.6,449.6 328.9,450.5 329.0,450.1 329.3,451.3 329.7,452.5 330.0,453.3 330.4,453.9 330.7,454.4 331.1,454.5 331.2,454.1 331.4,454.1 331.8,454.5 332.1,454.8 332.5,454.9 332.8,455.0 333.2,455.5 333.5,455.9 333.9,455.7 334.2,455.5 334.3,455.4 334.6,455.7 334.9,455.9 335.3,456.2 335.6,456.4 336.0,456.1 336.3,456.0 336.7,456.8 337.0,457.2 337.3,456.4 337.4,456.2 337.7,456.8 338.1,457.0 338.4,456.8 338.8,457.0 339.1,456.9 339.2,456.8 339.5,456.4 339.8,455.7 340.2,455.3 340.4,455.0 340.5,454.8 340.9,454.5 341.2,454.0 341.6,453.8 341.9,453.8 341.9,453.5 342.3,452.8 342.6,452.4 343.0,452.1 343.3,452.0 343.7,452.3 343.8,452.4 344.0,452.3 344.4,452.0 344.7,452.0 345.1,452.5 345.4,453.1 345.8,453.5 345.8,453.0 346.1,453.2 346.5,454.1 346.8,455.1 347.2,455.7 347.5,456.4 347.7,457.3 347.9,457.8 348.2,459.0 348.6,460.3 348.9,461.6 349.2,463.0 349.3,463.4 349.6,464.0 350.0,464.5 350.3,465.4 350.7,466.3 351.0,467.1 351.1,467.2 351.4,467.2 351.7,467.5 352.1,468.0 352.4,468.3 352.8,468.3 353.1,468.4 353.5,468.7 353.8,469.2 354.2,469.5 354.5,469.7 354.9,470.0 355.0,470.0 355.2,469.9 355.6,470.0 355.9,470.0 356.3,469.9 356.6,470.1 357.0,470.4 357.3,470.4 357.7,470.5 358.0,470.4 358.4,470.6 358.7,471.0 359.1,471.1 359.4,470.8 359.5,470.4 359.8,470.3 360.1,470.6 360.5,470.8 360.8,470.8 361.2,471.0 361.5,470.9 361.9,470.5 362.2,470.7 362.6,471.0 362.9,471.0 363.3,471.2 363.6,471.1 364.0,470.4 364.3,470.3 364.7,470.6 364.9,470.8 365.0,471.2 365.4,471.3 365.7,471.2 366.1,471.4 366.4,471.3 366.8,470.9 367.1,470.9 367.5,471.5 367.8,471.8 368.2,471.8 368.5,471.7 368.9,471.2 369.2,471.2 369.6,471.5 369.9,471.8 370.3,472.1 370.6,471.9 371.0,471.4 371.3,471.4 371.7,471.9 372.0,472.0 372.4,471.8 372.7,471.6 373.1,471.6 373.4,471.6 373.8,471.8 374.1,472.0 374.5,471.7 374.8,472.1 374.8,472.7 375.2,472.4 375.5,471.9 375.9,471.8 376.2,472.0 376.6,472.2 376.9,472.3 377.3,472.5 377.6,472.7 378.0,472.7 378.3,472.2 378.7,472.0 379.0,472.2 379.4,472.2 379.7,472.1 380.1,472.0 380.4,472.3 380.8,472.8 381.1,472.6 381.5,472.6 381.8,472.9 382.2,472.6 382.5,472.2 382.9,472.4 383.2,472.9 383.6,473.1 383.9,472.9 384.3,472.4 384.6,472.2 384.7,472.1 385.0,471.8 385.3,471.7 385.7,471.9 386.0,472.3 386.4,472.1 386.7,472.0 387.1,472.5 387.4,472.6 387.8,472.7 388.1,472.9 388.5,472.9 388.8,472.8 389.2,472.3 389.5,472.0 389.9,472.0 390.2,472.3 390.6,472.3 390.9,472.0 391.3,472.2 391.6,472.5 392.0,472.4 392.3,472.1 392.7,472.0 393.0,471.9 393.4,471.6 393.7,471.6 394.1,471.8 394.4,471.8 394.6,472.0 394.8,471.9 395.1,471.5 395.5,471.4 395.8,471.7 396.2,472.1 396.5,472.4 396.9,472.1 397.2,471.7 397.6,471.6 397.9,471.8 398.3,472.1 398.6,472.3 399.0,472.3 399.3,472.5 399.7,472.5 400.0,472.4 400.4,471.9 400.7,471.9 401.1,472.5 401.4,472.2 401.8,471.5 402.1,471.1 402.5,471.3 402.8,472.0 403.2,472.1 403.5,471.7 403.9,471.6 404.2,471.9 404.5,471.9 404.6,471.6 404.9,471.2 405.3,471.0 405.6,471.0 406.0,471.2 406.3,471.8 406.7,472.1 407.0,471.9 407.4,471.5 407.7,471.5 408.1,471.5 408.4,471.1 408.8,470.8 409.1,470.8 409.5,471.0 409.8,471.2 410.2,471.2 410.5,471.0 410.9,470.9 411.0,471.0 411.2,471.2 411.6,471.1 411.9,470.8 412.3,470.6 412.6,470.5 413.0,470.5 413.3,470.7 413.7,470.6 414.0,470.3 414.4,470.1 414.7,470.2 415.1,470.4 415.4,470.4 415.8,470.3 416.1,470.3 416.5,470.5 416.8,470.5 417.2,470.0 417.3,469.8 417.5,469.9 417.9,469.8 418.2,470.0 418.6,470.2 418.9,469.9 419.3,469.8 419.6,470.1 420.0,470.4 420.3,470.1 420.7,470.0 421.0,470.2 421.0,470.2 421.4,470.1 421.7,470.3 422.1,470.4 422.4,470.3 422.8,470.5 423.1,470.5 423.5,470.4 423.8,470.5 424.2,470.6 424.5,470.7 424.9,471.1 425.0,471.2 425.2,471.2 425.6,471.1 425.9,471.0 426.3,471.0 426.6,471.0 427.0,471.1 427.3,471.6 427.7,471.9 428.0,472.0 428.4,471.7 428.7,471.2 429.1,471.3 429.4,471.5 429.8,472.0 430.1,472.4 430.5,471.8 430.8,471.3 431.2,471.7 431.5,472.1 431.9,472.6 432.0,472.7 432.2,472.1 432.6,471.6 432.9,471.5 433.3,471.4 433.6,471.5 434.0,471.9 434.3,472.1 434.7,472.0 435.0,472.5 435.4,472.8 435.7,472.4 436.1,472.4 436.4,472.6 436.8,472.5 437.1,472.6 437.5,472.4 437.8,472.4 438.2,472.6 438.5,472.8 438.9,472.7 439.2,472.4 439.6,472.6 439.8,473.1 439.9,473.1 440.3,472.9 440.6,472.8 441.0,472.9 441.3,472.9 441.7,472.8 442.0,473.2 442.4,473.5 442.7,473.5 443.1,473.5 443.4,473.4 443.8,473.2 444.1,473.1 444.5,473.0 444.8,473.2 445.2,473.5 445.5,473.5 445.9,473.1 446.2,473.0 446.6,473.1 446.9,473.0 447.3,473.3 447.6,473.5 448.0,473.3 448.3,473.5 448.7,473.8 449.0,473.8 449.4,473.4 449.7,473.3 449.7,473.2 450.1,473.4 450.4,473.9 450.8,474.2 451.1,474.4 451.5,474.1 451.8,473.6 452.2,473.7 452.5,474.1 452.9,474.2 453.2,473.7 453.6,473.4 453.9,473.4 454.3,473.6 454.6,474.0 455.0,474.4 455.3,474.5 455.7,474.3 456.0,474.2 456.4,474.2 456.7,474.2 457.1,474.5 457.4,474.6 457.8,474.3 458.1,474.5 458.5,474.8 458.8,474.8 459.2,475.2 459.5,475.4 459.6,474.8 459.9,474.2 460.2,474.1 460.6,474.3 460.9,474.6 461.3,474.3 461.6,474.1 462.0,474.0 462.3,474.4 462.7,475.0 463.0,474.8 463.4,474.3 463.7,474.5 464.1,474.7 464.4,474.6 464.8,474.6 465.1,474.6 465.5,474.6 465.8,474.6 466.2,474.4 466.5,474.5 466.9,474.7 467.2,474.6 467.6,474.6 467.9,475.0 468.3,475.2 468.6,475.1 469.0,474.9 469.3,474.6 469.5,474.8 469.7,475.3 470.0,475.3 470.4,474.9 470.7,474.7 471.1,474.9 471.4,475.1 471.8,475.2 472.1,475.2 472.5,475.1 472.8,475.3 473.2,475.8 473.5,475.6 473.9,475.3 474.2,475.4 474.6,475.7 474.9,476.0 475.3,475.9 475.6,475.7 476.0,475.8 476.3,476.1 476.7,476.1 477.0,475.6 477.4,475.3 477.7,475.3 478.1,475.1 478.4,475.5 478.8,475.9 479.1,475.7 479.3,475.7 479.5,476.2 479.8,476.0 480.2,475.3 480.5,475.0 480.9,475.4 481.2,475.8 481.6,475.9 481.9,475.9 482.3,476.0 482.6,475.9 483.0,475.9 483.3,476.1 483.7,476.0 484.0,475.9 484.4,476.1 484.7,476.2 485.1,476.0 485.4,475.8 485.8,476.2 486.1,476.4 486.5,475.9 486.8,476.0 487.2,476.1 487.5,475.7 487.9,475.6 488.2,475.7 488.6,475.7 488.9,476.0 489.3,476.3 489.5,476.3" fill="none" stroke="#ff0000" stroke-width="2.70" stroke-linejoin="round" stroke-linecap="butt" clip-path="url(#cb)"/>
<rect x="310.8" y="42.00" width="14.0" height="73.7" fill="none" stroke="#000" stroke-width="2.0"/>
<rect x="310.8" y="289.50" width="14.0" height="73.7" fill="none" stroke="#000" stroke-width="2.0"/>
<line x1="29.00" y1="26.00" x2="29.00" y2="230.00" stroke="#000" stroke-width="1.50" stroke-linecap="square"/>
<line x1="489.50" y1="26.00" x2="489.50" y2="230.00" stroke="#000" stroke-width="1.50" stroke-linecap="square"/>
<line x1="29.00" y1="26.00" x2="489.50" y2="26.00" stroke="#000" stroke-width="1.50" stroke-linecap="square"/>
<line x1="29.00" y1="230.00" x2="489.50" y2="230.00" stroke="#000" stroke-width="1.50" stroke-linecap="square"/>
<line x1="29.00" y1="230.00" x2="29.00" y2="224.40" stroke="#000" stroke-width="1.50"/>
<line x1="29.00" y1="26.00" x2="29.00" y2="31.60" stroke="#000" stroke-width="1.50"/>
<line x1="83.18" y1="230.00" x2="83.18" y2="224.40" stroke="#000" stroke-width="1.50"/>
<line x1="83.18" y1="26.00" x2="83.18" y2="31.60" stroke="#000" stroke-width="1.50"/>
<line x1="137.35" y1="230.00" x2="137.35" y2="224.40" stroke="#000" stroke-width="1.50"/>
<line x1="137.35" y1="26.00" x2="137.35" y2="31.60" stroke="#000" stroke-width="1.50"/>
<line x1="191.53" y1="230.00" x2="191.53" y2="224.40" stroke="#000" stroke-width="1.50"/>
<line x1="191.53" y1="26.00" x2="191.53" y2="31.60" stroke="#000" stroke-width="1.50"/>
<line x1="245.71" y1="230.00" x2="245.71" y2="224.40" stroke="#000" stroke-width="1.50"/>
<line x1="245.71" y1="26.00" x2="245.71" y2="31.60" stroke="#000" stroke-width="1.50"/>
<line x1="299.88" y1="230.00" x2="299.88" y2="224.40" stroke="#000" stroke-width="1.50"/>
<line x1="299.88" y1="26.00" x2="299.88" y2="31.60" stroke="#000" stroke-width="1.50"/>
<line x1="354.06" y1="230.00" x2="354.06" y2="224.40" stroke="#000" stroke-width="1.50"/>
<line x1="354.06" y1="26.00" x2="354.06" y2="31.60" stroke="#000" stroke-width="1.50"/>
<line x1="408.24" y1="230.00" x2="408.24" y2="224.40" stroke="#000" stroke-width="1.50"/>
<line x1="408.24" y1="26.00" x2="408.24" y2="31.60" stroke="#000" stroke-width="1.50"/>
<line x1="462.41" y1="230.00" x2="462.41" y2="224.40" stroke="#000" stroke-width="1.50"/>
<line x1="462.41" y1="26.00" x2="462.41" y2="31.60" stroke="#000" stroke-width="1.50"/>
<line x1="29.00" y1="66.80" x2="34.60" y2="66.80" stroke="#000" stroke-width="1.50"/>
<line x1="489.50" y1="66.80" x2="483.90" y2="66.80" stroke="#000" stroke-width="1.50"/>
<line x1="29.00" y1="107.60" x2="34.60" y2="107.60" stroke="#000" stroke-width="1.50"/>
<line x1="489.50" y1="107.60" x2="483.90" y2="107.60" stroke="#000" stroke-width="1.50"/>
<line x1="29.00" y1="148.40" x2="34.60" y2="148.40" stroke="#000" stroke-width="1.50"/>
<line x1="489.50" y1="148.40" x2="483.90" y2="148.40" stroke="#000" stroke-width="1.50"/>
<line x1="29.00" y1="189.20" x2="34.60" y2="189.20" stroke="#000" stroke-width="1.50"/>
<line x1="489.50" y1="189.20" x2="483.90" y2="189.20" stroke="#000" stroke-width="1.50"/>
<line x1="29.00" y1="273.50" x2="29.00" y2="477.50" stroke="#000" stroke-width="1.50" stroke-linecap="square"/>
<line x1="489.50" y1="273.50" x2="489.50" y2="477.50" stroke="#000" stroke-width="1.50" stroke-linecap="square"/>
<line x1="29.00" y1="273.50" x2="489.50" y2="273.50" stroke="#000" stroke-width="1.50" stroke-linecap="square"/>
<line x1="29.00" y1="477.50" x2="489.50" y2="477.50" stroke="#000" stroke-width="1.50" stroke-linecap="square"/>
<line x1="29.00" y1="477.50" x2="29.00" y2="471.90" stroke="#000" stroke-width="1.50"/>
<line x1="29.00" y1="273.50" x2="29.00" y2="279.10" stroke="#000" stroke-width="1.50"/>
<line x1="83.18" y1="477.50" x2="83.18" y2="471.90" stroke="#000" stroke-width="1.50"/>
<line x1="83.18" y1="273.50" x2="83.18" y2="279.10" stroke="#000" stroke-width="1.50"/>
<line x1="137.35" y1="477.50" x2="137.35" y2="471.90" stroke="#000" stroke-width="1.50"/>
<line x1="137.35" y1="273.50" x2="137.35" y2="279.10" stroke="#000" stroke-width="1.50"/>
<line x1="191.53" y1="477.50" x2="191.53" y2="471.90" stroke="#000" stroke-width="1.50"/>
<line x1="191.53" y1="273.50" x2="191.53" y2="279.10" stroke="#000" stroke-width="1.50"/>
<line x1="245.71" y1="477.50" x2="245.71" y2="471.90" stroke="#000" stroke-width="1.50"/>
<line x1="245.71" y1="273.50" x2="245.71" y2="279.10" stroke="#000" stroke-width="1.50"/>
<line x1="299.88" y1="477.50" x2="299.88" y2="471.90" stroke="#000" stroke-width="1.50"/>
<line x1="299.88" y1="273.50" x2="299.88" y2="279.10" stroke="#000" stroke-width="1.50"/>
<line x1="354.06" y1="477.50" x2="354.06" y2="471.90" stroke="#000" stroke-width="1.50"/>
<line x1="354.06" y1="273.50" x2="354.06" y2="279.10" stroke="#000" stroke-width="1.50"/>
<line x1="408.24" y1="477.50" x2="408.24" y2="471.90" stroke="#000" stroke-width="1.50"/>
<line x1="408.24" y1="273.50" x2="408.24" y2="279.10" stroke="#000" stroke-width="1.50"/>
<line x1="462.41" y1="477.50" x2="462.41" y2="471.90" stroke="#000" stroke-width="1.50"/>
<line x1="462.41" y1="273.50" x2="462.41" y2="279.10" stroke="#000" stroke-width="1.50"/>
<line x1="29.00" y1="314.30" x2="34.60" y2="314.30" stroke="#000" stroke-width="1.50"/>
<line x1="489.50" y1="314.30" x2="483.90" y2="314.30" stroke="#000" stroke-width="1.50"/>
<line x1="29.00" y1="355.10" x2="34.60" y2="355.10" stroke="#000" stroke-width="1.50"/>
<line x1="489.50" y1="355.10" x2="483.90" y2="355.10" stroke="#000" stroke-width="1.50"/>
<line x1="29.00" y1="395.90" x2="34.60" y2="395.90" stroke="#000" stroke-width="1.50"/>
<line x1="489.50" y1="395.90" x2="483.90" y2="395.90" stroke="#000" stroke-width="1.50"/>
<line x1="29.00" y1="436.70" x2="34.60" y2="436.70" stroke="#000" stroke-width="1.50"/>
<line x1="489.50" y1="436.70" x2="483.90" y2="436.70" stroke="#000" stroke-width="1.50"/>
<rect x="132.00" y="38.50" width="148.20" height="111.00" fill="#fff"/>
<polyline points="147.1,149.5 152.2,136.0 155.7,124.5 161.4,118.7 167.2,109.5 174.4,93.7 178.4,91.7 185.1,77.6 191.8,68.9 198.6,63.5 203.9,58.8 208.6,52.8 214.7,53.4 220.7,51.4 227.7,60.9 233.2,66.4 238.7,75.3 245.3,83.0 250.9,97.3 256.4,110.5 263.0,120.4 267.4,132.6 272.3,149.5" fill="none" stroke="#0000ff" stroke-width="2.50" stroke-linejoin="round" stroke-linecap="butt" clip-path="url(#cia)"/>
<polyline points="141.9,149.5 148.8,127.9 155.1,121.6 160.3,106.1 164.3,102.6 171.7,89.7 178.4,78.9 184.5,69.5 190.5,60.8 197.2,56.1 203.9,54.8 210.6,54.8 216.0,56.1 222.0,60.5 228.8,64.2 234.3,70.9 237.6,81.9 244.2,95.1 249.7,106.1 255.3,121.5 260.8,128.1 264.1,137.0 268.8,149.5" fill="none" stroke="#00ffff" stroke-width="2.50" stroke-linejoin="round" stroke-linecap="butt" clip-path="url(#cia)"/>
<polyline points="144.8,149.5 152.2,132.5 159.7,119.9 166.0,103.8 173.1,83.6 179.1,87.7 185.1,72.2 191.2,66.8 197.2,62.8 203.3,52.1 208.6,59.5 215.3,54.8 220.0,58.7 226.6,64.2 233.2,67.5 238.7,90.7 244.2,96.2 250.9,110.5 256.4,123.7 264.1,141.4 267.0,149.5" fill="none" stroke="#ff9900" stroke-width="2.50" stroke-linejoin="round" stroke-linecap="butt" clip-path="url(#cia)"/>
<polyline points="149.4,149.5 155.7,138.3 161.4,132.5 166.6,115.3 172.0,105.0 178.4,95.0 185.1,81.6 191.2,74.2 197.2,65.5 202.6,65.5 209.3,68.9 214.7,67.5 220.0,69.5 226.6,74.2 233.2,79.7 238.7,90.7 244.2,96.2 249.7,108.3 255.3,121.5 260.8,133.7 268.0,149.5" fill="none" stroke="#ff0000" stroke-width="2.50" stroke-linejoin="round" stroke-linecap="butt" clip-path="url(#cia)"/>
<line x1="132.00" y1="38.50" x2="132.00" y2="149.50" stroke="#000" stroke-width="1.50" stroke-linecap="square"/>
<line x1="280.20" y1="38.50" x2="280.20" y2="149.50" stroke="#000" stroke-width="1.50" stroke-linecap="square"/>
<line x1="132.00" y1="38.50" x2="280.20" y2="38.50" stroke="#000" stroke-width="1.50" stroke-linecap="square"/>
<line x1="132.00" y1="149.50" x2="280.20" y2="149.50" stroke="#000" stroke-width="1.50" stroke-linecap="square"/>
<line x1="132.00" y1="149.50" x2="132.00" y2="144.00" stroke="#000" stroke-width="1.50"/>
<line x1="197.87" y1="149.50" x2="197.87" y2="144.00" stroke="#000" stroke-width="1.50"/>
<line x1="263.73" y1="149.50" x2="263.73" y2="144.00" stroke="#000" stroke-width="1.50"/>
<rect x="132.00" y="286.00" width="148.20" height="111.00" fill="#fff"/>
<polyline points="149.9,396.9 157.6,379.7 165.3,359.8 175.2,342.2 184.0,327.9 192.8,309.2 202.7,294.9 208.2,290.5 213.9,293.8 219.7,291.5 225.4,294.9 231.1,303.0 236.9,311.0 242.6,322.5 249.5,337.5 255.3,351.3 261.0,367.4 265.6,381.1 270.6,396.9" fill="none" stroke="#0000ff" stroke-width="2.50" stroke-linejoin="round" stroke-linecap="butt" clip-path="url(#cib)"/>
<polyline points="146.6,396.9 159.8,363.1 167.5,354.3 176.3,336.7 182.9,325.7 190.6,309.2 196.7,304.1 203.6,300.7 211.6,297.2 219.7,298.4 226.6,307.6 233.4,320.2 239.2,328.3 244.9,337.5 250.7,353.6 256.4,374.3 262.2,383.4 267.5,396.9" fill="none" stroke="#00ffff" stroke-width="2.50" stroke-linejoin="round" stroke-linecap="butt" clip-path="url(#cib)"/>
<polyline points="151.0,396.9 159.8,381.9 168.6,362.0 177.4,344.4 185.1,327.9 189.5,311.4 196.1,314.7 201.6,302.6 207.0,300.7 212.8,296.6 218.5,299.5 223.1,306.4 228.9,309.9 234.6,314.5 240.3,321.4 246.1,332.9 251.8,346.7 257.6,362.8 263.3,378.9 268.5,396.9" fill="none" stroke="#ff9900" stroke-width="2.50" stroke-linejoin="round" stroke-linecap="butt" clip-path="url(#cib)"/>
<polyline points="153.2,396.9 159.8,380.8 165.3,366.4 171.9,363.1 177.4,344.4 184.0,332.3 189.5,321.3 196.1,316.9 206.0,313.6 210.0,307.0 212.8,301.8 218.5,300.7 225.4,311.0 231.1,320.2 236.9,326.0 242.6,335.2 249.5,355.9 255.3,374.3 261.0,378.9 265.6,390.3 269.5,396.9" fill="none" stroke="#ff0000" stroke-width="2.50" stroke-linejoin="round" stroke-linecap="butt" clip-path="url(#cib)"/>
<line x1="132.00" y1="286.00" x2="132.00" y2="397.00" stroke="#000" stroke-width="1.50" stroke-linecap="square"/>
<line x1="280.20" y1="286.00" x2="280.20" y2="397.00" stroke="#000" stroke-width="1.50" stroke-linecap="square"/>
<line x1="132.00" y1="286.00" x2="280.20" y2="286.00" stroke="#000" stroke-width="1.50" stroke-linecap="square"/>
<line x1="132.00" y1="397.00" x2="280.20" y2="397.00" stroke="#000" stroke-width="1.50" stroke-linecap="square"/>
<line x1="132.00" y1="397.00" x2="132.00" y2="391.50" stroke="#000" stroke-width="1.50"/>
<line x1="197.87" y1="397.00" x2="197.87" y2="391.50" stroke="#000" stroke-width="1.50"/>
<line x1="263.73" y1="397.00" x2="263.73" y2="391.50" stroke="#000" stroke-width="1.50"/>
<line x1="40.10" y1="43.70" x2="69.10" y2="43.70" stroke="#0000ff" stroke-width="2.60"/>
<line x1="40.10" y1="63.60" x2="69.10" y2="63.60" stroke="#00ffff" stroke-width="2.60"/>
<line x1="40.10" y1="83.50" x2="69.10" y2="83.50" stroke="#ff9900" stroke-width="2.60"/>
<line x1="40.10" y1="103.40" x2="69.10" y2="103.40" stroke="#ff0000" stroke-width="2.60"/>
<line x1="507.00" y1="26.00" x2="507.00" y2="477.50" stroke="#000" stroke-width="1.50" stroke-linecap="square"/>
<line x1="648.80" y1="26.00" x2="648.80" y2="477.50" stroke="#000" stroke-width="1.50" stroke-linecap="square"/>
<line x1="507.00" y1="26.00" x2="648.80" y2="26.00" stroke="#000" stroke-width="1.50" stroke-linecap="square"/>
<line x1="507.00" y1="477.50" x2="648.80" y2="477.50" stroke="#000" stroke-width="1.50" stroke-linecap="square"/>
<line x1="511.80" y1="477.50" x2="511.80" y2="471.90" stroke="#000" stroke-width="1.50"/>
<line x1="511.80" y1="26.00" x2="511.80" y2="31.60" stroke="#000" stroke-width="1.50"/>
<line x1="558.00" y1="477.50" x2="558.00" y2="471.90" stroke="#000" stroke-width="1.50"/>
<line x1="558.00" y1="26.00" x2="558.00" y2="31.60" stroke="#000" stroke-width="1.50"/>
<line x1="604.00" y1="477.50" x2="604.00" y2="471.90" stroke="#000" stroke-width="1.50"/>
<line x1="604.00" y1="26.00" x2="604.00" y2="31.60" stroke="#000" stroke-width="1.50"/>
<line x1="648.80" y1="26.00" x2="643.20" y2="26.00" stroke="#000" stroke-width="1.50"/>
<line x1="648.80" y1="116.30" x2="643.20" y2="116.30" stroke="#000" stroke-width="1.50"/>
<line x1="648.80" y1="206.60" x2="643.20" y2="206.60" stroke="#000" stroke-width="1.50"/>
<line x1="648.80" y1="296.90" x2="643.20" y2="296.90" stroke="#000" stroke-width="1.50"/>
<line x1="648.80" y1="387.20" x2="643.20" y2="387.20" stroke="#000" stroke-width="1.50"/>
<line x1="648.80" y1="477.50" x2="643.20" y2="477.50" stroke="#000" stroke-width="1.50"/>
<polyline points="531.5,25.0 531.5,25.7 531.5,26.4 531.5,27.1 531.5,27.8 531.5,28.4 531.5,29.1 531.5,29.8 531.5,30.5 531.5,31.2 531.5,31.9 531.5,32.6 531.5,33.3 531.5,34.0 531.5,34.7 531.5,35.3 531.5,36.0 531.5,36.7 531.5,37.4 531.5,38.1 531.6,38.8 531.6,39.5 531.6,40.2 531.6,40.9 531.6,41.6 531.6,42.2 531.6,42.9 531.6,43.6 531.7,44.3 531.7,45.0 531.7,45.7 531.7,46.4 531.7,47.1 531.7,47.8 531.7,48.5 531.8,49.1 531.8,49.8 531.8,50.5 531.8,51.2 531.8,51.9 531.9,52.6 531.9,53.3 531.9,54.0 531.9,54.7 532.0,55.4 532.0,56.0 532.0,56.7 532.0,57.4 532.1,58.1 532.1,58.8 532.1,59.5 532.1,60.2 532.2,60.9 532.2,61.6 532.2,62.2 532.3,62.9 532.3,63.6 532.3,64.3 532.4,65.0 532.4,65.7 532.4,66.4 532.5,67.1 532.5,67.8 532.5,68.4 532.6,69.1 532.6,69.8 532.7,70.5 532.7,71.2 532.7,71.9 532.8,72.6 532.8,73.3 532.9,74.0 532.9,74.6 533.0,75.3 533.0,76.0 533.1,76.7 533.1,77.4 533.2,78.1 533.2,78.8 533.3,79.5 533.3,80.1 533.4,80.8 533.4,81.5 533.5,82.2 533.5,82.9 533.6,83.6 533.6,84.3 533.7,85.0 533.8,85.6 533.8,86.3 533.9,87.0 533.9,87.7 534.0,88.4 534.1,89.1 534.1,89.8 534.2,90.5 534.3,91.1 534.3,91.8 534.4,92.5 534.5,93.2 534.5,93.9 534.6,94.6 534.7,95.3 534.7,95.9 534.8,96.6 534.9,97.3 535.0,98.0 535.0,98.7 535.1,99.4 535.2,100.1 535.3,100.7 535.4,101.4 535.4,102.1 535.5,102.8 535.6,103.5 535.7,104.2 535.8,104.8 535.9,105.5 536.0,106.2 536.1,106.9 536.1,107.6 536.2,108.3 536.3,108.9 536.4,109.6 536.5,110.3 536.6,111.0 536.7,111.7 536.8,112.4 536.9,113.0 537.0,113.7 537.1,114.4 537.2,115.1 537.3,115.8 537.4,116.4 537.5,117.1 537.6,117.8 537.7,118.5 537.9,119.2 538.0,119.9 538.1,120.5 538.2,121.2 538.3,121.9 538.4,122.6 538.5,123.3 538.7,123.9 538.8,124.6 538.9,125.3 539.0,126.0 539.1,126.7 539.3,127.3 539.4,128.0 539.5,128.7 539.6,129.4 539.8,130.0 539.9,130.7 540.0,131.4 540.2,132.1 540.3,132.7 540.5,133.4 540.6,134.1 540.8,134.8 541.0,135.4 541.1,136.1 541.3,136.8 541.5,137.4 541.7,138.1 541.9,138.8 542.1,139.4 542.3,140.1 542.5,140.7 542.8,141.4 543.0,142.0 543.3,142.7 543.5,143.3 543.8,144.0 544.1,144.6 544.3,145.2 544.6,145.9 544.9,146.5 545.2,147.1 545.5,147.8 545.8,148.4 546.0,149.0 546.3,149.7 546.6,150.3 546.9,150.9 547.2,151.5 547.5,152.1 547.8,152.8 548.1,153.4 548.4,154.0 548.7,154.6 549.0,155.2 549.3,155.8 549.7,156.4 550.0,157.0 550.3,157.6 550.6,158.2 550.9,158.9 551.2,159.5 551.5,160.1 551.8,160.7 552.1,161.3 552.4,161.9 552.7,162.5 553.0,163.1 553.3,163.7 553.6,164.3 554.0,165.0 554.3,165.6 554.6,166.2 554.9,166.8 555.2,167.4 555.5,168.1 555.8,168.7 556.1,169.3 556.4,170.0 556.7,170.6 557.0,171.2 557.3,171.9 557.6,172.5 557.9,173.2 558.2,173.8 558.5,174.5 558.8,175.1 559.0,175.8 559.3,176.4 559.5,177.1 559.7,177.7 559.9,178.4 560.1,179.1 560.3,179.7 560.4,180.4 560.5,181.1 560.6,181.7 560.7,182.4 560.8,183.1 560.8,183.8 560.8,184.5 560.8,185.1 560.7,185.8 560.6,186.5 560.5,187.2 560.4,187.9 560.2,188.5 560.1,189.2 559.9,189.9 559.6,190.5 559.4,191.2 559.1,191.8 558.8,192.4 558.5,193.0 558.1,193.7 557.7,194.2 557.4,194.8 557.0,195.4 556.5,195.9 556.1,196.5 555.6,197.0 555.2,197.5 554.7,197.9 554.2,198.4 553.7,198.8 553.1,199.2 552.6,199.6 552.0,200.0 551.5,200.4 550.9,200.8 550.3,201.1 549.7,201.5 549.2,201.9 548.6,202.2 548.0,202.6 547.4,202.9 546.8,203.3 546.2,203.6 545.6,204.0 545.0,204.3 544.4,204.7 543.8,205.1 543.2,205.4 542.6,205.8 542.0,206.3 541.5,206.7 540.9,207.1 540.4,207.6 539.9,208.0 539.3,208.5 538.8,209.0 538.3,209.5 537.8,210.0 537.4,210.6 536.9,211.1 536.5,211.7 536.1,212.2 535.6,212.8 535.3,213.4 534.9,214.0 534.5,214.6 534.2,215.2 533.9,215.8 533.6,216.4 533.3,217.0 533.0,217.7 532.8,218.3 532.6,218.9 532.4,219.6 532.2,220.2 532.1,220.9 531.9,221.6 531.8,222.2 531.7,222.9 531.6,223.6 531.5,224.2 531.4,224.9 531.3,225.6 531.3,226.3 531.2,227.0 531.2,227.6 531.1,228.3 531.1,229.0 531.1,229.7 531.0,230.4 531.0,231.1 531.0,231.8 530.9,232.5 530.9,233.1 530.9,233.8 530.8,234.5 530.8,235.2 530.8,235.9 530.7,236.6 530.7,237.3 530.7,238.0 530.7,238.7 530.7,239.4 530.6,240.1 530.6,240.8 530.6,241.5 530.6,242.1 530.6,242.8 530.6,243.5 530.5,244.2 530.5,244.9 530.5,245.6 530.5,246.3 530.5,247.0 530.5,247.7 530.5,248.4 530.5,249.1 530.5,249.8 530.5,250.5 530.5,251.2 530.5,251.9 530.5,252.6 530.5,253.2 530.6,253.9 530.6,254.6 530.6,255.3 530.6,256.0 530.6,256.7 530.7,257.4 530.7,258.1 530.7,258.8 530.7,259.5 530.8,260.2 530.8,260.9 530.8,261.6 530.9,262.2 530.9,262.9 530.9,263.6 531.0,264.3 531.0,265.0 531.1,265.7 531.1,266.4 531.2,267.1 531.2,267.7 531.3,268.4 531.4,269.1 531.4,269.8 531.5,270.5 531.5,271.2 531.6,271.9 531.7,272.5 531.7,273.2 531.8,273.9 531.9,274.6 532.0,275.3 532.0,276.0 532.1,276.6 532.2,277.3 532.3,278.0 532.4,278.7 532.4,279.4 532.5,280.1 532.6,280.7 532.7,281.4 532.8,282.1 532.9,282.8 533.0,283.5 533.1,284.1 533.2,284.8 533.3,285.5 533.4,286.2 533.5,286.9 533.6,287.5 533.7,288.2 533.8,288.9 533.9,289.6 534.0,290.3 534.1,290.9 534.2,291.6 534.3,292.3 534.4,293.0 534.5,293.6 534.7,294.3 534.8,295.0 534.9,295.7 535.0,296.4 535.1,297.0 535.2,297.7 535.4,298.4 535.5,299.1 535.6,299.7 535.7,300.4 535.8,301.1 536.0,301.8 536.1,302.5 536.2,303.1 536.3,303.8 536.5,304.5 536.6,305.2 536.7,305.8 536.8,306.5 537.0,307.2 537.1,307.9 537.2,308.6 537.4,309.2 537.5,309.9 537.6,310.6 537.7,311.3 537.9,312.0 538.0,312.6 538.1,313.3 538.3,314.0 538.4,314.7 538.5,315.3 538.7,316.0 538.8,316.7 538.9,317.4 539.1,318.1 539.2,318.8 539.3,319.4 539.5,320.1 539.6,320.8 539.7,321.5 539.9,322.2 540.0,322.8 540.1,323.5 540.3,324.2 540.4,324.9 540.5,325.6 540.7,326.3 540.8,326.9 540.9,327.6 541.1,328.3 541.2,329.0 541.3,329.7 541.5,330.3 541.6,331.0 541.8,331.7 541.9,332.4 542.1,333.1 542.2,333.7 542.4,334.4 542.5,335.1 542.7,335.8 542.8,336.4 543.0,337.1 543.2,337.8 543.4,338.4 543.5,339.1 543.7,339.8 543.9,340.4 544.1,341.1 544.3,341.7 544.5,342.4 544.7,343.0 545.0,343.7 545.2,344.3 545.4,345.0 545.7,345.6 545.9,346.2 546.2,346.9 546.4,347.5 546.7,348.1 547.0,348.7 547.3,349.4 547.6,350.0 547.9,350.6 548.2,351.2 548.5,351.8 548.9,352.4 549.2,353.0 549.5,353.6 549.9,354.2 550.2,354.7 550.6,355.3 551.0,355.9 551.3,356.5 551.7,357.1 552.1,357.7 552.4,358.2 552.8,358.8 553.2,359.4 553.6,360.0 554.0,360.5 554.4,361.1 554.7,361.7 555.1,362.3 555.5,362.9 555.9,363.4 556.3,364.0 556.7,364.6 557.1,365.2 557.4,365.7 557.8,366.3 558.2,366.9 558.6,367.5 559.0,368.1 559.3,368.6 559.7,369.2 560.1,369.8 560.5,370.4 560.9,371.0 561.2,371.5 561.6,372.1 562.0,372.7 562.4,373.2 562.8,373.8 563.2,374.4 563.6,374.9 564.0,375.5 564.4,376.0 564.8,376.6 565.3,377.1 565.7,377.6 566.1,378.2 566.6,378.7 567.0,379.2 567.5,379.7 567.9,380.2 568.4,380.7 568.9,381.2 569.4,381.7 569.9,382.2 570.4,382.7 570.9,383.1 571.4,383.6 571.9,384.1 572.4,384.5 572.9,385.0 573.4,385.4 574.0,385.9 574.5,386.3 575.1,386.7 575.6,387.1 576.2,387.6 576.7,388.0 577.3,388.4 577.8,388.8 578.4,389.2 579.0,389.6 579.5,390.0 580.1,390.4 580.7,390.8 581.2,391.2 581.8,391.5 582.4,391.9 583.0,392.3 583.6,392.7 584.2,393.0 584.7,393.4 585.3,393.7 585.9,394.1 586.5,394.4 587.1,394.8 587.7,395.1 588.3,395.5 588.9,395.8 589.5,396.2 590.1,396.5 590.7,396.8 591.3,397.1 591.9,397.5 592.5,397.8 593.1,398.1 593.7,398.4 594.3,398.7 595.0,399.1 595.6,399.4 596.2,399.7 596.8,400.0 597.4,400.3 598.0,400.6 598.7,400.9 599.3,401.2 599.9,401.5 600.5,401.8 601.1,402.1 601.8,402.4 602.4,402.6 603.0,402.9 603.7,403.2 604.3,403.5 604.9,403.8 605.5,404.1 606.2,404.3 606.8,404.6 607.4,404.9 608.1,405.2 608.7,405.5 609.3,405.7 610.0,406.0 610.6,406.3 611.2,406.5 611.9,406.8 612.5,407.0 613.2,407.3 613.8,407.6 614.5,407.8 615.1,408.1 615.7,408.3 616.4,408.6 617.0,408.8 617.7,409.0 618.3,409.3 619.0,409.5 619.6,409.7 620.3,410.0 620.9,410.2 621.6,410.4 622.2,410.6 622.9,410.8 623.6,411.0 624.2,411.2 624.9,411.4 625.5,411.6 626.2,411.8 626.8,412.0 627.5,412.2 628.2,412.4 628.8,412.6 629.5,412.8 630.2,413.0 630.8,413.2 631.5,413.4 632.1,413.7 632.8,413.9 633.4,414.1 634.1,414.4 634.7,414.6 635.4,414.9 636.0,415.2 636.7,415.5 637.3,415.8 638.0,416.2 638.6,416.5 639.2,416.9 639.8,417.3 640.5,417.7 641.0,418.2 641.4,418.6 641.7,419.0 641.7,419.5 641.5,420.0 641.1,420.4 640.6,420.8 640.0,421.3 639.5,421.7 638.9,422.0 638.3,422.4 637.7,422.7 637.0,423.0 636.4,423.3 635.8,423.6 635.1,423.9 634.5,424.1 633.8,424.4 633.2,424.6 632.5,424.8 631.9,425.0 631.2,425.2 630.5,425.4 629.9,425.6 629.2,425.7 628.5,425.9 627.8,426.0 627.1,426.2 626.5,426.3 625.8,426.4 625.1,426.6 624.4,426.7 623.7,426.8 623.0,427.0 622.4,427.1 621.7,427.2 621.0,427.3 620.3,427.4 619.6,427.6 618.9,427.7 618.2,427.8 617.6,427.9 616.9,428.0 616.2,428.2 615.5,428.3 614.8,428.4 614.1,428.5 613.5,428.6 612.8,428.7 612.1,428.8 611.4,428.9 610.7,429.1 610.0,429.2 609.4,429.3 608.7,429.4 608.0,429.5 607.3,429.6 606.6,429.7 606.0,429.8 605.3,429.9 604.6,430.0 603.9,430.1 603.2,430.2 602.5,430.3 601.9,430.4 601.2,430.5 600.5,430.6 599.8,430.7 599.1,430.8 598.5,430.9 597.8,431.0 597.1,431.1 596.4,431.2 595.7,431.3 595.0,431.4 594.4,431.5 593.7,431.6 593.0,431.7 592.3,431.8 591.6,431.9 591.0,432.0 590.3,432.1 589.6,432.2 588.9,432.3 588.2,432.4 587.6,432.5 586.9,432.6 586.2,432.7 585.5,432.8 584.8,432.9 584.2,433.0 583.5,433.1 582.8,433.2 582.1,433.3 581.4,433.4 580.8,433.5 580.1,433.6 579.4,433.7 578.7,433.8 578.0,433.9 577.4,434.0 576.7,434.1 576.0,434.2 575.3,434.3 574.6,434.4 574.0,434.5 573.3,434.6 572.6,434.7 571.9,434.8 571.2,434.9 570.6,435.0 569.9,435.1 569.2,435.2 568.5,435.3 567.8,435.4 567.2,435.6 566.5,435.7 565.8,435.8 565.1,435.9 564.4,436.0 563.8,436.1 563.1,436.2 562.4,436.4 561.7,436.5 561.0,436.6 560.4,436.7 559.7,436.8 559.0,437.0 558.3,437.1 557.7,437.2 557.0,437.3 556.3,437.5 555.6,437.6 554.9,437.7 554.3,437.9 553.6,438.0 552.9,438.1 552.2,438.3 551.5,438.4 550.9,438.5 550.2,438.7 549.5,438.8 548.8,439.0 548.1,439.1 547.5,439.2 546.8,439.4 546.1,439.5 545.4,439.7 544.8,439.8 544.1,440.0 543.4,440.2 542.7,440.3 542.0,440.5 541.4,440.6 540.7,440.8 540.0,441.0 539.3,441.1 538.6,441.3 538.0,441.5 537.3,441.6 536.6,441.8 535.9,442.0 535.3,442.2 534.6,442.4 533.9,442.6 533.3,442.8 532.6,443.0 531.9,443.2 531.3,443.4 530.6,443.7 530.0,443.9 529.4,444.2 528.7,444.5 528.1,444.7 527.5,445.0 526.9,445.4 526.3,445.7 525.7,446.0 525.2,446.4 524.6,446.7 524.0,447.1 523.5,447.5 523.0,448.0 522.4,448.4 521.9,448.9 521.4,449.4 521.0,449.8 520.5,450.4 520.1,450.9 519.7,451.4 519.3,452.0 518.9,452.6 518.5,453.1 518.2,453.7 517.9,454.3 517.6,455.0 517.4,455.6 517.1,456.2 516.9,456.9 516.8,457.6 516.6,458.2 516.5,458.9 516.4,459.6 516.3,460.3 516.2,461.0 516.1,461.7 516.1,462.4 516.0,463.1 516.0,463.8 516.0,464.5 516.0,465.2 516.0,465.9 516.0,466.6 516.0,467.4 516.0,468.1 516.0,468.8 516.0,469.5 516.0,470.2 515.9,470.9 515.9,471.6 515.9,472.3 515.8,473.0 515.8,473.7 515.7,474.3 515.6,475.0 515.5,475.7 515.4,476.3 515.2,477.0 515.1,477.6" fill="none" stroke="#000" stroke-width="2.30" stroke-linejoin="round" stroke-linecap="butt" clip-path="url(#cc)"/>
<line x1="549.10" y1="278.60" x2="572.80" y2="278.60" stroke="#000" stroke-width="1.30"/>
<polygon points="536.4,278.6 549.1,271.7 549.1,285.5" fill="#1f6fc0" stroke="#000" stroke-width="1.1" stroke-linejoin="miter"/><g font-family="'Liberation Sans', sans-serif" fill="#000"><text x="172.51" y="15.70" font-size="19.00" font-style="italic" textLength="22.51" lengthAdjust="spacingAndGlyphs">Fe</text>
<text x="202.08" y="15.70" font-size="19.00" textLength="37.27" lengthAdjust="spacingAndGlyphs">XES</text>
<text x="245.01" y="15.70" font-size="19.00" textLength="18.54" lengthAdjust="spacingAndGlyphs">in</text>
<text x="269.08" y="15.70" font-size="19.00" font-style="italic" textLength="19.17" lengthAdjust="spacingAndGlyphs">Ni</text>
<text x="289.38" y="18.80" font-size="12.60" textLength="15.88" lengthAdjust="spacingAndGlyphs">80</text>
<text x="306.92" y="15.70" font-size="19.00" font-style="italic" textLength="22.19" lengthAdjust="spacingAndGlyphs">Fe</text>
<text x="330.15" y="18.80" font-size="12.60" textLength="16.53" lengthAdjust="spacingAndGlyphs">20</text>
<text x="172.51" y="263.20" font-size="19.00" font-style="italic" textLength="22.51" lengthAdjust="spacingAndGlyphs">Fe</text>
<text x="202.08" y="263.20" font-size="19.00" textLength="37.27" lengthAdjust="spacingAndGlyphs">XES</text>
<text x="245.01" y="263.20" font-size="19.00" textLength="18.54" lengthAdjust="spacingAndGlyphs">in</text>
<text x="269.08" y="263.20" font-size="19.00" font-style="italic" textLength="19.17" lengthAdjust="spacingAndGlyphs">Ni</text>
<text x="289.43" y="266.30" font-size="12.60" textLength="15.83" lengthAdjust="spacingAndGlyphs">50</text>
<text x="306.92" y="263.20" font-size="19.00" font-style="italic" textLength="22.19" lengthAdjust="spacingAndGlyphs">Fe</text>
<text x="330.31" y="266.30" font-size="12.60" textLength="16.36" lengthAdjust="spacingAndGlyphs">50</text>
<text x="544.21" y="15.70" font-size="19.00" font-style="italic" textLength="22.51" lengthAdjust="spacingAndGlyphs">Fe</text>
<text x="573.67" y="15.70" font-size="19.00" textLength="38.21" lengthAdjust="spacingAndGlyphs">XAS</text>
<text x="462.86" y="50.60" font-size="19.40" textLength="9.74" lengthAdjust="spacingAndGlyphs">a</text>
<text x="463.00" y="297.60" font-size="19.40" textLength="11.25" lengthAdjust="spacingAndGlyphs">b</text>
<text x="618.34" y="53.40" font-size="19.40" textLength="10.09" lengthAdjust="spacingAndGlyphs">c</text>
<text x="13.67" y="496.00" font-size="16.00" textLength="30.44" lengthAdjust="spacingAndGlyphs">600</text>
<text x="67.85" y="496.00" font-size="16.00" textLength="30.44" lengthAdjust="spacingAndGlyphs">620</text>
<text x="122.03" y="496.00" font-size="16.00" textLength="30.44" lengthAdjust="spacingAndGlyphs">640</text>
<text x="176.20" y="496.00" font-size="16.00" textLength="30.44" lengthAdjust="spacingAndGlyphs">660</text>
<text x="230.38" y="496.00" font-size="16.00" textLength="30.44" lengthAdjust="spacingAndGlyphs">680</text>
<text x="284.55" y="496.00" font-size="16.00" textLength="30.45" lengthAdjust="spacingAndGlyphs">700</text>
<text x="338.72" y="496.00" font-size="16.00" textLength="30.45" lengthAdjust="spacingAndGlyphs">720</text>
<text x="392.90" y="496.00" font-size="16.00" textLength="30.45" lengthAdjust="spacingAndGlyphs">740</text>
<text x="447.08" y="496.00" font-size="16.00" textLength="30.45" lengthAdjust="spacingAndGlyphs">760</text>
<text x="117.10" y="167.80" font-size="16.00" textLength="29.42" lengthAdjust="spacingAndGlyphs">704</text>
<text x="182.95" y="167.80" font-size="16.00" textLength="29.69" lengthAdjust="spacingAndGlyphs">706</text>
<text x="248.82" y="167.80" font-size="16.00" textLength="29.69" lengthAdjust="spacingAndGlyphs">708</text>
<text x="117.10" y="415.30" font-size="16.00" textLength="29.42" lengthAdjust="spacingAndGlyphs">704</text>
<text x="182.95" y="415.30" font-size="16.00" textLength="29.69" lengthAdjust="spacingAndGlyphs">706</text>
<text x="248.82" y="415.30" font-size="16.00" textLength="29.69" lengthAdjust="spacingAndGlyphs">708</text>
<text x="654.99" y="32.10" font-size="16.00" textLength="29.60" lengthAdjust="spacingAndGlyphs">730</text>
<text x="654.99" y="122.40" font-size="16.00" textLength="29.66" lengthAdjust="spacingAndGlyphs">725</text>
<text x="654.99" y="212.70" font-size="16.00" textLength="29.60" lengthAdjust="spacingAndGlyphs">720</text>
<text x="654.99" y="303.00" font-size="16.00" textLength="29.66" lengthAdjust="spacingAndGlyphs">715</text>
<text x="654.99" y="393.30" font-size="16.00" textLength="29.60" lengthAdjust="spacingAndGlyphs">710</text>
<text x="654.99" y="483.60" font-size="16.00" textLength="29.66" lengthAdjust="spacingAndGlyphs">705</text>
<text x="79.25" y="49.00" font-size="14.80" textLength="34.02" lengthAdjust="spacingAndGlyphs">300K</text>
<text x="79.06" y="68.90" font-size="14.80" textLength="34.21" lengthAdjust="spacingAndGlyphs">670K</text>
<text x="79.11" y="88.80" font-size="14.80" textLength="34.15" lengthAdjust="spacingAndGlyphs">970K</text>
<text x="78.68" y="108.70" font-size="14.80" textLength="42.69" lengthAdjust="spacingAndGlyphs">1200K</text>
<text x="173.02" y="517.00" font-size="16.00" textLength="172.16" lengthAdjust="spacingAndGlyphs">Emission Energy [eV]</text>
<text x="527.16" y="501.50" font-size="16.00" textLength="101.38" lengthAdjust="spacingAndGlyphs">Int. [Counts]</text>
<text transform="translate(13.60 176.90) rotate(-90.0)" x="-1.72" y="0" font-size="16.00" textLength="100.45" lengthAdjust="spacingAndGlyphs">Int. [Counts]</text>
<text transform="translate(13.60 424.40) rotate(-90.0)" x="-1.72" y="0" font-size="16.00" textLength="100.45" lengthAdjust="spacingAndGlyphs">Int. [Counts]</text>
<text transform="translate(703.40 333.10) rotate(-90.0)" x="-1.70" y="0" font-size="16.00" textLength="166.02" lengthAdjust="spacingAndGlyphs">Incident Energy [eV]</text>
<text transform="translate(588.50 350.70) rotate(-90.0)" x="-0.40" y="0" font-size="16.00" textLength="174.43" lengthAdjust="spacingAndGlyphs">XES incidence energy</text>
<g transform="translate(51.47 202.28) rotate(-45)"><text x="0.00" y="-0.00" font-size="16.80" textLength="9.20" lengthAdjust="spacingAndGlyphs">F</text><text x="9.20" y="-0.00" font-size="16.80" textLength="9.84" lengthAdjust="spacingAndGlyphs">e</text><text x="24.13" y="-0.00" font-size="16.80" textLength="10.18" lengthAdjust="spacingAndGlyphs">3</text><text x="34.31" y="-0.00" font-size="16.80" font-style="italic" textLength="8.34" lengthAdjust="spacingAndGlyphs">s</text><path d="M43.56 -5.02H54.77M52.02 -8.27L55.07 -5.02L52.02 -1.76" fill="none" stroke="#000" stroke-width="1.17" stroke-linejoin="miter" stroke-miterlimit="10"/><text x="56.05" y="-0.00" font-size="16.80" textLength="10.18" lengthAdjust="spacingAndGlyphs">2</text><text x="66.23" y="-0.00" font-size="16.80" font-style="italic" textLength="10.16" lengthAdjust="spacingAndGlyphs">p</text><text x="76.39" y="2.62" font-size="11.76" textLength="7.13" lengthAdjust="spacingAndGlyphs">3</text><text x="83.52" y="2.62" font-size="11.76" textLength="3.77" lengthAdjust="spacingAndGlyphs">/</text><text x="86.85" y="2.62" font-size="11.76" textLength="7.13" lengthAdjust="spacingAndGlyphs">2</text></g>
<g transform="translate(335.97 121.68) rotate(-45)"><text x="0.00" y="-0.00" font-size="16.80" textLength="9.20" lengthAdjust="spacingAndGlyphs">F</text><text x="9.20" y="-0.00" font-size="16.80" textLength="9.84" lengthAdjust="spacingAndGlyphs">e</text><text x="24.13" y="-0.00" font-size="16.80" textLength="10.18" lengthAdjust="spacingAndGlyphs">3</text><text x="34.31" y="-0.00" font-size="16.80" textLength="10.16" lengthAdjust="spacingAndGlyphs">d</text><path d="M45.38 -5.02H56.59M53.84 -8.27L56.89 -5.02L53.84 -1.76" fill="none" stroke="#000" stroke-width="1.17" stroke-linejoin="miter" stroke-miterlimit="10"/><text x="57.88" y="-0.00" font-size="16.80" textLength="10.18" lengthAdjust="spacingAndGlyphs">2</text><text x="68.05" y="-0.00" font-size="16.80" font-style="italic" textLength="10.16" lengthAdjust="spacingAndGlyphs">p</text><text x="78.21" y="2.62" font-size="11.76" textLength="7.13" lengthAdjust="spacingAndGlyphs">3</text><text x="85.34" y="2.62" font-size="11.76" textLength="3.77" lengthAdjust="spacingAndGlyphs">/</text><text x="88.67" y="2.62" font-size="11.76" textLength="7.13" lengthAdjust="spacingAndGlyphs">2</text></g>
<g transform="translate(349.57 202.98) rotate(-45)"><text x="0.00" y="-0.00" font-size="16.80" textLength="9.20" lengthAdjust="spacingAndGlyphs">F</text><text x="9.20" y="-0.00" font-size="16.80" textLength="9.84" lengthAdjust="spacingAndGlyphs">e</text><text x="24.13" y="-0.00" font-size="16.80" textLength="10.18" lengthAdjust="spacingAndGlyphs">3</text><text x="34.31" y="-0.00" font-size="16.80" textLength="10.16" lengthAdjust="spacingAndGlyphs">d</text><path d="M45.38 -5.02H56.59M53.84 -8.27L56.89 -5.02L53.84 -1.76" fill="none" stroke="#000" stroke-width="1.17" stroke-linejoin="miter" stroke-miterlimit="10"/><text x="57.88" y="-0.00" font-size="16.80" textLength="10.18" lengthAdjust="spacingAndGlyphs">2</text><text x="68.05" y="-0.00" font-size="16.80" font-style="italic" textLength="10.16" lengthAdjust="spacingAndGlyphs">p</text><text x="78.21" y="2.62" font-size="11.76" textLength="7.13" lengthAdjust="spacingAndGlyphs">1</text><text x="85.34" y="2.62" font-size="11.76" textLength="3.77" lengthAdjust="spacingAndGlyphs">/</text><text x="88.67" y="2.62" font-size="11.76" textLength="7.13" lengthAdjust="spacingAndGlyphs">2</text></g>
<g transform="translate(417.42 208.13) rotate(-45)"><text x="0.00" y="-0.00" font-size="16.80" textLength="11.97" lengthAdjust="spacingAndGlyphs">N</text><text x="11.97" y="-0.00" font-size="16.80" textLength="4.45" lengthAdjust="spacingAndGlyphs">i</text><text x="21.50" y="-0.00" font-size="16.80" textLength="10.18" lengthAdjust="spacingAndGlyphs">3</text><text x="31.68" y="-0.00" font-size="16.80" font-style="italic" textLength="8.34" lengthAdjust="spacingAndGlyphs">s</text><path d="M40.93 -5.02H52.14M49.39 -8.27L52.44 -5.02L49.39 -1.76" fill="none" stroke="#000" stroke-width="1.17" stroke-linejoin="miter" stroke-miterlimit="10"/><text x="53.42" y="-0.00" font-size="16.80" textLength="10.18" lengthAdjust="spacingAndGlyphs">2</text><text x="63.60" y="-0.00" font-size="16.80" font-style="italic" textLength="10.16" lengthAdjust="spacingAndGlyphs">p</text><text x="73.76" y="2.62" font-size="11.76" textLength="7.13" lengthAdjust="spacingAndGlyphs">3</text><text x="80.88" y="2.62" font-size="11.76" textLength="3.77" lengthAdjust="spacingAndGlyphs">/</text><text x="84.22" y="2.62" font-size="11.76" textLength="7.13" lengthAdjust="spacingAndGlyphs">2</text></g>
<g transform="translate(51.47 449.48) rotate(-45)"><text x="0.00" y="-0.00" font-size="16.80" textLength="9.20" lengthAdjust="spacingAndGlyphs">F</text><text x="9.20" y="-0.00" font-size="16.80" textLength="9.84" lengthAdjust="spacingAndGlyphs">e</text><text x="24.13" y="-0.00" font-size="16.80" textLength="10.18" lengthAdjust="spacingAndGlyphs">3</text><text x="34.31" y="-0.00" font-size="16.80" font-style="italic" textLength="8.34" lengthAdjust="spacingAndGlyphs">s</text><path d="M43.56 -5.02H54.77M52.02 -8.27L55.07 -5.02L52.02 -1.76" fill="none" stroke="#000" stroke-width="1.17" stroke-linejoin="miter" stroke-miterlimit="10"/><text x="56.05" y="-0.00" font-size="16.80" textLength="10.18" lengthAdjust="spacingAndGlyphs">2</text><text x="66.23" y="-0.00" font-size="16.80" font-style="italic" textLength="10.16" lengthAdjust="spacingAndGlyphs">p</text><text x="76.39" y="2.62" font-size="11.76" textLength="7.13" lengthAdjust="spacingAndGlyphs">3</text><text x="83.52" y="2.62" font-size="11.76" textLength="3.77" lengthAdjust="spacingAndGlyphs">/</text><text x="86.85" y="2.62" font-size="11.76" textLength="7.13" lengthAdjust="spacingAndGlyphs">2</text></g>
<g transform="translate(336.17 369.18) rotate(-45)"><text x="0.00" y="-0.00" font-size="16.80" textLength="9.20" lengthAdjust="spacingAndGlyphs">F</text><text x="9.20" y="-0.00" font-size="16.80" textLength="9.84" lengthAdjust="spacingAndGlyphs">e</text><text x="24.13" y="-0.00" font-size="16.80" textLength="10.18" lengthAdjust="spacingAndGlyphs">3</text><text x="34.31" y="-0.00" font-size="16.80" textLength="10.16" lengthAdjust="spacingAndGlyphs">d</text><path d="M45.38 -5.02H56.59M53.84 -8.27L56.89 -5.02L53.84 -1.76" fill="none" stroke="#000" stroke-width="1.17" stroke-linejoin="miter" stroke-miterlimit="10"/><text x="57.88" y="-0.00" font-size="16.80" textLength="10.18" lengthAdjust="spacingAndGlyphs">2</text><text x="68.05" y="-0.00" font-size="16.80" font-style="italic" textLength="10.16" lengthAdjust="spacingAndGlyphs">p</text><text x="78.21" y="2.62" font-size="11.76" textLength="7.13" lengthAdjust="spacingAndGlyphs">3</text><text x="85.34" y="2.62" font-size="11.76" textLength="3.77" lengthAdjust="spacingAndGlyphs">/</text><text x="88.67" y="2.62" font-size="11.76" textLength="7.13" lengthAdjust="spacingAndGlyphs">2</text></g>
<g transform="translate(349.57 451.08) rotate(-45)"><text x="0.00" y="-0.00" font-size="16.80" textLength="9.20" lengthAdjust="spacingAndGlyphs">F</text><text x="9.20" y="-0.00" font-size="16.80" textLength="9.84" lengthAdjust="spacingAndGlyphs">e</text><text x="24.13" y="-0.00" font-size="16.80" textLength="10.18" lengthAdjust="spacingAndGlyphs">3</text><text x="34.31" y="-0.00" font-size="16.80" textLength="10.16" lengthAdjust="spacingAndGlyphs">d</text><path d="M45.38 -5.02H56.59M53.84 -8.27L56.89 -5.02L53.84 -1.76" fill="none" stroke="#000" stroke-width="1.17" stroke-linejoin="miter" stroke-miterlimit="10"/><text x="57.88" y="-0.00" font-size="16.80" textLength="10.18" lengthAdjust="spacingAndGlyphs">2</text><text x="68.05" y="-0.00" font-size="16.80" font-style="italic" textLength="10.16" lengthAdjust="spacingAndGlyphs">p</text><text x="78.21" y="2.62" font-size="11.76" textLength="7.13" lengthAdjust="spacingAndGlyphs">1</text><text x="85.34" y="2.62" font-size="11.76" textLength="3.77" lengthAdjust="spacingAndGlyphs">/</text><text x="88.67" y="2.62" font-size="11.76" textLength="7.13" lengthAdjust="spacingAndGlyphs">2</text></g>
<g transform="translate(417.62 455.63) rotate(-45)"><text x="0.00" y="-0.00" font-size="16.80" textLength="11.97" lengthAdjust="spacingAndGlyphs">N</text><text x="11.97" y="-0.00" font-size="16.80" textLength="4.45" lengthAdjust="spacingAndGlyphs">i</text><text x="21.50" y="-0.00" font-size="16.80" textLength="10.18" lengthAdjust="spacingAndGlyphs">3</text><text x="31.68" y="-0.00" font-size="16.80" font-style="italic" textLength="8.34" lengthAdjust="spacingAndGlyphs">s</text><path d="M40.93 -5.02H52.14M49.39 -8.27L52.44 -5.02L49.39 -1.76" fill="none" stroke="#000" stroke-width="1.17" stroke-linejoin="miter" stroke-miterlimit="10"/><text x="53.42" y="-0.00" font-size="16.80" textLength="10.18" lengthAdjust="spacingAndGlyphs">2</text><text x="63.60" y="-0.00" font-size="16.80" font-style="italic" textLength="10.16" lengthAdjust="spacingAndGlyphs">p</text><text x="73.76" y="2.62" font-size="11.76" textLength="7.13" lengthAdjust="spacingAndGlyphs">3</text><text x="80.88" y="2.62" font-size="11.76" textLength="3.77" lengthAdjust="spacingAndGlyphs">/</text><text x="84.22" y="2.62" font-size="11.76" textLength="7.13" lengthAdjust="spacingAndGlyphs">2</text></g>
<text x="526.10" y="188.00" font-size="18.60" font-style="italic" textLength="10.87" lengthAdjust="spacingAndGlyphs">L</text>
<text x="536.19" y="191.80" font-size="13.00" textLength="8.91" lengthAdjust="spacingAndGlyphs">2</text>
<text x="526.00" y="422.70" font-size="18.60" font-style="italic" textLength="10.87" lengthAdjust="spacingAndGlyphs">L</text>
<text x="536.31" y="426.80" font-size="13.00" textLength="8.68" lengthAdjust="spacingAndGlyphs">3</text></g></svg>
</body></html>
